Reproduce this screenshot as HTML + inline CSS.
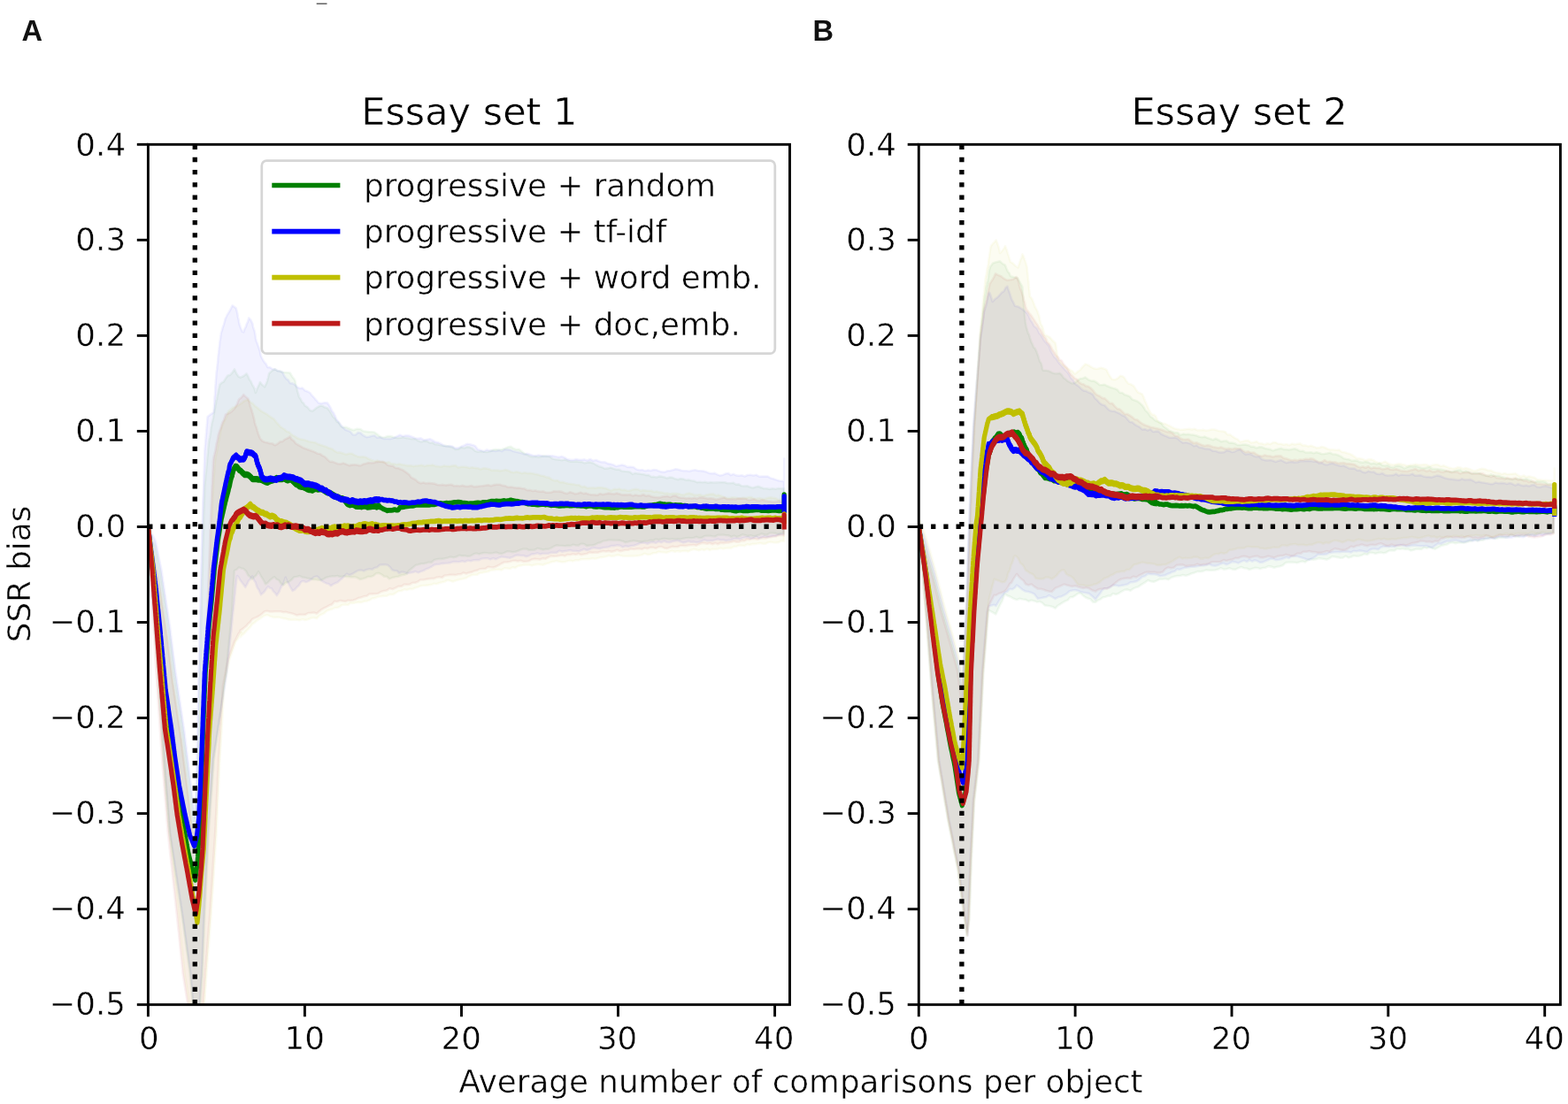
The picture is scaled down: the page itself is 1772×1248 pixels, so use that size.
<!DOCTYPE html>
<html lang="en">
<head>
<meta charset="utf-8">
<title>SSR bias</title>
<style>
html,body{margin:0;padding:0;background:#fff;}
body{width:1772px;height:1248px;overflow:hidden;}
svg{display:block;}
.t text{stroke:#fff;stroke-width:0.5px;paint-order:fill stroke;}
</style>
</head>
<body>
<svg width="1772" height="1248" viewBox="0 0 1772 1248" role="img" aria-label="SSR bias versus average number of comparisons per object for essay sets 1 and 2">
<defs>
<clipPath id="c1"><rect x="167.4" y="163.3" width="725.1" height="972.4"/></clipPath>
<clipPath id="c2"><rect x="1038.3" y="163.3" width="725.1" height="972.4"/></clipPath>
</defs>
<rect width="1772" height="1248" fill="#ffffff"/>
<line x1="357.7" y1="4.2" x2="369.5" y2="4.2" stroke="#555" stroke-width="1.4"/>
<g font-family="'DejaVu Sans', 'Liberation Sans', sans-serif" fill="#000" class="t">
<g clip-path="url(#c1)">
<path d="M166.4 599.0 L167.8 601.8 L169.3 604.7 L170.7 607.5 L172.1 610.3 L173.6 613.2 L175.0 616.0 L175.6 619.2 L176.3 622.4 L176.9 625.6 L177.6 628.8 L178.2 632.0 L178.8 635.2 L179.5 638.4 L180.1 641.6 L180.8 644.8 L181.4 648.0 L181.9 651.0 L182.3 654.1 L182.8 657.1 L183.2 660.2 L183.7 663.2 L184.1 666.3 L184.6 669.3 L185.1 672.4 L185.5 675.4 L186.0 678.5 L186.4 681.5 L186.9 684.6 L187.3 687.6 L187.8 690.7 L188.3 693.7 L188.7 696.8 L189.2 699.8 L189.6 702.9 L190.1 705.9 L190.5 709.0 L191.0 712.0 L191.4 715.1 L191.8 718.1 L192.1 721.2 L192.5 724.2 L192.9 727.3 L193.3 730.4 L193.7 733.4 L194.1 736.5 L194.4 739.5 L194.8 742.6 L195.2 745.6 L195.6 748.7 L196.0 751.8 L196.4 754.8 L196.7 757.9 L197.1 760.9 L197.5 764.0 L198.0 767.0 L198.4 770.1 L198.9 773.1 L199.3 776.2 L199.8 779.2 L200.2 782.3 L200.7 785.3 L201.1 788.4 L201.6 791.4 L202.0 794.5 L202.5 797.5 L202.9 800.6 L203.4 803.6 L203.8 806.7 L204.3 809.7 L204.7 812.8 L205.2 815.8 L205.6 818.9 L206.1 821.9 L206.5 825.0 L207.0 828.0 L207.4 831.0 L207.8 834.1 L208.1 837.1 L208.5 840.2 L208.9 843.2 L209.3 846.3 L209.7 849.3 L210.0 852.4 L210.4 855.4 L210.8 858.5 L211.2 861.5 L211.6 864.6 L212.0 867.6 L212.3 870.7 L212.7 873.7 L213.1 876.8 L213.5 879.8 L213.9 882.9 L214.2 885.9 L214.6 889.0 L215.0 892.0 L215.4 895.1 L215.7 898.2 L216.1 901.2 L216.4 904.3 L216.8 907.4 L217.2 910.5 L217.5 913.6 L217.9 916.7 L218.2 919.8 L218.6 922.8 L218.9 925.9 L219.3 929.0 L219.6 925.8 L219.9 922.7 L220.2 919.5 L220.5 916.4 L220.8 913.2 L221.1 910.1 L221.4 906.9 L221.7 903.8 L222.0 900.6 L222.3 897.5 L222.6 894.3 L222.9 891.2 L223.2 888.0 L223.3 885.0 L223.4 881.9 L223.4 878.9 L223.5 875.8 L223.6 872.8 L223.7 869.7 L223.7 866.7 L223.8 863.6 L223.9 860.6 L224.0 857.5 L224.0 854.5 L224.1 851.4 L224.2 848.4 L224.3 845.3 L224.3 842.3 L224.4 839.2 L224.5 836.2 L224.6 833.1 L224.6 830.1 L224.7 827.0 L224.8 824.0 L224.9 820.9 L224.9 817.7 L225.0 814.6 L225.0 811.4 L225.1 808.3 L225.1 805.1 L225.2 802.0 L225.2 798.9 L225.2 795.7 L225.3 792.6 L225.3 789.4 L225.4 786.3 L225.4 783.1 L225.5 780.0 L225.6 776.9 L225.6 773.9 L225.7 770.8 L225.8 767.8 L225.9 764.7 L225.9 761.6 L226.0 758.6 L226.1 755.5 L226.2 752.5 L226.2 749.4 L226.3 746.4 L226.4 743.3 L226.5 740.2 L226.5 737.2 L226.6 734.1 L226.7 731.1 L226.8 728.0 L226.8 724.9 L226.9 721.9 L227.0 718.8 L227.0 715.8 L227.1 712.7 L227.2 709.6 L227.3 706.6 L227.3 703.5 L227.4 700.5 L227.5 697.4 L227.6 694.4 L227.6 691.3 L227.7 688.2 L227.8 685.2 L227.9 682.1 L227.9 679.1 L228.0 676.0 L228.1 673.0 L228.2 670.0 L228.2 667.0 L228.3 664.0 L228.4 661.0 L228.4 658.0 L228.5 655.0 L228.6 652.0 L228.7 649.0 L228.8 646.0 L228.8 643.0 L228.9 640.0 L229.0 637.0 L229.1 634.0 L229.1 631.0 L229.2 628.0 L229.3 625.0 L229.3 622.0 L229.4 619.0 L229.5 616.0 L229.6 613.0 L229.7 610.0 L229.7 607.0 L229.8 604.0 L229.9 601.0 L230.0 598.0 L230.0 595.0 L230.1 592.0 L230.2 589.0 L230.2 586.0 L230.3 583.0 L230.4 580.0 L230.5 576.8 L230.6 573.6 L230.7 570.4 L230.8 567.2 L230.9 564.0 L231.1 560.8 L231.2 557.6 L231.3 554.4 L231.4 551.2 L231.5 548.0 L231.8 545.0 L232.1 542.0 L232.3 539.0 L232.6 536.0 L232.9 533.0 L233.2 530.0 L233.5 527.0 L233.8 524.0 L234.0 521.0 L234.3 518.0 L234.6 515.0 L234.9 512.0 L235.2 509.0 L235.4 506.0 L235.7 503.0 L236.0 500.0 L236.5 496.8 L237.1 494.2 L237.6 491.4 L238.2 486.9 L238.7 482.8 L239.2 480.2 L239.8 477.1 L240.3 475.5 L240.9 472.8 L241.4 469.6 L242.0 466.4 L242.6 463.6 L243.3 459.2 L243.9 456.3 L244.5 452.5 L245.1 451.2 L245.7 446.7 L246.3 445.0 L247.0 440.5 L247.6 438.5 L248.2 435.0 L250.5 432.7 L252.7 431.6 L255.0 427.7 L257.5 424.4 L260.0 423.9 L262.5 421.2 L265.0 417.4 L267.3 422.2 L269.6 425.8 L271.9 426.7 L275.3 425.0 L278.7 422.4 L280.4 425.4 L282.0 429.3 L283.7 431.4 L285.4 435.4 L286.5 437.0 L287.7 439.5 L288.8 444.0 L290.1 440.7 L291.4 437.6 L292.6 435.1 L293.9 432.0 L296.4 435.1 L299.0 437.3 L300.0 435.3 L301.0 433.3 L302.0 430.6 L303.0 426.7 L304.0 422.2 L307.4 419.1 L310.8 417.2 L313.6 419.2 L316.5 419.5 L319.3 420.8 L323.6 421.0 L327.8 421.5 L330.3 425.9 L332.8 429.0 L333.6 430.9 L334.5 435.8 L335.4 438.8 L336.2 442.3 L337.0 444.9 L337.9 448.4 L339.6 450.9 L341.3 454.5 L343.0 455.6 L344.7 458.7 L347.5 460.3 L350.2 463.7 L353.0 464.7 L355.9 462.4 L358.7 460.3 L361.6 458.8 L364.4 458.8 L367.2 460.6 L370.0 461.3 L372.1 463.8 L374.2 466.9 L376.4 471.1 L378.5 473.1 L380.6 476.7 L382.8 477.6 L384.9 481.4 L387.0 483.0 L391.2 482.9 L395.5 484.8 L399.4 486.3 L403.4 484.8 L407.3 485.0 L410.5 487.3 L413.6 487.7 L416.8 488.1 L420.0 488.2 L423.0 488.5 L425.9 490.6 L428.9 493.0 L431.9 494.5 L434.8 494.3 L437.8 493.1 L441.4 493.1 L444.9 494.3 L448.4 495.1 L452.0 494.9 L455.4 494.2 L458.8 494.9 L462.1 495.4 L465.5 496.3 L468.9 496.0 L472.3 498.0 L475.7 499.4 L479.1 498.4 L482.5 498.6 L485.9 500.7 L488.9 500.3 L491.9 502.3 L495.0 502.4 L498.0 503.2 L501.0 504.0 L504.4 503.9 L507.8 504.7 L511.2 505.7 L514.6 508.0 L518.0 507.8 L521.3 505.7 L524.6 506.5 L528.0 505.1 L531.0 505.6 L534.0 507.0 L537.0 509.8 L540.0 510.7 L543.4 510.3 L546.8 510.7 L550.2 510.9 L553.6 510.2 L557.0 508.6 L560.3 508.1 L563.7 508.4 L567.0 508.0 L570.3 507.0 L573.7 505.6 L577.0 504.7 L580.1 506.8 L583.3 508.0 L586.4 507.7 L589.6 510.2 L592.7 512.6 L595.9 514.1 L599.0 515.8 L602.1 516.5 L605.3 516.0 L608.4 516.7 L611.6 516.1 L614.7 515.2 L617.9 515.7 L621.0 516.0 L624.4 518.4 L627.9 519.2 L631.3 519.6 L634.7 520.3 L638.2 519.6 L641.6 520.7 L644.8 521.8 L648.0 521.7 L651.1 521.4 L654.3 521.9 L657.5 522.1 L660.6 523.4 L663.8 522.7 L667.0 522.4 L670.3 523.5 L673.7 525.5 L677.0 527.2 L680.3 528.1 L683.7 529.8 L687.0 529.4 L690.1 528.6 L693.3 529.8 L696.4 530.7 L699.6 530.7 L702.7 532.5 L705.9 532.8 L709.0 533.0 L712.0 533.6 L715.0 535.9 L718.0 534.7 L721.0 535.4 L724.0 535.8 L727.0 536.1 L730.0 537.1 L733.0 537.0 L736.0 539.0 L739.0 538.9 L742.0 539.5 L745.0 538.4 L748.0 538.8 L751.0 539.5 L754.0 540.6 L757.0 539.6 L760.0 539.8 L763.1 541.3 L766.2 542.1 L769.2 541.1 L772.3 541.6 L775.4 542.7 L778.5 542.4 L781.5 543.2 L784.6 543.8 L787.7 545.1 L790.8 544.8 L793.8 545.2 L796.9 544.7 L800.0 545.7 L803.2 545.1 L806.4 545.5 L809.5 545.4 L812.7 545.3 L815.9 545.0 L819.1 545.2 L822.3 546.3 L825.5 546.2 L828.6 545.7 L831.8 547.7 L835.0 547.4 L838.1 549.3 L841.2 549.5 L844.4 549.2 L847.5 550.6 L850.6 551.5 L853.8 550.6 L856.9 549.7 L860.0 551.0 L863.3 552.2 L866.5 552.3 L869.8 552.9 L873.1 552.3 L876.4 552.8 L879.7 552.1 L882.9 552.3 L886.2 552.4 L885.8 602.7 L882.7 602.7 L879.6 604.0 L876.4 602.9 L873.3 602.5 L870.2 602.5 L867.1 604.6 L864.0 604.5 L860.8 603.2 L857.7 604.8 L854.6 605.8 L851.5 606.3 L848.3 605.3 L845.2 605.9 L842.1 605.1 L839.0 604.3 L835.9 606.0 L832.7 606.9 L829.6 605.6 L826.5 607.0 L823.5 605.3 L820.4 605.3 L817.4 604.6 L814.3 604.7 L811.3 604.8 L808.3 606.5 L805.2 606.2 L802.2 605.8 L799.2 605.7 L796.1 606.1 L793.1 607.9 L790.0 608.1 L787.0 606.9 L784.0 608.0 L780.9 608.2 L777.9 608.1 L774.8 608.3 L771.8 608.9 L768.8 609.6 L765.7 609.2 L762.7 609.5 L759.7 609.2 L756.6 609.6 L753.6 609.2 L750.5 609.1 L747.5 609.4 L744.4 610.2 L741.2 609.5 L738.1 611.1 L735.0 610.7 L731.8 611.7 L728.7 611.8 L725.6 612.6 L722.4 612.4 L719.3 611.7 L716.2 611.3 L713.1 611.8 L709.9 612.6 L706.8 613.3 L703.7 611.7 L700.5 610.9 L697.4 610.7 L694.3 610.6 L691.1 610.5 L688.0 610.5 L684.9 611.3 L681.8 611.5 L678.7 613.3 L675.6 614.1 L672.5 615.7 L669.4 616.5 L666.3 616.5 L663.2 617.2 L660.1 615.1 L656.9 614.7 L653.8 616.6 L650.7 616.5 L647.6 615.8 L644.5 617.1 L641.4 616.9 L638.3 617.3 L635.2 617.0 L632.1 616.8 L629.0 616.4 L625.9 617.8 L622.8 619.6 L619.7 620.8 L616.6 620.9 L613.5 621.6 L610.4 620.5 L607.3 620.0 L604.2 621.6 L601.1 621.7 L597.9 622.0 L594.8 620.5 L591.7 620.6 L588.6 621.4 L585.5 622.7 L582.4 623.8 L579.3 624.3 L576.2 623.5 L573.1 623.4 L570.0 624.9 L566.8 626.1 L563.6 625.4 L560.5 624.4 L557.3 625.2 L554.1 625.5 L550.9 625.3 L547.7 625.0 L544.5 625.4 L541.4 626.4 L538.2 625.6 L535.0 626.6 L531.8 628.5 L528.6 629.0 L525.4 628.2 L522.2 628.4 L519.0 627.8 L515.8 629.5 L512.5 630.3 L509.3 629.6 L506.1 630.5 L502.9 631.3 L499.7 631.9 L496.5 631.8 L493.6 632.3 L490.6 633.1 L487.7 635.7 L484.7 635.6 L481.8 636.5 L478.8 637.2 L475.9 637.3 L472.9 638.3 L470.0 638.8 L467.4 640.9 L464.8 643.1 L462.2 645.1 L459.6 648.8 L457.0 649.8 L453.6 650.2 L450.2 651.8 L446.8 652.2 L443.4 653.1 L440.0 654.4 L437.0 651.8 L434.0 651.6 L431.0 649.3 L428.0 647.9 L425.0 648.2 L422.0 650.9 L419.0 652.0 L416.0 651.9 L413.0 653.3 L410.0 654.2 L407.0 655.0 L404.0 653.3 L401.0 652.1 L398.0 652.4 L395.0 652.3 L391.6 652.0 L388.2 651.3 L384.8 652.2 L381.4 651.0 L378.0 651.5 L375.0 651.4 L372.0 652.1 L369.0 652.7 L366.0 654.4 L363.0 655.9 L360.0 655.7 L356.9 655.2 L353.9 655.2 L350.8 654.2 L347.7 653.8 L344.6 653.1 L341.6 652.6 L338.5 651.1 L335.4 652.0 L332.3 652.4 L329.2 655.8 L326.2 658.0 L323.1 658.7 L320.0 661.4 L317.5 659.8 L315.0 655.9 L312.5 654.9 L310.0 652.2 L307.5 654.1 L305.0 656.1 L302.5 658.8 L300.0 660.4 L298.4 657.1 L296.8 654.3 L295.2 652.0 L293.6 649.0 L292.0 646.1 L289.7 650.3 L287.3 652.3 L285.0 654.8 L282.7 652.2 L280.3 650.3 L278.0 645.7 L275.3 643.1 L272.7 642.5 L270.0 641.4 L267.5 643.9 L265.0 645.0 L264.8 647.2 L264.6 649.3 L264.4 653.8 L264.2 657.2 L264.0 659.8 L263.8 663.3 L263.6 665.1 L263.4 668.3 L263.2 672.4 L263.1 673.8 L262.9 677.4 L262.7 679.5 L262.5 683.9 L262.3 687.6 L262.1 690.4 L261.9 692.8 L261.7 694.3 L261.5 697.9 L261.2 700.9 L260.9 704.6 L260.6 707.7 L260.3 710.8 L260.0 713.9 L259.7 717.0 L259.4 720.0 L259.1 723.1 L258.8 726.2 L258.5 729.2 L258.2 732.3 L257.9 735.4 L257.6 738.5 L257.3 741.5 L257.0 744.6 L256.7 747.7 L256.4 750.8 L256.1 753.9 L255.8 756.9 L255.5 760.0 L255.1 763.1 L254.6 766.1 L254.2 769.2 L253.8 772.2 L253.4 775.3 L252.9 778.4 L252.5 781.4 L252.1 784.5 L251.6 787.6 L251.2 790.6 L250.8 793.7 L250.4 796.8 L249.9 799.8 L249.5 802.9 L249.1 805.9 L248.7 809.0 L248.2 812.1 L247.8 815.1 L247.4 818.2 L246.9 821.2 L246.5 824.3 L246.1 827.4 L245.7 830.4 L245.2 833.5 L244.8 836.6 L244.4 839.6 L243.9 842.7 L243.5 845.8 L243.1 848.8 L242.7 851.9 L242.2 854.9 L241.8 858.0 L241.6 861.0 L241.4 864.1 L241.2 867.1 L241.0 870.1 L240.7 873.2 L240.5 876.2 L240.3 879.3 L240.1 882.3 L239.9 885.3 L239.7 888.4 L239.5 891.4 L239.3 894.4 L239.1 897.5 L238.8 900.5 L238.6 903.6 L238.4 906.6 L238.2 909.6 L238.0 912.7 L237.8 915.7 L237.6 918.7 L237.4 921.8 L237.2 924.8 L236.9 927.9 L236.7 930.9 L236.5 933.9 L236.3 937.0 L236.1 940.0 L236.0 943.0 L235.8 946.0 L235.7 949.0 L235.5 952.0 L235.4 955.0 L235.2 958.0 L235.1 961.0 L234.9 964.0 L234.8 967.0 L234.6 970.0 L234.5 973.0 L234.3 976.0 L234.2 979.0 L234.0 982.0 L233.9 985.0 L233.7 988.0 L233.6 991.0 L233.4 994.0 L233.3 997.0 L233.1 1000.0 L233.0 1003.0 L232.8 1006.0 L232.7 1009.0 L232.5 1012.0 L232.4 1015.0 L232.2 1018.0 L232.1 1021.0 L231.9 1024.0 L231.8 1027.0 L231.6 1030.0 L231.5 1033.0 L231.3 1036.0 L231.2 1039.0 L231.1 1042.1 L230.9 1045.1 L230.8 1048.2 L230.7 1051.2 L230.6 1054.3 L230.5 1057.3 L230.3 1060.4 L230.2 1063.4 L230.1 1066.5 L230.0 1069.5 L229.9 1072.6 L229.8 1075.6 L229.6 1078.7 L229.5 1081.7 L229.4 1084.8 L229.3 1087.8 L229.2 1090.9 L229.0 1093.9 L228.9 1097.0 L228.8 1100.0 L228.6 1103.2 L228.3 1106.4 L228.1 1109.5 L227.9 1112.7 L227.7 1115.9 L227.4 1119.1 L227.2 1122.3 L227.0 1125.5 L226.8 1128.6 L226.5 1131.8 L226.3 1135.0 L225.6 1138.0 L224.9 1141.0 L224.2 1144.0 L223.5 1147.0 L222.8 1150.0 L222.2 1153.0 L221.5 1156.0 L220.8 1159.0 L220.1 1162.0 L219.4 1165.0 L219.2 1162.0 L219.1 1159.0 L218.9 1156.0 L218.7 1153.0 L218.5 1150.0 L218.4 1147.0 L218.2 1144.0 L218.0 1141.0 L217.9 1138.0 L217.7 1135.0 L217.4 1131.8 L217.1 1128.6 L216.8 1125.5 L216.5 1122.3 L216.2 1119.1 L216.0 1115.9 L215.7 1112.7 L215.4 1109.5 L215.1 1106.4 L214.8 1103.2 L214.5 1100.0 L214.1 1097.0 L213.7 1093.9 L213.2 1090.9 L212.8 1087.8 L212.4 1084.8 L212.0 1081.7 L211.6 1078.7 L211.1 1075.6 L210.7 1072.6 L210.3 1069.5 L209.9 1066.5 L209.5 1063.4 L209.1 1060.4 L208.6 1057.3 L208.2 1054.3 L207.8 1051.2 L207.4 1048.2 L207.0 1045.1 L206.5 1042.1 L206.1 1039.0 L205.7 1036.0 L205.2 1032.9 L204.8 1029.9 L204.3 1026.8 L203.8 1023.7 L203.4 1020.7 L202.9 1017.6 L202.4 1014.5 L202.0 1011.5 L201.5 1008.4 L201.0 1005.3 L200.6 1002.3 L200.1 999.2 L199.6 996.1 L199.2 993.1 L198.7 990.0 L198.2 986.9 L197.8 983.8 L197.3 980.6 L196.8 977.5 L196.4 974.4 L195.9 971.2 L195.4 968.1 L194.9 965.0 L194.5 961.9 L194.0 958.8 L193.5 955.6 L193.1 952.5 L192.6 949.4 L192.1 946.2 L191.7 943.1 L191.2 940.0 L191.0 937.0 L190.7 933.9 L190.5 930.9 L190.2 927.9 L190.0 924.8 L189.8 921.8 L189.5 918.7 L189.3 915.7 L189.0 912.7 L188.8 909.6 L188.6 906.6 L188.3 903.6 L188.1 900.5 L187.8 897.5 L187.6 894.4 L187.3 891.4 L187.1 888.4 L186.9 885.3 L186.6 882.3 L186.4 879.3 L186.1 876.2 L185.9 873.2 L185.7 870.1 L185.4 867.1 L185.2 864.1 L184.9 861.0 L184.7 858.0 L184.5 854.9 L184.3 851.9 L184.1 848.8 L183.9 845.8 L183.7 842.7 L183.5 839.6 L183.3 836.6 L183.1 833.5 L182.9 830.4 L182.7 827.4 L182.5 824.3 L182.3 821.2 L182.1 818.2 L181.9 815.1 L181.7 812.1 L181.4 809.0 L181.2 805.9 L181.0 802.9 L180.8 799.8 L180.6 796.8 L180.4 793.7 L180.2 790.6 L180.0 787.6 L179.8 784.5 L179.6 781.4 L179.4 778.4 L179.2 775.3 L179.0 772.2 L178.8 769.2 L178.6 766.1 L178.4 763.1 L178.2 760.0 L178.0 756.9 L177.7 753.8 L177.5 750.8 L177.3 747.7 L177.0 744.6 L176.8 741.5 L176.6 738.5 L176.4 735.4 L176.1 732.3 L175.9 729.2 L175.7 726.2 L175.4 723.1 L175.2 720.0 L175.0 716.9 L174.7 713.8 L174.5 710.8 L174.3 707.7 L174.0 704.6 L173.8 701.5 L173.6 698.5 L173.4 695.4 L173.1 692.3 L172.9 689.2 L172.7 686.2 L172.4 683.1 L172.2 680.0 L172.0 677.0 L171.8 673.9 L171.6 670.9 L171.4 667.9 L171.2 664.8 L171.0 661.8 L170.8 658.8 L170.6 655.7 L170.4 652.7 L170.2 649.6 L170.0 646.6 L169.8 643.6 L169.6 640.5 L169.4 637.5 L169.2 634.5 L169.0 631.4 L168.8 628.4 L168.6 625.4 L168.4 622.3 L168.2 619.3 L168.0 616.2 L167.8 613.2 L167.6 610.2 L167.4 607.1 L167.2 604.1 L167.0 601.1 L166.8 598.0 L166.6 595.0Z" fill="#008000" fill-opacity="0.050" stroke="#008000" stroke-opacity="0.050" stroke-width="2.6" stroke-linejoin="round"/>
<path d="M167.4 595.0 L168.8 597.8 L170.3 600.7 L171.7 603.5 L173.1 606.3 L174.6 609.2 L176.0 612.0 L176.6 615.2 L177.3 618.4 L177.9 621.6 L178.6 624.8 L179.2 628.0 L179.8 631.2 L180.5 634.4 L181.1 637.6 L181.8 640.8 L182.4 644.0 L182.9 647.0 L183.3 650.1 L183.8 653.1 L184.2 656.2 L184.7 659.2 L185.1 662.3 L185.6 665.3 L186.1 668.4 L186.5 671.4 L187.0 674.5 L187.4 677.5 L187.9 680.6 L188.3 683.6 L188.8 686.7 L189.3 689.7 L189.7 692.8 L190.2 695.8 L190.6 698.9 L191.1 701.9 L191.5 705.0 L192.0 708.0 L192.4 711.1 L192.8 714.1 L193.1 717.2 L193.5 720.2 L193.9 723.3 L194.3 726.4 L194.7 729.4 L195.1 732.5 L195.4 735.5 L195.8 738.6 L196.2 741.6 L196.6 744.7 L197.0 747.8 L197.4 750.8 L197.7 753.9 L198.1 756.9 L198.5 760.0 L199.0 763.0 L199.4 766.1 L199.9 769.1 L200.3 772.2 L200.8 775.2 L201.2 778.3 L201.7 781.3 L202.1 784.4 L202.6 787.4 L203.0 790.5 L203.5 793.5 L203.9 796.6 L204.4 799.6 L204.8 802.7 L205.3 805.7 L205.7 808.8 L206.2 811.8 L206.6 814.9 L207.1 817.9 L207.5 821.0 L208.0 824.0 L208.4 827.0 L208.8 830.1 L209.1 833.1 L209.5 836.2 L209.9 839.2 L210.3 842.3 L210.7 845.3 L211.0 848.4 L211.4 851.4 L211.8 854.5 L212.2 857.5 L212.6 860.6 L213.0 863.6 L213.3 866.7 L213.7 869.7 L214.1 872.8 L214.5 875.8 L214.9 878.9 L215.2 881.9 L215.6 885.0 L216.0 888.0 L216.4 891.1 L216.7 894.2 L217.1 897.2 L217.4 900.3 L217.8 903.4 L218.2 906.5 L218.5 909.6 L218.9 912.7 L219.2 915.8 L219.6 918.8 L219.9 921.9 L220.3 925.0 L220.4 921.9 L220.5 918.8 L220.7 915.8 L220.8 912.7 L220.9 909.6 L221.0 906.5 L221.1 903.4 L221.2 900.3 L221.3 897.2 L221.5 894.2 L221.6 891.1 L221.7 888.0 L221.8 885.0 L221.9 881.9 L221.9 878.9 L222.0 875.8 L222.1 872.8 L222.2 869.7 L222.2 866.7 L222.3 863.6 L222.4 860.6 L222.5 857.5 L222.5 854.5 L222.6 851.4 L222.7 848.4 L222.8 845.3 L222.8 842.3 L222.9 839.2 L223.0 836.2 L223.1 833.1 L223.1 830.1 L223.2 827.0 L223.3 824.0 L223.4 820.9 L223.4 817.7 L223.5 814.6 L223.5 811.4 L223.6 808.3 L223.6 805.1 L223.7 802.0 L223.7 798.9 L223.8 795.7 L223.8 792.6 L223.8 789.4 L223.9 786.3 L223.9 783.1 L224.0 780.0 L224.1 776.9 L224.1 773.9 L224.2 770.8 L224.3 767.8 L224.4 764.7 L224.4 761.6 L224.5 758.6 L224.6 755.5 L224.7 752.5 L224.7 749.4 L224.8 746.4 L224.9 743.3 L225.0 740.2 L225.0 737.2 L225.1 734.1 L225.2 731.1 L225.2 728.0 L225.3 724.9 L225.4 721.9 L225.5 718.8 L225.5 715.8 L225.6 712.7 L225.7 709.6 L225.8 706.6 L225.8 703.5 L225.9 700.5 L226.0 697.4 L226.1 694.4 L226.1 691.3 L226.2 688.2 L226.3 685.2 L226.4 682.1 L226.4 679.1 L226.5 676.0 L226.6 673.0 L226.7 670.0 L226.7 667.0 L226.8 664.0 L226.9 661.0 L226.9 658.0 L227.0 655.0 L227.1 652.0 L227.2 649.0 L227.2 646.0 L227.3 643.0 L227.4 640.0 L227.5 637.0 L227.6 634.0 L227.6 631.0 L227.7 628.0 L227.8 625.0 L227.8 622.0 L227.9 619.0 L228.0 616.0 L228.1 613.0 L228.2 610.0 L228.2 607.0 L228.3 604.0 L228.4 601.0 L228.5 598.0 L228.5 595.0 L228.6 592.0 L228.7 589.0 L228.8 586.0 L228.8 583.0 L228.9 580.0 L229.0 576.8 L229.1 573.6 L229.2 570.4 L229.3 567.2 L229.4 564.0 L229.6 560.8 L229.7 557.6 L229.8 554.4 L229.9 551.2 L230.0 548.0 L230.1 544.8 L230.2 541.7 L230.3 538.5 L230.4 535.3 L230.5 532.2 L230.7 529.0 L230.8 525.8 L230.9 522.7 L231.0 519.5 L231.1 516.3 L231.2 513.2 L231.3 510.0 L231.6 507.0 L231.8 504.0 L232.1 501.0 L232.3 498.0 L232.6 495.0 L232.8 492.0 L233.1 489.0 L233.3 486.0 L233.6 483.0 L233.8 480.0 L234.1 477.0 L234.3 474.0 L234.6 471.0 L238.0 468.4 L241.4 466.1 L241.6 464.1 L241.9 460.2 L242.1 456.8 L242.3 453.7 L242.5 449.5 L242.8 446.7 L243.0 444.0 L243.2 441.6 L243.4 436.8 L243.7 433.4 L243.9 429.6 L244.1 428.1 L244.3 425.4 L244.6 420.7 L244.8 419.4 L245.2 417.2 L245.5 413.7 L245.9 410.4 L246.3 405.9 L246.6 401.7 L247.0 399.6 L247.4 395.7 L247.7 392.6 L248.1 389.6 L248.4 386.0 L248.8 384.0 L249.2 381.3 L249.5 379.6 L249.9 376.3 L250.9 373.4 L251.8 370.0 L252.8 367.2 L253.8 363.6 L254.8 359.8 L255.7 358.3 L256.7 356.0 L258.7 352.9 L260.6 349.5 L262.6 345.3 L266.8 348.4 L267.5 351.2 L268.2 353.6 L268.9 358.3 L269.6 361.1 L270.3 365.4 L271.0 367.8 L272.4 371.8 L273.9 374.9 L275.3 375.4 L276.5 371.5 L277.7 369.8 L278.8 366.0 L280.0 363.9 L281.2 359.4 L283.3 361.5 L285.4 365.9 L286.1 369.9 L286.9 372.0 L287.6 374.1 L288.3 377.5 L289.0 382.5 L289.8 385.9 L290.5 387.5 L291.5 390.4 L292.5 393.2 L293.6 396.2 L294.6 401.4 L295.6 404.0 L297.3 407.2 L299.0 409.7 L300.7 411.5 L302.4 415.1 L305.2 415.2 L308.0 417.3 L310.8 417.4 L313.6 418.9 L316.5 419.6 L319.3 420.8 L321.4 425.2 L323.6 428.2 L325.7 429.6 L327.8 433.1 L330.6 433.4 L333.4 434.9 L336.2 437.8 L339.0 439.0 L341.9 438.6 L344.7 441.5 L347.5 442.4 L350.2 444.0 L353.0 447.4 L354.8 449.3 L356.5 451.5 L358.2 453.2 L360.0 455.5 L363.3 456.1 L366.7 455.2 L370.0 455.4 L371.7 457.8 L373.4 460.5 L375.2 464.5 L376.9 466.5 L378.6 469.8 L380.2 474.0 L381.9 475.8 L383.6 478.3 L387.0 482.5 L390.4 485.7 L393.2 486.7 L396.1 488.1 L398.9 491.5 L401.7 491.5 L404.5 488.9 L407.3 489.2 L410.6 492.2 L414.0 494.1 L417.1 493.7 L420.1 492.7 L423.2 492.3 L426.2 494.8 L429.3 494.2 L433.6 495.9 L437.8 495.9 L441.4 496.1 L444.9 495.1 L448.4 493.3 L452.0 491.6 L455.4 493.1 L458.8 492.2 L462.1 492.5 L465.5 493.7 L468.9 495.3 L472.3 495.7 L475.7 495.4 L479.1 497.4 L482.5 496.7 L485.9 496.2 L488.9 497.7 L491.9 499.6 L495.0 500.1 L498.0 501.4 L501.0 503.3 L504.4 504.5 L507.8 504.0 L511.2 504.6 L514.6 506.6 L518.0 506.4 L521.3 504.8 L524.6 503.4 L528.0 501.8 L531.0 502.2 L534.0 502.9 L537.0 504.1 L540.0 508.1 L543.4 508.9 L546.8 510.2 L550.2 508.4 L553.6 509.4 L557.0 509.6 L560.3 510.0 L563.7 508.9 L567.0 510.1 L570.3 508.0 L573.7 508.1 L577.0 508.6 L580.1 510.1 L583.3 510.8 L586.4 511.4 L589.6 512.3 L592.7 513.5 L595.9 512.8 L599.0 513.8 L602.1 514.7 L605.3 515.3 L608.4 514.4 L611.6 515.1 L614.7 515.7 L617.9 515.4 L621.0 515.4 L624.4 515.3 L627.9 516.0 L631.3 516.7 L634.7 515.9 L638.2 517.3 L641.6 519.3 L644.8 519.9 L648.0 519.9 L651.1 519.1 L654.3 519.7 L657.5 519.7 L660.6 519.4 L663.8 520.5 L667.0 519.0 L670.3 520.8 L673.7 520.0 L677.0 521.6 L680.3 522.4 L683.7 522.4 L687.0 524.1 L690.1 524.6 L693.3 525.5 L696.4 527.1 L699.6 526.3 L702.7 525.5 L705.9 526.2 L709.0 527.9 L712.4 527.8 L715.8 528.0 L719.2 530.5 L722.6 531.5 L725.8 531.1 L729.0 532.3 L732.2 531.4 L735.4 532.0 L738.6 531.1 L741.8 531.3 L745.0 532.6 L748.1 533.4 L751.2 533.6 L754.3 532.2 L757.4 532.1 L760.5 531.2 L763.5 530.2 L766.6 530.7 L769.7 531.8 L772.8 532.3 L775.9 532.2 L779.0 532.7 L782.2 531.7 L785.5 531.2 L788.7 532.1 L791.9 532.3 L795.1 532.6 L798.4 533.5 L801.6 534.9 L804.6 535.2 L807.7 534.9 L810.7 536.4 L813.7 537.6 L816.8 536.9 L819.8 535.6 L822.9 534.9 L825.9 537.1 L828.9 535.9 L832.0 537.4 L835.0 537.8 L838.3 537.3 L841.6 538.5 L844.9 537.0 L848.1 536.7 L851.4 537.5 L854.7 536.8 L858.0 538.7 L861.2 538.6 L864.5 538.6 L867.7 538.6 L870.9 540.5 L874.1 541.3 L877.4 542.5 L880.6 543.5 L886.2 544.1 L886.2 541.8 L886.2 538.3 L886.2 533.7 L886.2 530.6 L886.2 526.7 L886.2 522.7 L886.2 520.5 L886.2 518.5 L885.8 604.1 L882.7 604.1 L879.6 604.4 L876.4 605.7 L873.3 605.9 L870.2 606.4 L867.1 607.2 L864.0 606.6 L860.8 607.6 L857.7 608.5 L854.6 606.7 L851.5 608.3 L848.3 608.7 L845.2 607.3 L842.1 607.6 L839.0 608.3 L835.9 609.6 L832.7 608.9 L829.6 609.1 L826.5 610.2 L823.5 610.6 L820.4 611.3 L817.4 610.3 L814.3 610.5 L811.3 609.4 L808.3 610.3 L805.2 611.2 L802.2 611.2 L799.2 611.5 L796.1 610.3 L793.1 611.7 L790.0 612.7 L787.0 613.3 L784.0 612.4 L780.9 612.7 L777.9 611.7 L774.8 612.9 L771.8 613.4 L768.8 612.3 L765.7 611.1 L762.7 611.6 L759.7 612.2 L756.6 613.2 L753.6 613.0 L750.5 611.7 L747.5 613.3 L744.4 612.2 L741.2 613.8 L738.1 613.0 L735.0 613.2 L731.8 614.7 L728.7 613.8 L725.6 613.5 L722.4 614.5 L719.3 615.7 L716.2 616.7 L713.1 617.0 L709.9 617.9 L706.8 617.3 L703.7 618.4 L700.5 616.6 L697.4 616.3 L694.3 617.1 L691.1 617.0 L688.0 618.2 L684.9 618.8 L681.8 619.0 L678.7 620.1 L675.6 620.0 L672.5 619.4 L669.4 619.5 L666.3 621.0 L663.2 622.0 L660.1 620.8 L656.9 622.1 L653.8 623.3 L650.7 622.8 L647.6 622.8 L644.5 621.9 L641.4 622.6 L638.3 623.0 L635.2 623.6 L632.1 622.5 L629.0 624.7 L625.9 624.7 L622.8 624.6 L619.7 625.8 L616.6 625.8 L613.5 625.8 L610.4 626.6 L607.3 625.3 L604.2 626.2 L601.1 626.4 L597.9 628.2 L594.8 629.2 L591.7 628.0 L588.6 628.1 L585.5 627.4 L582.4 628.0 L579.3 629.6 L576.2 630.8 L573.1 630.3 L570.0 629.8 L566.8 629.4 L563.6 630.6 L560.5 632.2 L557.3 631.0 L554.1 632.4 L550.9 631.1 L547.7 631.2 L544.5 631.5 L541.4 633.1 L538.2 633.0 L535.0 633.3 L531.8 634.3 L528.6 633.6 L525.4 635.1 L522.2 634.3 L519.0 635.2 L515.8 635.1 L512.5 635.0 L509.3 636.1 L506.1 636.5 L502.9 636.8 L499.7 637.1 L496.5 637.8 L493.5 638.0 L490.6 638.6 L487.6 640.7 L484.6 642.2 L481.7 643.2 L478.7 645.1 L475.8 645.9 L472.8 647.4 L469.7 646.1 L466.6 646.9 L463.5 647.6 L460.3 648.3 L457.2 647.1 L454.1 646.5 L451.0 648.0 L448.4 645.2 L445.8 645.3 L443.1 644.2 L440.5 640.8 L437.9 638.7 L435.3 638.2 L432.3 638.4 L429.4 638.6 L426.4 641.2 L423.4 641.9 L420.5 643.8 L417.5 643.3 L414.3 644.0 L411.1 645.5 L407.9 644.6 L404.6 645.0 L401.4 646.9 L398.2 648.8 L395.0 650.2 L391.8 648.8 L389.3 651.1 L386.7 654.0 L384.2 655.8 L381.6 658.3 L379.1 659.2 L376.5 660.4 L374.0 662.2 L371.4 660.0 L368.8 659.4 L366.1 658.1 L363.5 656.6 L360.9 653.8 L358.3 651.6 L355.1 652.3 L352.0 654.8 L348.8 656.9 L345.7 658.1 L342.5 656.8 L340.1 657.9 L337.7 662.0 L335.4 663.8 L333.0 666.6 L330.6 667.9 L329.0 665.1 L327.4 662.4 L325.9 659.4 L324.3 657.0 L322.7 652.7 L321.3 656.8 L319.9 660.6 L318.5 662.1 L317.0 665.1 L315.6 668.8 L314.2 671.1 L312.8 673.1 L310.8 670.2 L308.9 668.6 L306.9 665.1 L305.0 664.7 L303.0 663.0 L301.0 665.6 L299.0 668.5 L297.0 670.6 L295.0 672.3 L293.8 669.7 L292.5 666.7 L291.2 665.2 L290.0 662.6 L288.8 658.4 L287.5 656.7 L286.2 654.0 L285.0 651.4 L283.1 654.6 L281.1 656.5 L279.2 660.4 L277.3 663.8 L275.4 661.0 L273.6 658.7 L271.7 656.3 L269.9 652.9 L268.0 650.9 L267.7 652.4 L267.3 655.4 L267.0 658.9 L266.6 660.9 L266.3 664.4 L265.9 668.5 L265.6 672.1 L265.2 674.4 L264.9 679.1 L264.6 682.2 L264.2 684.4 L263.9 688.0 L263.5 691.0 L263.2 694.1 L262.8 696.7 L262.5 701.3 L262.2 704.1 L261.9 707.1 L261.6 710.3 L261.3 714.0 L261.0 715.0 L260.7 718.0 L260.4 721.0 L260.1 724.0 L259.8 727.0 L259.5 730.0 L259.2 733.0 L258.9 736.0 L258.6 739.0 L258.3 742.0 L258.0 745.0 L257.7 748.0 L257.4 751.0 L257.1 754.0 L256.8 757.0 L256.5 760.0 L256.0 763.0 L255.6 765.9 L255.1 768.9 L254.6 771.9 L254.2 774.8 L253.7 777.8 L253.2 780.8 L252.7 783.8 L252.3 786.7 L251.8 789.7 L251.3 792.7 L250.9 795.6 L250.4 798.6 L249.9 801.6 L249.5 804.5 L249.0 807.5 L248.5 810.5 L248.0 813.5 L247.6 816.4 L247.1 819.4 L246.6 822.4 L246.2 825.3 L245.7 828.3 L245.2 831.3 L244.8 834.2 L244.3 837.2 L243.8 840.2 L243.3 843.2 L242.9 846.1 L242.4 849.1 L241.9 852.1 L241.5 855.0 L241.0 858.0 L240.8 861.0 L240.6 864.1 L240.4 867.1 L240.2 870.1 L239.9 873.2 L239.7 876.2 L239.5 879.3 L239.3 882.3 L239.1 885.3 L238.9 888.4 L238.7 891.4 L238.5 894.4 L238.3 897.5 L238.0 900.5 L237.8 903.6 L237.6 906.6 L237.4 909.6 L237.2 912.7 L237.0 915.7 L236.8 918.7 L236.6 921.8 L236.4 924.8 L236.1 927.9 L235.9 930.9 L235.7 933.9 L235.5 937.0 L235.3 940.0 L235.2 943.0 L235.0 946.0 L234.9 949.0 L234.7 952.0 L234.6 955.0 L234.4 958.0 L234.2 961.0 L234.1 964.0 L234.0 967.0 L233.8 970.0 L233.7 973.0 L233.5 976.0 L233.3 979.0 L233.2 982.0 L233.1 985.0 L232.9 988.0 L232.8 991.0 L232.6 994.0 L232.5 997.0 L232.3 1000.0 L232.2 1003.0 L232.0 1006.0 L231.8 1009.0 L231.7 1012.0 L231.6 1015.0 L231.4 1018.0 L231.2 1021.0 L231.1 1024.0 L230.9 1027.0 L230.8 1030.0 L230.7 1033.0 L230.5 1036.0 L230.4 1039.0 L230.3 1042.1 L230.1 1045.1 L230.0 1048.2 L229.9 1051.2 L229.8 1054.3 L229.7 1057.3 L229.5 1060.4 L229.4 1063.4 L229.3 1066.5 L229.2 1069.5 L229.1 1072.6 L229.0 1075.6 L228.8 1078.7 L228.7 1081.7 L228.6 1084.8 L228.5 1087.8 L228.4 1090.9 L228.2 1093.9 L228.1 1097.0 L228.0 1100.0 L227.8 1103.2 L227.5 1106.4 L227.3 1109.5 L227.1 1112.7 L226.9 1115.9 L226.6 1119.1 L226.4 1122.3 L226.2 1125.5 L226.0 1128.6 L225.7 1131.8 L225.5 1135.0 L225.0 1138.0 L224.4 1141.0 L223.9 1144.0 L223.4 1147.0 L222.8 1150.0 L222.3 1153.0 L221.8 1156.0 L221.3 1159.0 L220.7 1162.0 L220.2 1165.0 L220.0 1162.0 L219.9 1159.0 L219.7 1156.0 L219.5 1153.0 L219.3 1150.0 L219.2 1147.0 L219.0 1144.0 L218.8 1141.0 L218.7 1138.0 L218.5 1135.0 L218.2 1131.8 L217.9 1128.6 L217.6 1125.5 L217.3 1122.3 L217.0 1119.1 L216.8 1115.9 L216.5 1112.7 L216.2 1109.5 L215.9 1106.4 L215.6 1103.2 L215.3 1100.0 L214.9 1097.0 L214.5 1093.9 L214.0 1090.9 L213.6 1087.8 L213.2 1084.8 L212.8 1081.7 L212.4 1078.7 L211.9 1075.6 L211.5 1072.6 L211.1 1069.5 L210.7 1066.5 L210.3 1063.4 L209.9 1060.4 L209.4 1057.3 L209.0 1054.3 L208.6 1051.2 L208.2 1048.2 L207.8 1045.1 L207.3 1042.1 L206.9 1039.0 L206.5 1036.0 L206.0 1032.9 L205.6 1029.9 L205.1 1026.8 L204.6 1023.7 L204.2 1020.7 L203.7 1017.6 L203.2 1014.5 L202.8 1011.5 L202.3 1008.4 L201.8 1005.3 L201.4 1002.3 L200.9 999.2 L200.4 996.1 L200.0 993.1 L199.5 990.0 L199.0 986.9 L198.6 983.8 L198.1 980.6 L197.6 977.5 L197.2 974.4 L196.7 971.2 L196.2 968.1 L195.8 965.0 L195.3 961.9 L194.8 958.8 L194.3 955.6 L193.9 952.5 L193.4 949.4 L192.9 946.2 L192.5 943.1 L192.0 940.0 L191.8 937.0 L191.5 933.9 L191.3 930.9 L191.0 927.9 L190.8 924.8 L190.6 921.8 L190.3 918.7 L190.1 915.7 L189.8 912.7 L189.6 909.6 L189.4 906.6 L189.1 903.6 L188.9 900.5 L188.6 897.5 L188.4 894.4 L188.1 891.4 L187.9 888.4 L187.7 885.3 L187.4 882.3 L187.2 879.3 L186.9 876.2 L186.7 873.2 L186.5 870.1 L186.2 867.1 L186.0 864.1 L185.7 861.0 L185.5 858.0 L185.3 854.9 L185.1 851.9 L184.9 848.8 L184.7 845.8 L184.5 842.7 L184.3 839.6 L184.1 836.6 L183.9 833.5 L183.7 830.4 L183.5 827.4 L183.3 824.3 L183.1 821.2 L182.9 818.2 L182.7 815.1 L182.5 812.1 L182.2 809.0 L182.0 805.9 L181.8 802.9 L181.6 799.8 L181.4 796.8 L181.2 793.7 L181.0 790.6 L180.8 787.6 L180.6 784.5 L180.4 781.4 L180.2 778.4 L180.0 775.3 L179.8 772.2 L179.6 769.2 L179.4 766.1 L179.2 763.1 L179.0 760.0 L178.8 756.9 L178.5 753.8 L178.3 750.8 L178.1 747.7 L177.8 744.6 L177.6 741.5 L177.4 738.5 L177.2 735.4 L176.9 732.3 L176.7 729.2 L176.5 726.2 L176.2 723.1 L176.0 720.0 L175.8 716.9 L175.5 713.8 L175.3 710.8 L175.1 707.7 L174.8 704.6 L174.6 701.5 L174.4 698.5 L174.2 695.4 L173.9 692.3 L173.7 689.2 L173.5 686.2 L173.2 683.1 L173.0 680.0 L172.8 677.0 L172.6 673.9 L172.4 670.9 L172.2 667.9 L172.0 664.8 L171.8 661.8 L171.6 658.8 L171.4 655.7 L171.2 652.7 L171.0 649.6 L170.8 646.6 L170.6 643.6 L170.4 640.5 L170.2 637.5 L170.0 634.5 L169.8 631.4 L169.6 628.4 L169.4 625.4 L169.2 622.3 L169.0 619.3 L168.8 616.2 L168.6 613.2 L168.4 610.2 L168.2 607.1 L168.0 604.1 L167.8 601.1 L167.6 598.0 L167.4 595.0Z" fill="#0000ff" fill-opacity="0.050" stroke="#0000ff" stroke-opacity="0.050" stroke-width="2.6" stroke-linejoin="round"/>
<path d="M164.4 605.0 L165.8 607.8 L167.3 610.7 L168.7 613.5 L170.1 616.3 L171.6 619.2 L173.0 622.0 L173.6 625.2 L174.3 628.4 L174.9 631.6 L175.6 634.8 L176.2 638.0 L176.8 641.2 L177.5 644.4 L178.1 647.6 L178.8 650.8 L179.4 654.0 L179.9 657.0 L180.3 660.1 L180.8 663.1 L181.2 666.2 L181.7 669.2 L182.1 672.3 L182.6 675.3 L183.1 678.4 L183.5 681.4 L184.0 684.5 L184.4 687.5 L184.9 690.6 L185.3 693.6 L185.8 696.7 L186.3 699.7 L186.7 702.8 L187.2 705.8 L187.6 708.9 L188.1 711.9 L188.5 715.0 L189.0 718.0 L189.4 721.1 L189.8 724.1 L190.1 727.2 L190.5 730.2 L190.9 733.3 L191.3 736.4 L191.7 739.4 L192.1 742.5 L192.4 745.5 L192.8 748.6 L193.2 751.6 L193.6 754.7 L194.0 757.8 L194.4 760.8 L194.7 763.9 L195.1 766.9 L195.5 770.0 L196.0 773.0 L196.4 776.1 L196.9 779.1 L197.3 782.2 L197.8 785.2 L198.2 788.3 L198.7 791.3 L199.1 794.4 L199.6 797.4 L200.0 800.5 L200.5 803.5 L200.9 806.6 L201.4 809.6 L201.8 812.7 L202.3 815.7 L202.7 818.8 L203.2 821.8 L203.6 824.9 L204.1 827.9 L204.5 831.0 L205.0 834.0 L205.4 837.0 L205.8 840.1 L206.1 843.1 L206.5 846.2 L206.9 849.2 L207.3 852.3 L207.7 855.3 L208.0 858.4 L208.4 861.4 L208.8 864.5 L209.2 867.5 L209.6 870.6 L210.0 873.6 L210.3 876.7 L210.7 879.7 L211.1 882.8 L211.5 885.8 L211.9 888.9 L212.2 891.9 L212.6 895.0 L213.0 898.0 L213.4 901.1 L213.7 904.2 L214.1 907.2 L214.4 910.3 L214.8 913.4 L215.2 916.5 L215.5 919.6 L215.9 922.7 L216.2 925.8 L216.6 928.8 L216.9 931.9 L217.3 935.0 L218.6 938.0 L220.0 941.0 L221.3 944.0 L222.7 947.0 L224.0 950.0 L224.2 946.9 L224.3 943.8 L224.4 940.7 L224.6 937.6 L224.8 934.5 L224.9 931.4 L225.1 928.3 L225.2 925.2 L225.3 922.1 L225.5 919.0 L225.7 915.9 L225.8 912.8 L225.9 909.7 L226.1 906.6 L226.2 903.5 L226.4 900.4 L226.6 897.3 L226.7 894.2 L226.8 891.1 L227.0 888.0 L227.1 885.0 L227.2 881.9 L227.4 878.9 L227.5 875.8 L227.6 872.8 L227.7 869.7 L227.8 866.7 L228.0 863.6 L228.1 860.6 L228.2 857.5 L228.3 854.5 L228.4 851.4 L228.5 848.4 L228.7 845.3 L228.8 842.3 L228.9 839.2 L229.0 836.2 L229.1 833.1 L229.3 830.1 L229.4 827.0 L229.5 824.0 L229.6 821.0 L229.7 817.9 L229.9 814.9 L230.0 811.8 L230.1 808.8 L230.2 805.7 L230.3 802.7 L230.5 799.6 L230.6 796.6 L230.7 793.5 L230.8 790.5 L230.9 787.4 L231.0 784.4 L231.2 781.3 L231.3 778.3 L231.4 775.2 L231.5 772.2 L231.6 769.1 L231.8 766.1 L231.9 763.0 L232.0 760.0 L232.2 757.0 L232.3 753.9 L232.5 750.9 L232.7 747.8 L232.9 744.8 L233.0 741.7 L233.2 738.7 L233.4 735.7 L233.6 732.6 L233.7 729.6 L233.9 726.5 L234.1 723.5 L234.3 720.4 L234.4 717.4 L234.6 714.3 L234.8 711.3 L235.0 708.3 L235.1 705.2 L235.3 702.2 L235.5 699.1 L235.7 696.1 L235.8 693.0 L236.0 690.0 L236.1 687.0 L236.2 684.0 L236.3 681.0 L236.4 678.0 L236.5 675.0 L236.6 672.0 L236.7 669.0 L236.8 666.0 L236.9 663.0 L237.0 660.0 L237.1 657.0 L237.2 654.0 L237.3 651.0 L237.4 648.0 L237.5 645.0 L237.6 642.0 L237.7 639.0 L237.8 636.0 L237.9 633.0 L238.0 630.0 L238.1 627.0 L238.2 624.0 L238.3 621.0 L238.4 618.0 L238.5 615.0 L238.6 612.0 L238.7 609.0 L238.8 606.0 L238.9 603.0 L239.0 600.0 L239.1 596.9 L239.2 593.8 L239.4 590.6 L239.5 587.5 L239.6 584.4 L239.8 581.2 L239.9 578.1 L240.0 575.0 L240.1 571.9 L240.2 568.8 L240.4 565.6 L240.5 562.5 L240.6 559.4 L240.8 556.2 L240.9 553.1 L241.0 550.0 L241.2 547.0 L241.4 544.0 L241.6 541.0 L241.8 538.0 L242.0 535.0 L242.2 532.0 L242.4 529.0 L242.6 526.0 L242.8 523.0 L243.0 520.0 L243.6 516.2 L244.3 513.8 L244.9 511.0 L245.5 508.4 L246.2 503.9 L246.8 500.2 L247.5 496.5 L248.1 493.3 L248.7 491.3 L249.4 487.3 L250.0 484.6 L251.3 481.0 L252.7 477.7 L254.0 474.9 L255.3 472.8 L256.7 469.7 L258.0 465.1 L260.5 463.0 L263.0 460.7 L265.5 460.2 L268.0 458.9 L270.7 457.2 L273.3 455.4 L276.0 453.3 L280.0 451.7 L282.7 454.4 L285.4 455.9 L288.3 459.1 L291.1 461.0 L294.0 463.8 L296.8 465.6 L299.6 467.1 L302.4 468.7 L304.8 470.7 L307.2 472.3 L309.6 473.7 L312.1 477.0 L314.5 479.7 L316.9 482.4 L319.3 484.0 L321.7 485.5 L324.1 487.7 L326.5 488.2 L329.0 490.8 L331.4 492.5 L333.8 493.7 L336.2 495.3 L339.6 496.6 L342.9 497.0 L346.3 498.0 L349.6 499.3 L353.0 499.7 L356.1 500.2 L359.2 502.0 L362.4 502.9 L365.5 503.9 L368.6 505.0 L371.8 506.5 L374.9 507.2 L378.0 509.6 L381.2 511.5 L384.5 511.4 L387.8 512.5 L391.0 513.8 L394.2 512.7 L397.5 512.7 L400.8 514.6 L404.0 515.9 L407.2 516.6 L410.5 516.2 L413.8 517.0 L417.0 518.9 L420.2 520.3 L423.5 521.2 L426.8 520.6 L430.0 522.2 L433.1 522.0 L436.2 522.9 L439.2 522.2 L442.3 524.1 L445.4 524.4 L448.5 525.1 L451.6 524.4 L454.7 525.3 L457.7 525.8 L460.8 526.4 L463.9 526.3 L467.1 527.1 L470.2 526.5 L473.4 526.2 L476.6 525.8 L479.7 526.9 L482.9 526.1 L486.1 526.0 L489.2 525.6 L492.4 526.9 L495.6 527.3 L498.8 527.6 L501.9 526.5 L505.1 527.0 L508.3 527.1 L511.4 526.6 L514.6 526.1 L517.8 528.5 L521.0 527.7 L524.1 527.8 L527.3 527.9 L530.5 528.9 L533.6 528.2 L536.8 528.9 L540.0 529.2 L543.2 530.5 L546.4 529.3 L549.5 529.6 L552.7 530.3 L555.9 531.8 L559.0 531.6 L562.2 531.6 L565.4 532.1 L568.5 531.7 L571.5 531.0 L574.6 531.9 L577.6 533.5 L580.7 534.1 L583.7 533.3 L586.8 534.1 L589.8 535.1 L592.9 534.3 L595.9 534.9 L599.0 534.7 L602.1 535.2 L605.2 535.9 L608.3 536.6 L611.4 537.7 L614.5 538.0 L617.5 539.4 L620.6 539.9 L623.7 542.1 L626.8 543.4 L629.9 543.0 L633.0 545.1 L636.1 544.9 L639.2 545.9 L642.3 546.8 L645.4 547.1 L648.5 547.5 L651.5 548.3 L654.6 548.3 L657.7 550.4 L660.8 549.9 L663.9 551.8 L667.0 551.5 L670.0 551.4 L673.0 551.7 L676.0 551.0 L679.0 551.0 L682.0 551.6 L685.0 552.1 L688.0 553.5 L691.0 554.6 L694.0 552.9 L697.0 553.3 L700.0 552.6 L703.0 554.0 L706.0 553.6 L709.0 554.8 L712.0 554.6 L715.0 553.6 L718.0 552.9 L721.0 553.2 L724.0 554.9 L727.0 554.1 L730.0 554.6 L733.0 554.7 L736.1 554.8 L739.1 556.1 L742.2 555.4 L745.2 556.4 L748.3 556.8 L751.3 557.8 L754.3 557.4 L757.4 558.3 L760.4 557.7 L763.5 557.8 L766.5 558.1 L769.6 558.9 L772.6 559.5 L775.7 558.1 L778.7 557.5 L781.7 558.3 L784.8 559.5 L787.8 559.5 L790.9 559.0 L793.9 560.5 L797.0 559.8 L800.0 559.0 L803.1 558.6 L806.2 558.4 L809.2 560.1 L812.3 559.6 L815.4 560.8 L818.5 561.9 L821.5 562.9 L824.6 563.0 L827.7 562.2 L830.8 562.4 L833.9 563.1 L836.9 563.2 L840.0 562.4 L843.1 563.1 L846.2 562.1 L849.3 562.1 L852.3 563.8 L855.4 563.5 L858.5 563.0 L861.6 564.1 L864.7 563.9 L867.7 562.8 L870.8 562.4 L873.9 562.9 L877.0 563.3 L880.0 565.1 L883.1 564.5 L886.2 565.7 L886.0 611.8 L883.0 611.6 L880.0 613.1 L877.1 613.5 L874.1 613.2 L871.1 612.7 L868.1 613.2 L865.2 614.7 L862.2 614.7 L859.2 614.1 L856.2 614.5 L853.3 615.1 L850.3 614.9 L847.3 615.9 L844.4 615.3 L841.4 617.1 L838.4 616.7 L835.4 616.5 L832.5 617.8 L829.5 617.9 L826.5 619.6 L823.5 619.5 L820.4 619.7 L817.4 620.6 L814.3 619.7 L811.3 620.6 L808.3 621.0 L805.2 620.7 L802.2 622.0 L799.2 620.5 L796.1 621.9 L793.1 621.0 L790.0 622.3 L787.0 621.4 L784.0 620.9 L780.9 621.8 L777.9 623.4 L774.8 622.7 L771.8 623.0 L768.8 623.6 L765.7 623.1 L762.7 623.7 L759.7 622.8 L756.6 623.6 L753.6 624.8 L750.5 624.5 L747.5 624.2 L744.4 623.7 L741.2 625.2 L738.1 625.3 L735.0 626.7 L731.8 627.1 L728.7 625.8 L725.6 627.2 L722.4 628.1 L719.3 628.4 L716.2 628.6 L713.1 628.5 L709.9 628.7 L706.8 628.7 L703.7 628.6 L700.5 627.9 L697.4 627.4 L694.3 628.6 L691.1 629.0 L688.0 628.1 L684.9 629.2 L681.8 629.8 L678.7 630.1 L675.6 631.0 L672.5 631.8 L669.4 631.2 L666.3 632.1 L663.2 632.0 L660.1 632.2 L656.9 632.2 L653.8 633.5 L650.7 633.2 L647.6 634.4 L644.5 633.7 L641.4 634.3 L638.3 635.3 L635.2 635.4 L632.1 634.9 L629.0 634.1 L625.9 634.9 L622.8 635.4 L619.7 636.8 L616.6 637.6 L613.5 638.7 L610.4 638.2 L607.3 638.1 L604.2 638.6 L601.1 639.5 L597.9 638.6 L594.8 638.6 L591.7 638.7 L588.6 639.4 L585.5 639.9 L582.4 641.9 L579.3 641.3 L576.2 643.0 L573.1 642.5 L570.0 642.3 L566.9 644.5 L563.8 643.9 L560.7 644.0 L557.6 644.4 L554.5 644.8 L551.5 646.2 L548.4 646.8 L545.3 647.4 L542.2 647.7 L539.1 649.8 L536.0 649.7 L533.0 650.3 L529.9 651.7 L526.9 653.5 L523.8 654.2 L520.8 654.9 L517.8 655.6 L514.7 656.5 L511.7 657.4 L508.7 656.4 L505.6 656.0 L502.6 657.5 L499.5 658.3 L496.5 659.0 L493.5 660.3 L490.4 659.8 L487.4 661.1 L484.3 661.4 L481.3 661.9 L478.3 662.0 L475.2 662.4 L472.2 663.7 L469.2 664.5 L466.1 666.1 L463.1 665.7 L460.0 666.9 L457.0 666.3 L453.7 668.0 L450.3 668.2 L447.0 670.5 L443.7 672.3 L440.3 672.1 L437.0 673.8 L433.8 673.7 L430.5 674.3 L427.2 674.6 L424.0 676.1 L420.8 676.5 L417.5 678.6 L414.5 679.5 L411.4 679.9 L408.4 681.1 L405.3 680.9 L402.3 681.3 L399.3 681.9 L396.2 681.7 L393.2 684.0 L390.2 683.6 L387.1 683.7 L384.1 685.7 L381.0 687.1 L378.0 687.3 L375.1 688.7 L372.3 689.5 L369.4 690.5 L366.6 693.1 L363.7 694.6 L360.9 695.9 L358.0 699.3 L354.8 698.3 L351.5 698.8 L348.2 700.2 L345.0 701.0 L341.8 700.1 L338.5 701.3 L335.4 700.8 L332.3 700.5 L329.2 700.8 L326.2 700.4 L323.1 699.4 L320.0 699.1 L317.0 698.2 L314.0 697.8 L311.0 698.1 L308.0 697.6 L305.0 696.7 L302.0 695.2 L299.0 696.1 L296.2 697.7 L293.4 699.7 L290.6 701.3 L287.8 703.8 L285.0 705.7 L282.7 709.0 L280.5 711.2 L278.2 713.4 L275.9 716.2 L273.7 718.0 L271.4 720.2 L272.1 717.7 L272.9 714.9 L271.3 717.8 L269.7 721.0 L268.1 723.1 L266.5 725.0 L265.5 727.9 L264.5 730.7 L263.5 733.6 L262.5 736.4 L261.5 739.3 L260.5 742.1 L259.5 745.0 L258.9 748.0 L258.3 751.0 L257.7 754.0 L257.1 757.0 L256.5 760.0 L255.9 763.0 L255.3 766.0 L254.7 769.0 L254.1 772.0 L253.5 775.0 L253.3 778.1 L253.1 781.1 L252.9 784.2 L252.8 787.3 L252.6 790.4 L252.4 793.4 L252.2 796.5 L252.0 799.6 L251.8 802.7 L251.6 805.7 L251.5 808.8 L251.3 811.9 L251.1 815.0 L250.9 818.0 L250.7 821.1 L250.5 824.2 L250.4 827.3 L250.2 830.3 L250.0 833.4 L249.8 836.5 L249.6 839.6 L249.4 842.6 L249.2 845.7 L249.1 848.8 L248.9 851.9 L248.7 854.9 L248.5 858.0 L248.4 861.0 L248.2 864.1 L248.1 867.1 L248.0 870.1 L247.8 873.2 L247.7 876.2 L247.5 879.3 L247.4 882.3 L247.3 885.3 L247.1 888.4 L247.0 891.4 L246.9 894.4 L246.7 897.5 L246.6 900.5 L246.4 903.6 L246.3 906.6 L246.2 909.6 L246.0 912.7 L245.9 915.7 L245.8 918.7 L245.6 921.8 L245.5 924.8 L245.3 927.9 L245.2 930.9 L245.1 933.9 L244.9 937.0 L244.8 940.0 L244.6 943.0 L244.4 946.0 L244.2 949.0 L244.0 952.0 L243.8 955.0 L243.6 958.0 L243.4 961.0 L243.2 964.0 L243.0 967.0 L242.8 970.0 L242.6 973.0 L242.4 976.0 L242.2 979.0 L242.0 982.0 L241.8 985.0 L241.7 988.0 L241.5 991.0 L241.3 994.0 L241.1 997.0 L240.9 1000.0 L240.7 1003.0 L240.5 1006.0 L240.3 1009.0 L240.1 1012.0 L239.9 1015.0 L239.7 1018.0 L239.5 1021.0 L239.3 1024.0 L239.1 1027.0 L238.9 1030.0 L238.7 1033.0 L238.5 1036.0 L238.3 1039.0 L238.0 1042.1 L237.8 1045.1 L237.5 1048.2 L237.3 1051.2 L237.1 1054.3 L236.8 1057.3 L236.6 1060.4 L236.4 1063.4 L236.1 1066.5 L235.9 1069.5 L235.6 1072.6 L235.4 1075.6 L235.2 1078.7 L234.9 1081.7 L234.7 1084.8 L234.5 1087.8 L234.2 1090.9 L234.0 1093.9 L233.7 1097.0 L233.5 1100.0 L233.3 1103.2 L233.0 1106.4 L232.8 1109.5 L232.6 1112.7 L232.4 1115.9 L232.1 1119.1 L231.9 1122.3 L231.7 1125.5 L231.5 1128.6 L231.2 1131.8 L231.0 1135.0 L229.7 1137.7 L228.5 1140.5 L227.2 1143.2 L225.9 1145.9 L224.6 1148.6 L223.4 1151.4 L222.1 1154.1 L220.8 1156.8 L219.5 1159.5 L218.3 1162.3 L217.0 1165.0 L216.7 1162.0 L216.4 1159.0 L216.1 1156.0 L215.8 1153.0 L215.5 1150.0 L215.2 1147.0 L214.9 1144.0 L214.6 1141.0 L214.3 1138.0 L214.0 1135.0 L213.5 1131.8 L213.0 1128.6 L212.5 1125.5 L212.0 1122.3 L211.5 1119.1 L211.0 1115.9 L210.5 1112.7 L210.0 1109.5 L209.5 1106.4 L209.0 1103.2 L208.5 1100.0 L208.2 1097.0 L207.9 1093.9 L207.6 1090.9 L207.3 1087.8 L207.0 1084.8 L206.6 1081.7 L206.3 1078.7 L206.0 1075.6 L205.7 1072.6 L205.4 1069.5 L205.1 1066.5 L204.8 1063.4 L204.5 1060.4 L204.2 1057.3 L203.9 1054.3 L203.5 1051.2 L203.2 1048.2 L202.9 1045.1 L202.6 1042.1 L202.3 1039.0 L202.0 1036.0 L201.7 1033.0 L201.3 1030.0 L201.0 1027.0 L200.7 1024.0 L200.4 1021.0 L200.1 1018.0 L199.7 1015.0 L199.4 1012.0 L199.1 1009.0 L198.8 1006.0 L198.4 1003.0 L198.1 1000.0 L197.8 997.0 L197.4 994.0 L197.1 991.0 L196.8 988.0 L196.5 985.0 L196.2 982.0 L195.8 979.0 L195.5 976.0 L195.2 973.0 L194.8 970.0 L194.5 967.0 L194.2 964.0 L193.9 961.0 L193.5 958.0 L193.2 955.0 L192.9 952.0 L192.6 949.0 L192.2 946.0 L191.9 943.0 L191.6 940.0 L191.4 937.0 L191.1 933.9 L190.9 930.9 L190.6 927.9 L190.4 924.8 L190.1 921.8 L189.9 918.7 L189.6 915.7 L189.4 912.7 L189.2 909.6 L188.9 906.6 L188.7 903.6 L188.4 900.5 L188.2 897.5 L187.9 894.4 L187.7 891.4 L187.4 888.4 L187.2 885.3 L187.0 882.3 L186.7 879.3 L186.5 876.2 L186.2 873.2 L186.0 870.1 L185.7 867.1 L185.5 864.1 L185.2 861.0 L185.0 858.0 L184.8 854.9 L184.6 851.9 L184.4 848.8 L184.2 845.8 L184.0 842.7 L183.8 839.6 L183.6 836.6 L183.4 833.5 L183.2 830.4 L183.0 827.4 L182.8 824.3 L182.6 821.2 L182.4 818.2 L182.2 815.1 L182.0 812.1 L181.8 809.0 L181.5 805.9 L181.3 802.9 L181.1 799.8 L180.9 796.8 L180.7 793.7 L180.5 790.6 L180.3 787.6 L180.1 784.5 L179.9 781.4 L179.7 778.4 L179.5 775.3 L179.3 772.2 L179.1 769.2 L178.9 766.1 L178.7 763.1 L178.5 760.0 L178.3 756.9 L178.1 753.8 L177.9 750.8 L177.7 747.7 L177.5 744.6 L177.3 741.5 L177.2 738.5 L177.0 735.4 L176.8 732.3 L176.6 729.2 L176.4 726.2 L176.2 723.1 L176.0 720.0 L175.8 716.9 L175.6 713.8 L175.4 710.8 L175.2 707.7 L175.0 704.6 L174.8 701.5 L174.7 698.5 L174.5 695.4 L174.3 692.3 L174.1 689.2 L173.9 686.2 L173.7 683.1 L173.5 680.0 L173.4 677.0 L173.2 673.9 L173.1 670.9 L172.9 667.9 L172.8 664.8 L172.6 661.8 L172.5 658.8 L172.3 655.7 L172.2 652.7 L172.0 649.6 L171.9 646.6 L171.7 643.6 L171.6 640.5 L171.4 637.5 L171.3 634.5 L171.2 631.4 L171.0 628.4 L170.9 625.4 L170.7 622.3 L170.6 619.3 L170.4 616.2 L170.3 613.2 L170.1 610.2 L170.0 607.1 L169.8 604.1 L169.7 601.1 L169.5 598.0 L169.4 595.0Z" fill="#bfbf00" fill-opacity="0.050" stroke="#bfbf00" stroke-opacity="0.050" stroke-width="2.6" stroke-linejoin="round"/>
<path d="M163.9 607.0 L165.3 609.8 L166.8 612.7 L168.2 615.5 L169.6 618.3 L171.1 621.2 L172.5 624.0 L173.1 627.2 L173.8 630.4 L174.4 633.6 L175.1 636.8 L175.7 640.0 L176.3 643.2 L177.0 646.4 L177.6 649.6 L178.3 652.8 L178.9 656.0 L179.4 659.0 L179.8 662.1 L180.3 665.1 L180.7 668.2 L181.2 671.2 L181.6 674.3 L182.1 677.3 L182.6 680.4 L183.0 683.4 L183.5 686.5 L183.9 689.5 L184.4 692.6 L184.8 695.6 L185.3 698.7 L185.8 701.7 L186.2 704.8 L186.7 707.8 L187.1 710.9 L187.6 713.9 L188.0 717.0 L188.5 720.0 L188.9 723.1 L189.3 726.1 L189.6 729.2 L190.0 732.2 L190.4 735.3 L190.8 738.4 L191.2 741.4 L191.6 744.5 L191.9 747.5 L192.3 750.6 L192.7 753.6 L193.1 756.7 L193.5 759.8 L193.9 762.8 L194.2 765.9 L194.6 768.9 L195.0 772.0 L195.5 775.0 L195.9 778.1 L196.4 781.1 L196.8 784.2 L197.3 787.2 L197.7 790.3 L198.2 793.3 L198.6 796.4 L199.1 799.4 L199.5 802.5 L200.0 805.5 L200.4 808.6 L200.9 811.6 L201.3 814.7 L201.8 817.7 L202.2 820.8 L202.7 823.8 L203.1 826.9 L203.6 829.9 L204.0 833.0 L204.5 836.0 L204.9 839.0 L205.3 842.1 L205.6 845.1 L206.0 848.2 L206.4 851.2 L206.8 854.3 L207.2 857.3 L207.5 860.4 L207.9 863.4 L208.3 866.5 L208.7 869.5 L209.1 872.6 L209.5 875.6 L209.8 878.7 L210.2 881.7 L210.6 884.8 L211.0 887.8 L211.4 890.9 L211.7 893.9 L212.1 897.0 L212.5 900.0 L212.9 903.1 L213.2 906.2 L213.6 909.2 L213.9 912.3 L214.3 915.4 L214.7 918.5 L215.0 921.6 L215.4 924.7 L215.7 927.8 L216.1 930.8 L216.4 933.9 L216.8 937.0 L218.4 940.2 L219.9 943.5 L221.4 946.8 L223.0 950.0 L223.2 946.9 L223.3 943.8 L223.4 940.7 L223.6 937.6 L223.8 934.5 L223.9 931.4 L224.1 928.3 L224.2 925.2 L224.3 922.1 L224.5 919.0 L224.7 915.9 L224.8 912.8 L224.9 909.7 L225.1 906.6 L225.2 903.5 L225.4 900.4 L225.6 897.3 L225.7 894.2 L225.8 891.1 L226.0 888.0 L226.1 885.0 L226.2 881.9 L226.4 878.9 L226.5 875.8 L226.6 872.8 L226.7 869.7 L226.8 866.7 L227.0 863.6 L227.1 860.6 L227.2 857.5 L227.3 854.5 L227.4 851.4 L227.5 848.4 L227.7 845.3 L227.8 842.3 L227.9 839.2 L228.0 836.2 L228.1 833.1 L228.3 830.1 L228.4 827.0 L228.5 824.0 L228.6 821.0 L228.7 817.9 L228.9 814.9 L229.0 811.8 L229.1 808.8 L229.2 805.7 L229.3 802.7 L229.5 799.6 L229.6 796.6 L229.7 793.5 L229.8 790.5 L229.9 787.4 L230.0 784.4 L230.2 781.3 L230.3 778.3 L230.4 775.2 L230.5 772.2 L230.6 769.1 L230.8 766.1 L230.9 763.0 L231.0 760.0 L231.2 757.0 L231.3 753.9 L231.5 750.9 L231.6 747.8 L231.8 744.8 L231.9 741.7 L232.1 738.7 L232.2 735.7 L232.4 732.6 L232.5 729.6 L232.7 726.5 L232.8 723.5 L233.0 720.4 L233.1 717.4 L233.3 714.3 L233.4 711.3 L233.6 708.3 L233.7 705.2 L233.9 702.2 L234.0 699.1 L234.2 696.1 L234.3 693.0 L234.5 690.0 L234.6 687.0 L234.7 684.0 L234.8 681.0 L234.9 678.0 L235.0 675.0 L235.1 672.0 L235.2 669.0 L235.3 666.0 L235.4 663.0 L235.5 660.0 L235.6 657.0 L235.7 654.0 L235.8 651.0 L235.9 648.0 L236.0 645.0 L236.1 642.0 L236.2 639.0 L236.3 636.0 L236.4 633.0 L236.5 630.0 L236.6 627.0 L236.7 624.0 L236.8 621.0 L236.9 618.0 L237.0 615.0 L237.1 612.0 L237.2 609.0 L237.3 606.0 L237.4 603.0 L237.5 600.0 L237.6 596.9 L237.8 593.8 L237.9 590.6 L238.0 587.5 L238.1 584.4 L238.2 581.2 L238.4 578.1 L238.5 575.0 L238.6 571.9 L238.8 568.8 L238.9 565.6 L239.0 562.5 L239.1 559.4 L239.2 556.2 L239.4 553.1 L239.5 550.0 L239.7 547.0 L239.8 544.0 L239.9 541.0 L240.1 538.0 L240.2 535.0 L240.4 532.0 L240.6 529.0 L240.7 526.0 L240.8 523.0 L241.0 520.0 L241.6 516.1 L242.2 514.0 L242.8 511.4 L243.4 509.2 L244.0 505.1 L244.6 501.4 L245.2 499.3 L245.8 496.5 L246.4 492.8 L247.0 490.3 L248.1 486.9 L249.3 484.6 L250.4 480.4 L251.6 477.0 L252.7 475.5 L253.9 471.9 L255.0 468.4 L258.3 467.3 L261.7 465.2 L265.0 461.9 L266.7 458.8 L268.3 455.8 L270.0 451.4 L272.6 449.5 L275.3 446.1 L277.9 448.7 L280.4 450.6 L281.6 454.1 L282.9 459.4 L284.1 462.5 L285.4 467.2 L286.2 469.9 L287.1 473.5 L287.9 477.6 L288.8 481.0 L289.8 483.0 L290.8 486.8 L291.9 490.5 L292.9 493.0 L293.9 495.7 L296.6 498.6 L299.3 499.8 L302.0 500.3 L304.9 501.2 L307.9 501.4 L310.8 503.3 L313.6 501.7 L316.5 499.2 L319.3 498.9 L322.1 496.6 L325.0 495.3 L327.8 493.4 L329.9 497.0 L332.0 498.3 L334.1 501.1 L336.2 502.5 L339.6 504.3 L342.9 506.3 L346.3 507.6 L349.6 508.7 L353.0 509.9 L355.9 511.1 L358.7 512.7 L361.6 513.0 L364.4 515.1 L367.2 516.4 L370.1 519.4 L372.9 521.9 L375.7 521.9 L378.5 522.9 L381.7 524.2 L384.9 524.6 L388.1 523.6 L391.2 524.8 L394.4 526.1 L397.6 525.6 L400.8 525.3 L404.0 525.8 L407.2 526.4 L410.3 524.8 L413.5 523.9 L416.6 523.0 L419.8 523.4 L423.0 523.0 L426.1 522.1 L429.3 521.7 L432.3 521.8 L435.2 523.1 L438.2 525.8 L441.1 526.6 L444.1 526.8 L447.0 529.0 L450.0 529.1 L452.5 530.2 L455.0 531.2 L457.4 532.8 L459.9 534.6 L462.4 536.5 L464.9 539.9 L467.3 541.0 L469.8 542.4 L472.3 544.8 L475.4 546.2 L478.6 545.5 L481.7 546.4 L484.9 546.0 L488.0 546.4 L491.1 546.8 L494.3 548.0 L497.4 548.2 L500.6 547.9 L503.7 548.6 L506.9 548.0 L510.0 547.8 L513.2 549.2 L516.4 549.0 L519.6 549.5 L522.8 548.7 L526.0 549.8 L529.2 549.8 L532.5 548.9 L535.7 550.3 L538.9 549.9 L542.1 549.5 L545.3 549.2 L548.5 548.7 L551.8 548.3 L555.1 549.2 L558.4 548.1 L561.7 547.7 L565.0 547.8 L568.1 548.9 L571.2 549.3 L574.3 550.8 L577.4 550.5 L580.5 551.0 L583.5 551.6 L586.6 551.5 L589.7 552.0 L592.8 552.4 L595.9 554.2 L599.0 554.1 L602.0 555.0 L605.0 554.5 L608.0 555.4 L611.0 555.8 L614.0 555.4 L617.0 556.7 L620.0 556.7 L623.0 556.5 L626.0 555.3 L629.0 555.5 L632.0 555.4 L635.0 555.9 L638.0 557.3 L641.0 557.9 L644.0 556.3 L647.0 557.1 L650.0 558.2 L653.1 557.8 L656.2 556.6 L659.4 557.9 L662.5 557.6 L665.6 558.8 L668.8 559.3 L671.9 559.4 L675.0 559.8 L678.1 558.0 L681.2 558.9 L684.4 558.2 L687.5 557.6 L690.6 557.9 L693.8 558.6 L696.9 557.6 L700.0 558.2 L703.0 559.4 L706.0 559.3 L709.0 559.4 L712.0 559.0 L715.0 560.4 L718.0 559.5 L721.0 560.1 L724.0 560.3 L727.0 559.0 L730.0 560.7 L733.0 559.9 L736.1 561.3 L739.1 561.9 L742.2 562.3 L745.2 562.4 L748.3 561.4 L751.3 561.1 L754.3 560.8 L757.4 562.1 L760.4 560.6 L763.5 560.2 L766.5 562.1 L769.6 562.7 L772.6 562.8 L775.7 563.6 L778.7 563.0 L781.7 563.5 L784.8 562.8 L787.8 563.7 L790.9 562.2 L793.9 562.4 L797.0 562.9 L800.0 563.7 L803.1 563.3 L806.2 563.8 L809.2 564.8 L812.3 564.1 L815.4 563.2 L818.5 562.5 L821.5 564.2 L824.6 564.2 L827.7 564.0 L830.8 564.4 L833.9 563.6 L836.9 563.6 L840.0 563.7 L843.1 563.8 L846.2 565.4 L849.3 564.8 L852.3 564.2 L855.4 565.8 L858.5 566.0 L861.6 564.9 L864.7 565.9 L867.7 566.6 L870.8 566.8 L873.9 567.4 L877.0 566.9 L880.0 566.2 L883.1 567.2 L886.2 567.5 L886.0 605.5 L883.0 604.9 L880.0 605.2 L877.1 606.4 L874.1 606.4 L871.1 607.2 L868.1 607.4 L865.2 608.4 L862.2 608.1 L859.2 608.6 L856.2 609.8 L853.3 609.3 L850.3 609.0 L847.3 610.1 L844.4 609.7 L841.4 611.4 L838.4 611.1 L835.4 612.6 L832.5 612.7 L829.5 612.0 L826.5 612.8 L823.5 613.5 L820.4 613.6 L817.4 614.1 L814.3 613.8 L811.3 615.2 L808.3 614.1 L805.2 615.2 L802.2 614.0 L799.2 614.7 L796.1 614.1 L793.1 614.0 L790.0 615.2 L787.0 616.7 L784.0 616.1 L780.9 616.2 L777.9 616.5 L774.8 617.1 L771.8 616.9 L768.8 616.9 L765.7 618.2 L762.7 618.3 L759.7 617.9 L756.6 619.0 L753.6 620.1 L750.5 619.4 L747.5 618.1 L744.4 618.3 L741.2 619.9 L738.1 619.1 L735.0 618.9 L731.8 620.3 L728.7 619.4 L725.6 620.9 L722.4 620.2 L719.3 620.4 L716.2 621.1 L713.1 620.4 L709.9 621.7 L706.8 621.7 L703.7 622.6 L700.5 623.1 L697.4 621.8 L694.3 623.1 L691.1 623.8 L688.0 622.9 L684.9 623.5 L681.8 623.0 L678.7 623.7 L675.6 624.8 L672.5 624.5 L669.4 624.9 L666.3 624.4 L663.2 626.0 L660.1 626.4 L656.9 627.2 L653.8 626.0 L650.7 627.1 L647.6 626.3 L644.5 627.2 L641.4 627.0 L638.3 628.6 L635.2 627.7 L632.1 628.3 L629.0 628.7 L625.9 629.0 L622.8 628.6 L619.7 630.0 L616.6 631.7 L613.5 631.3 L610.4 632.6 L607.3 632.1 L604.2 631.9 L601.1 632.4 L597.9 634.2 L594.8 634.8 L591.7 634.9 L588.6 633.8 L585.5 634.4 L582.4 633.9 L579.3 634.0 L576.2 635.0 L573.1 635.4 L570.0 635.5 L566.9 637.0 L563.8 638.8 L560.7 640.4 L557.6 641.5 L554.5 641.3 L551.5 640.9 L548.4 643.0 L545.3 643.1 L542.2 643.3 L539.1 644.9 L536.0 645.5 L533.0 646.9 L529.9 647.4 L526.9 648.5 L523.8 647.4 L520.8 649.1 L517.8 649.3 L514.7 650.1 L511.7 649.8 L508.7 649.9 L505.6 650.3 L502.6 650.6 L499.5 652.9 L496.5 652.3 L493.5 652.7 L490.4 654.1 L487.4 654.1 L484.3 654.4 L481.3 654.9 L478.3 655.5 L475.2 655.5 L472.2 657.6 L469.2 658.8 L466.1 658.8 L463.1 660.6 L460.0 660.9 L457.0 660.6 L453.7 662.9 L450.3 662.8 L447.0 664.6 L443.7 666.1 L440.3 665.3 L437.0 667.5 L433.8 668.0 L430.5 669.0 L427.2 671.0 L424.0 671.3 L420.8 671.4 L417.5 671.5 L414.5 673.7 L411.4 674.1 L408.4 675.2 L405.3 675.9 L402.3 677.4 L399.3 678.4 L396.2 679.1 L393.2 678.8 L390.2 680.0 L387.1 679.4 L384.1 679.0 L381.0 680.3 L378.0 679.8 L375.1 683.3 L372.3 684.3 L369.4 685.9 L366.6 687.2 L363.7 688.8 L360.9 691.0 L358.0 693.6 L354.8 692.5 L351.5 692.9 L348.2 693.0 L345.0 694.9 L341.8 694.8 L338.5 694.9 L335.4 695.5 L332.3 694.2 L329.2 693.3 L326.2 692.7 L323.1 691.7 L320.0 692.1 L317.0 691.2 L314.0 691.2 L311.0 691.2 L308.0 691.5 L305.0 691.5 L302.0 690.7 L299.0 691.3 L296.2 693.7 L293.4 695.9 L290.6 697.5 L287.8 698.6 L285.0 700.0 L282.7 703.2 L280.5 705.0 L278.2 707.8 L275.9 709.5 L273.7 711.4 L271.4 712.7 L271.4 713.9 L269.8 716.2 L268.2 719.2 L266.6 722.6 L265.0 725.0 L264.0 727.9 L263.0 730.7 L262.0 733.6 L261.0 736.4 L260.0 739.3 L259.0 742.1 L258.0 745.0 L257.4 748.0 L256.8 751.0 L256.2 754.0 L255.6 757.0 L255.0 760.0 L254.4 763.0 L253.8 766.0 L253.2 769.0 L252.6 772.0 L252.0 775.0 L251.8 778.1 L251.6 781.1 L251.4 784.2 L251.3 787.3 L251.1 790.4 L250.9 793.4 L250.7 796.5 L250.5 799.6 L250.3 802.7 L250.1 805.7 L250.0 808.8 L249.8 811.9 L249.6 815.0 L249.4 818.0 L249.2 821.1 L249.0 824.2 L248.9 827.3 L248.7 830.3 L248.5 833.4 L248.3 836.5 L248.1 839.6 L247.9 842.6 L247.7 845.7 L247.6 848.8 L247.4 851.9 L247.2 854.9 L247.0 858.0 L246.9 861.0 L246.7 864.1 L246.6 867.1 L246.5 870.1 L246.3 873.2 L246.2 876.2 L246.0 879.3 L245.9 882.3 L245.8 885.3 L245.6 888.4 L245.5 891.4 L245.4 894.4 L245.2 897.5 L245.1 900.5 L244.9 903.6 L244.8 906.6 L244.7 909.6 L244.5 912.7 L244.4 915.7 L244.3 918.7 L244.1 921.8 L244.0 924.8 L243.8 927.9 L243.7 930.9 L243.6 933.9 L243.4 937.0 L243.3 940.0 L243.1 943.0 L242.9 946.0 L242.7 949.0 L242.5 952.0 L242.3 955.0 L242.1 958.0 L241.9 961.0 L241.7 964.0 L241.5 967.0 L241.3 970.0 L241.1 973.0 L240.9 976.0 L240.7 979.0 L240.5 982.0 L240.3 985.0 L240.2 988.0 L240.0 991.0 L239.8 994.0 L239.6 997.0 L239.4 1000.0 L239.2 1003.0 L239.0 1006.0 L238.8 1009.0 L238.6 1012.0 L238.4 1015.0 L238.2 1018.0 L238.0 1021.0 L237.8 1024.0 L237.6 1027.0 L237.4 1030.0 L237.2 1033.0 L237.0 1036.0 L236.8 1039.0 L236.5 1042.1 L236.3 1045.1 L236.0 1048.2 L235.8 1051.2 L235.6 1054.3 L235.3 1057.3 L235.1 1060.4 L234.9 1063.4 L234.6 1066.5 L234.4 1069.5 L234.1 1072.6 L233.9 1075.6 L233.7 1078.7 L233.4 1081.7 L233.2 1084.8 L233.0 1087.8 L232.7 1090.9 L232.5 1093.9 L232.2 1097.0 L232.0 1100.0 L231.8 1103.2 L231.5 1106.4 L231.3 1109.5 L231.1 1112.7 L230.9 1115.9 L230.6 1119.1 L230.4 1122.3 L230.2 1125.5 L230.0 1128.6 L229.7 1131.8 L229.5 1135.0 L228.2 1137.7 L226.9 1140.5 L225.5 1143.2 L224.2 1145.9 L222.9 1148.6 L221.6 1151.4 L220.3 1154.1 L219.0 1156.8 L217.6 1159.5 L216.3 1162.3 L215.0 1165.0 L214.7 1162.0 L214.4 1159.0 L214.1 1156.0 L213.8 1153.0 L213.5 1150.0 L213.2 1147.0 L212.9 1144.0 L212.6 1141.0 L212.3 1138.0 L212.0 1135.0 L211.5 1131.8 L211.0 1128.6 L210.5 1125.5 L210.0 1122.3 L209.5 1119.1 L209.0 1115.9 L208.5 1112.7 L208.0 1109.5 L207.5 1106.4 L207.0 1103.2 L206.5 1100.0 L206.2 1097.0 L205.9 1093.9 L205.6 1090.9 L205.3 1087.8 L205.0 1084.8 L204.6 1081.7 L204.3 1078.7 L204.0 1075.6 L203.7 1072.6 L203.4 1069.5 L203.1 1066.5 L202.8 1063.4 L202.5 1060.4 L202.2 1057.3 L201.9 1054.3 L201.5 1051.2 L201.2 1048.2 L200.9 1045.1 L200.6 1042.1 L200.3 1039.0 L200.0 1036.0 L199.7 1033.0 L199.3 1030.0 L199.0 1027.0 L198.7 1024.0 L198.4 1021.0 L198.1 1018.0 L197.7 1015.0 L197.4 1012.0 L197.1 1009.0 L196.8 1006.0 L196.4 1003.0 L196.1 1000.0 L195.8 997.0 L195.4 994.0 L195.1 991.0 L194.8 988.0 L194.5 985.0 L194.2 982.0 L193.8 979.0 L193.5 976.0 L193.2 973.0 L192.8 970.0 L192.5 967.0 L192.2 964.0 L191.9 961.0 L191.5 958.0 L191.2 955.0 L190.9 952.0 L190.6 949.0 L190.2 946.0 L189.9 943.0 L189.6 940.0 L189.4 937.0 L189.1 933.9 L188.9 930.9 L188.6 927.9 L188.4 924.8 L188.1 921.8 L187.9 918.7 L187.6 915.7 L187.4 912.7 L187.2 909.6 L186.9 906.6 L186.7 903.6 L186.4 900.5 L186.2 897.5 L185.9 894.4 L185.7 891.4 L185.4 888.4 L185.2 885.3 L185.0 882.3 L184.7 879.3 L184.5 876.2 L184.2 873.2 L184.0 870.1 L183.7 867.1 L183.5 864.1 L183.2 861.0 L183.0 858.0 L182.8 854.9 L182.6 851.9 L182.4 848.8 L182.2 845.8 L182.0 842.7 L181.8 839.6 L181.6 836.6 L181.4 833.5 L181.2 830.4 L181.0 827.4 L180.8 824.3 L180.6 821.2 L180.4 818.2 L180.2 815.1 L180.0 812.1 L179.8 809.0 L179.5 805.9 L179.3 802.9 L179.1 799.8 L178.9 796.8 L178.7 793.7 L178.5 790.6 L178.3 787.6 L178.1 784.5 L177.9 781.4 L177.7 778.4 L177.5 775.3 L177.3 772.2 L177.1 769.2 L176.9 766.1 L176.7 763.1 L176.5 760.0 L176.3 756.9 L176.1 753.8 L175.9 750.8 L175.7 747.7 L175.5 744.6 L175.3 741.5 L175.2 738.5 L175.0 735.4 L174.8 732.3 L174.6 729.2 L174.4 726.2 L174.2 723.1 L174.0 720.0 L173.8 716.9 L173.6 713.8 L173.4 710.8 L173.2 707.7 L173.0 704.6 L172.8 701.5 L172.7 698.5 L172.5 695.4 L172.3 692.3 L172.1 689.2 L171.9 686.2 L171.7 683.1 L171.5 680.0 L171.4 677.0 L171.2 673.9 L171.1 670.9 L170.9 667.9 L170.8 664.8 L170.6 661.8 L170.5 658.8 L170.3 655.7 L170.2 652.7 L170.0 649.6 L169.9 646.6 L169.7 643.6 L169.6 640.5 L169.4 637.5 L169.3 634.5 L169.2 631.4 L169.0 628.4 L168.9 625.4 L168.7 622.3 L168.6 619.3 L168.4 616.2 L168.3 613.2 L168.1 610.2 L168.0 607.1 L167.8 604.1 L167.7 601.1 L167.5 598.0 L167.4 595.0Z" fill="#bd1a1a" fill-opacity="0.060" stroke="#bd1a1a" stroke-opacity="0.060" stroke-width="2.6" stroke-linejoin="round"/>
<g fill="none" stroke-width="5.20" stroke-linejoin="round" stroke-linecap="butt">
<path transform="scale(1,1.100)" d="M167.4 541.1 L167.6 543.0 L167.8 544.8 L168.0 546.7 L168.2 548.5 L168.5 550.4 L168.7 552.3 L168.9 554.1 L169.1 556.0 L169.3 557.8 L169.5 559.7 L169.7 561.6 L169.9 563.4 L170.2 565.3 L170.4 567.1 L170.6 569.0 L170.8 570.9 L171.0 572.7 L171.2 574.5 L171.4 576.4 L171.6 578.2 L171.9 580.0 L172.1 581.8 L172.3 583.6 L172.5 585.5 L172.7 587.3 L172.9 589.1 L173.1 590.9 L173.4 592.7 L173.6 594.5 L173.8 596.4 L174.0 598.2 L174.2 600.0 L174.4 601.8 L174.6 603.6 L174.9 605.5 L175.1 607.3 L175.3 609.1 L175.5 610.9 L175.7 612.7 L175.9 614.5 L176.1 616.4 L176.3 618.2 L176.5 620.0 L176.7 621.8 L176.9 623.6 L177.1 625.5 L177.3 627.3 L177.5 629.1 L177.8 630.9 L178.0 632.7 L178.2 634.5 L178.4 636.4 L178.6 638.2 L178.8 640.0 L179.0 641.8 L179.2 643.6 L179.4 645.5 L179.6 647.3 L179.8 649.1 L180.0 650.9 L180.2 652.7 L180.3 654.5 L180.5 656.4 L180.7 658.2 L180.9 660.0 L181.0 661.8 L181.2 663.6 L181.4 665.5 L181.5 667.3 L181.7 669.1 L181.9 670.9 L182.1 672.7 L182.2 674.5 L182.4 676.4 L182.6 678.2 L182.8 680.0 L182.9 681.8 L183.1 683.6 L183.3 685.5 L183.4 687.3 L183.6 689.1 L183.8 690.9 L184.0 692.7 L184.1 694.5 L184.3 696.4 L184.5 698.2 L184.6 700.0 L184.8 701.8 L185.0 703.6 L185.2 705.5 L185.3 707.3 L185.5 709.1 L185.8 710.9 L186.0 712.7 L186.2 714.5 L186.5 716.4 L186.8 718.2 L187.0 720.0 L187.2 721.8 L187.5 723.6 L187.8 725.5 L188.0 727.3 L188.2 729.1 L188.5 730.9 L188.8 732.7 L189.0 734.5 L189.2 736.4 L189.5 738.2 L189.8 740.0 L190.0 741.8 L190.2 743.6 L190.5 745.5 L190.8 747.3 L191.0 749.1 L191.2 750.9 L191.5 752.7 L191.8 754.5 L192.1 756.4 L192.3 758.2 L192.6 760.0 L192.9 761.8 L193.2 763.6 L193.5 765.5 L193.8 767.3 L194.0 769.1 L194.3 770.9 L194.6 772.7 L194.9 774.5 L195.2 776.4 L195.4 778.2 L195.7 780.0 L196.0 781.8 L196.3 783.6 L196.6 785.5 L196.8 787.3 L197.1 789.1 L197.4 790.9 L197.7 792.7 L197.9 794.5 L198.2 796.4 L198.5 798.2 L198.8 800.0 L199.1 801.8 L199.3 803.6 L199.6 805.5 L199.9 807.3 L200.2 809.1 L200.4 810.9 L200.7 812.7 L201.0 814.5 L201.3 816.4 L201.7 818.2 L202.0 820.0 L202.3 821.8 L202.7 823.6 L203.0 825.5 L203.3 827.3 L203.7 829.1 L204.0 830.9 L204.3 832.7 L204.7 834.5 L205.0 836.4 L205.3 838.2 L205.7 840.0 L206.0 841.8 L206.3 843.6 L206.7 845.5 L207.0 847.3 L207.4 849.1 L207.8 851.0 L208.1 852.9 L208.5 854.8 L208.9 856.6 L209.2 858.5 L209.6 860.4 L210.0 862.3 L210.4 864.1 L210.8 866.0 L211.1 867.9 L211.5 869.8 L211.9 871.6 L212.2 873.5 L212.6 875.4 L213.0 877.3 L213.5 879.1 L214.0 880.9 L214.5 882.7 L215.0 884.5 L215.5 886.4 L216.0 888.2 L216.5 890.0 L217.0 891.8 L217.5 893.6 L218.0 895.5 L218.5 897.3 L219.0 899.1 L219.6 900.9 L220.1 902.7 L220.6 904.5 L220.9 902.7 L221.1 900.9 L221.4 899.1 L221.6 897.3 L221.9 895.5 L222.2 893.6 L222.4 891.8 L222.7 890.0 L222.9 888.2 L223.2 886.4 L223.3 884.5 L223.4 882.6 L223.6 880.7 L223.7 878.9 L223.8 877.0 L223.9 875.1 L224.1 873.3 L224.2 871.4 L224.3 869.5 L224.4 867.6 L224.6 865.8 L224.7 863.9 L224.8 862.0 L224.9 860.2 L225.1 858.3 L225.2 856.4 L225.3 854.5 L225.4 852.7 L225.5 850.9 L225.6 849.1 L225.6 847.3 L225.7 845.5 L225.8 843.6 L225.9 841.8 L226.0 840.0 L226.1 838.2 L226.1 836.4 L226.2 834.5 L226.3 832.7 L226.4 830.9 L226.5 829.1 L226.6 827.3 L226.6 825.5 L226.7 823.6 L226.8 821.8 L226.9 820.0 L227.0 818.2 L227.1 816.4 L227.1 814.5 L227.2 812.7 L227.3 810.9 L227.4 809.1 L227.5 807.3 L227.5 805.5 L227.6 803.6 L227.7 801.8 L227.7 800.0 L227.8 798.2 L227.9 796.4 L227.9 794.5 L228.0 792.7 L228.1 790.9 L228.1 789.1 L228.2 787.3 L228.3 785.5 L228.3 783.6 L228.4 781.8 L228.5 780.0 L228.5 778.2 L228.6 776.4 L228.7 774.5 L228.7 772.7 L228.8 770.9 L228.9 769.1 L228.9 767.3 L229.0 765.5 L229.1 763.6 L229.1 761.8 L229.2 760.0 L229.3 758.2 L229.3 756.4 L229.4 754.5 L229.5 752.7 L229.5 750.9 L229.6 749.1 L229.7 747.3 L229.8 745.5 L229.8 743.6 L229.9 741.8 L230.0 740.0 L230.1 738.2 L230.2 736.4 L230.2 734.5 L230.3 732.7 L230.4 730.9 L230.5 729.1 L230.6 727.3 L230.7 725.5 L230.7 723.6 L230.8 721.8 L230.9 720.0 L231.0 718.2 L231.1 716.4 L231.1 714.5 L231.2 712.7 L231.3 710.9 L231.4 709.1 L231.5 707.3 L231.5 705.5 L231.6 703.6 L231.7 701.8 L231.8 700.0 L231.9 698.2 L232.0 696.4 L232.0 694.5 L232.1 692.7 L232.2 690.9 L232.4 689.1 L232.5 687.3 L232.7 685.5 L232.8 683.6 L233.0 681.8 L233.1 680.0 L233.3 678.2 L233.4 676.4 L233.6 674.5 L233.7 672.7 L233.9 670.9 L234.0 669.1 L234.2 667.3 L234.4 665.5 L234.5 663.6 L234.7 661.8 L234.8 660.0 L235.0 658.2 L235.1 656.4 L235.3 654.5 L235.4 652.7 L235.6 650.9 L235.7 649.1 L235.9 647.3 L236.0 645.5 L236.2 643.6 L236.4 641.8 L236.6 640.0 L236.8 638.2 L237.0 636.4 L237.2 634.5 L237.4 632.7 L237.6 630.9 L237.8 629.1 L238.1 627.3 L238.3 625.5 L238.5 623.6 L238.7 621.8 L238.9 620.0 L239.1 618.2 L239.3 616.4 L239.5 614.5 L239.7 612.7 L239.8 610.9 L240.0 609.1 L240.2 607.3 L240.4 605.5 L240.6 603.6 L240.7 601.8 L240.9 600.0 L241.1 598.2 L241.2 596.4 L241.4 594.5 L241.6 592.7 L241.8 590.9 L242.0 589.1 L242.1 587.3 L242.3 585.5 L242.5 583.6 L242.8 581.8 L243.0 580.0 L243.3 578.2 L243.5 576.4 L243.8 574.5 L244.0 572.7 L244.2 570.9 L244.5 569.1 L244.7 567.3 L245.0 565.5 L245.2 563.6 L245.5 561.8 L245.7 560.0 L246.0 558.2 L246.2 556.4 L246.5 554.5 L246.8 552.7 L247.1 550.9 L247.5 549.1 L247.8 547.3 L248.1 545.5 L248.4 543.6 L248.7 541.8 L249.1 540.0 L249.4 538.2 L249.7 536.4 L250.0 534.5 L250.4 532.7 L250.9 530.9 L251.3 529.1 L251.8 527.3 L252.2 525.5 L252.7 523.6 L253.2 521.8 L253.6 520.0 L254.1 518.2 L254.5 516.4 L255.1 514.4 L255.7 512.4 L256.2 510.5 L256.8 508.5 L257.4 506.5 L258.0 504.5 L258.5 501.9 L259.0 500.9 L259.5 499.3 L260.0 496.6 L260.5 494.6 L261.0 492.6 L261.6 490.9 L262.2 489.4 L262.8 486.3 L263.4 483.7 L264.0 482.7 L265.0 480.8 L266.0 479.5 L267.5 479.7 L268.9 481.1 L270.4 483.0 L271.9 483.7 L274.1 485.9 L276.4 487.7 L278.7 487.6 L280.9 488.2 L283.2 490.0 L285.4 492.3 L287.7 492.4 L289.9 492.3 L292.2 492.9 L294.2 492.8 L296.3 493.4 L298.3 494.4 L300.3 495.4 L302.4 495.7 L304.4 494.7 L306.4 493.9 L308.5 493.5 L310.5 492.6 L312.5 491.3 L314.6 492.3 L316.8 492.2 L318.9 492.3 L321.0 491.4 L323.1 492.8 L325.2 493.6 L327.3 492.8 L329.4 492.9 L331.1 494.6 L332.8 496.0 L334.5 497.6 L336.2 498.1 L337.9 499.5 L340.2 500.2 L342.4 500.3 L344.7 501.2 L346.8 502.4 L348.9 503.2 L351.0 503.3 L353.1 503.8 L355.3 502.5 L357.4 502.1 L359.5 502.8 L361.6 502.4 L363.7 502.7 L365.8 503.8 L368.0 505.1 L370.1 506.1 L372.2 506.6 L374.3 507.4 L376.4 508.5 L378.5 509.9 L380.7 510.7 L382.8 511.4 L384.9 512.3 L387.0 512.4 L388.7 513.1 L390.4 515.1 L392.1 517.2 L393.8 518.2 L395.5 518.8 L397.6 518.4 L399.7 518.8 L401.8 520.0 L403.9 520.3 L406.2 520.1 L408.5 520.6 L410.7 519.9 L413.0 520.0 L415.2 520.8 L417.5 520.8 L419.5 520.5 L421.5 520.0 L423.6 520.2 L425.6 520.8 L427.6 519.9 L429.7 521.2 L431.7 522.3 L433.7 523.3 L435.8 524.0 L437.8 524.8 L439.8 524.5 L441.9 524.4 L443.9 524.2 L445.9 523.7 L448.0 524.2 L450.0 524.2 L452.0 521.5 L454.0 521.3 L456.0 521.0 L457.9 520.6 L459.9 520.3 L461.9 520.1 L463.9 519.9 L465.9 519.9 L468.0 519.6 L470.1 519.1 L472.1 518.9 L474.2 518.7 L476.3 518.9 L478.3 519.1 L480.4 519.1 L482.5 519.1 L484.7 519.0 L486.8 518.5 L489.0 518.6 L491.2 518.5 L493.4 517.9 L495.5 517.5 L497.7 517.2 L500.0 517.6 L502.2 517.3 L504.5 517.0 L506.7 517.2 L509.0 517.0 L511.3 516.6 L513.5 516.3 L515.8 516.3 L518.0 515.9 L520.3 516.2 L522.5 516.8 L524.8 517.0 L527.1 517.2 L529.3 517.5 L531.6 517.4 L533.7 517.3 L535.8 517.2 L537.9 516.9 L540.0 516.6 L542.2 516.9 L544.3 516.7 L546.4 516.3 L548.5 516.3 L550.6 516.4 L552.7 515.7 L554.9 515.2 L557.0 515.0 L559.0 515.3 L561.0 514.9 L563.1 515.1 L565.1 515.1 L567.1 514.9 L569.2 514.5 L571.2 514.8 L573.2 514.7 L575.3 514.4 L577.3 513.9 L579.4 514.5 L581.5 514.8 L583.6 515.2 L585.7 515.4 L588.0 516.0 L590.3 516.0 L592.5 516.4 L594.8 517.3 L597.0 517.9 L599.3 517.9 L601.4 518.3 L603.5 518.1 L605.6 518.5 L607.8 518.7 L609.9 518.5 L612.0 518.3 L614.1 518.1 L616.2 518.7 L618.3 518.4 L620.5 518.9 L622.6 519.4 L624.7 519.3 L626.8 519.0 L628.9 519.5 L631.0 519.8 L633.1 519.9 L635.3 519.7 L637.4 519.6 L639.5 519.5 L641.6 519.3 L643.7 519.6 L645.8 519.6 L648.0 519.5 L650.1 519.3 L652.2 519.7 L654.3 519.7 L656.4 519.8 L658.5 519.8 L660.7 520.2 L662.8 520.5 L664.9 520.0 L667.0 519.9 L669.1 520.0 L671.2 520.6 L673.4 520.8 L675.5 520.7 L677.6 520.5 L679.7 520.8 L681.8 521.2 L683.9 521.5 L686.1 521.3 L688.2 521.6 L690.3 521.7 L692.4 521.6 L694.5 521.9 L696.6 521.3 L698.7 521.4 L700.8 520.9 L702.8 520.7 L704.9 521.1 L707.0 520.8 L709.1 521.0 L711.2 520.9 L713.3 521.1 L715.4 520.8 L717.5 520.5 L719.5 520.3 L721.6 520.6 L723.7 520.6 L725.8 520.8 L727.9 520.8 L730.0 520.2 L727.5 520.3 L725.0 520.1 L722.6 520.0 L724.6 519.7 L726.6 520.1 L728.6 520.1 L730.6 520.1 L732.6 519.6 L734.6 519.5 L736.6 519.4 L738.5 519.0 L740.5 518.8 L742.5 518.4 L744.5 517.9 L746.5 517.7 L748.5 518.0 L750.7 518.2 L752.8 518.7 L754.9 518.6 L757.1 518.5 L759.2 519.0 L761.3 519.3 L763.5 518.9 L765.6 519.3 L767.7 519.2 L769.8 519.2 L771.8 519.9 L773.9 519.7 L775.9 519.8 L778.0 520.6 L780.0 520.6 L782.1 520.5 L784.1 520.5 L786.2 520.7 L788.2 521.3 L790.3 521.2 L792.3 521.9 L794.4 521.9 L796.4 522.5 L798.5 522.8 L800.6 522.6 L802.6 522.5 L804.7 522.7 L806.7 522.6 L808.8 523.1 L810.8 523.0 L812.9 522.9 L815.0 523.8 L817.1 523.7 L819.2 524.0 L821.3 524.1 L823.4 524.0 L825.6 523.9 L827.7 524.6 L829.8 525.0 L831.8 525.2 L833.8 524.6 L835.8 524.3 L837.9 524.5 L839.9 524.9 L841.9 524.8 L843.9 524.8 L845.9 524.8 L847.9 524.4 L850.0 524.5 L852.0 524.3 L854.0 524.1 L856.0 523.9 L858.0 523.9 L860.1 524.6 L862.1 524.5 L864.2 524.6 L866.2 524.7 L868.3 525.0 L870.3 524.7 L872.4 524.5 L874.4 524.4 L876.5 524.3 L878.5 524.7 L880.6 525.0 L886.2 524.5 L886.2 508.2 L886.2 527.3" stroke="#008000"/>
<path transform="scale(1,1.420)" d="M262.2 379.1 L262.8 376.7 L263.4 374.7 L264.0 374.0 L265.0 372.4 L266.0 371.4 L267.5 371.6 L268.9 372.7 L270.4 374.1 L271.9 374.7 L274.1 376.4 L276.4 377.8 L278.7 377.8 L280.9 378.2 L283.2 379.6 L285.4 381.4 L287.7 381.4 L289.9 381.4 L292.2 381.8 L294.2 381.8 L296.3 382.2 L298.3 383.0 L300.3 383.7 L302.4 384.0 L304.4 383.2 L306.4 382.6 L308.5 382.3 L310.5 381.6 L312.5 380.6 L314.6 381.3 L316.8 381.3 L318.9 381.3 L321.0 380.6 L323.1 381.8 L325.2 382.3 L327.3 381.7 L329.4 381.8 L331.1 383.1 L332.8 384.2 L334.5 385.5 L336.2 385.8 L337.9 387.0 L340.2 387.5 L342.4 387.6 L344.7 388.3 L346.8 389.2 L348.9 389.8 L351.0 389.9 L353.1 390.3 L355.3 389.3 L357.4 389.0 L359.5 389.5 L361.6 389.2 L363.7 389.4 L365.8 390.3 L368.0 391.3 L370.1 392.0 L372.2 392.4 L374.3 393.1 L376.4 393.9 L378.5 395.0 L380.7 395.6 L382.8 396.1 L384.9 396.9 L387.0 397.0 L388.7 397.5 L390.4 399.0 L392.1 400.7 L393.8 401.4 L395.5 401.9 L397.6 401.5 L399.7 401.9 L401.8 402.8 L403.9 403.1 L406.2 402.9 L408.5 403.3 L410.7 402.7 L413.0 402.8 L415.2 403.5 L417.5 403.4 L419.5 403.2 L421.5 402.8 L423.6 403.0 L425.6 403.5 L427.6 402.7 L429.7 403.7" stroke="#008000"/>
<path transform="scale(1,1.100)" d="M167.4 541.1 L167.7 543.0 L167.9 544.8 L168.2 546.7 L168.4 548.5 L168.7 550.4 L168.9 552.3 L169.2 554.1 L169.4 556.0 L169.7 557.9 L170.0 559.7 L170.2 561.6 L170.5 563.5 L170.7 565.3 L171.0 567.2 L171.2 569.0 L171.5 570.9 L171.8 572.7 L172.0 574.5 L172.2 576.4 L172.5 578.2 L172.8 580.0 L173.0 581.8 L173.2 583.6 L173.5 585.5 L173.8 587.3 L174.0 589.1 L174.2 590.9 L174.5 592.7 L174.8 594.5 L175.0 596.4 L175.2 598.2 L175.5 600.0 L175.8 601.8 L176.0 603.6 L176.2 605.5 L176.5 607.3 L176.7 609.1 L176.9 610.9 L177.1 612.7 L177.3 614.5 L177.5 616.4 L177.7 618.2 L177.9 620.0 L178.1 621.8 L178.3 623.6 L178.5 625.5 L178.8 627.3 L179.0 629.1 L179.2 630.9 L179.4 632.7 L179.6 634.5 L179.8 636.4 L180.0 638.2 L180.2 640.0 L180.4 641.8 L180.6 643.6 L180.8 645.5 L181.0 647.3 L181.2 649.1 L181.4 650.9 L181.5 652.7 L181.7 654.5 L181.9 656.4 L182.1 658.2 L182.3 660.0 L182.5 661.8 L182.6 663.6 L182.8 665.5 L183.0 667.3 L183.2 669.1 L183.4 670.9 L183.6 672.7 L183.7 674.5 L183.9 676.4 L184.1 678.2 L184.3 680.0 L184.5 681.8 L184.6 683.6 L184.8 685.5 L185.0 687.3 L185.2 689.1 L185.4 690.9 L185.6 692.7 L185.7 694.5 L185.9 696.4 L186.1 698.2 L186.3 700.0 L186.5 701.8 L186.7 703.6 L186.8 705.5 L187.0 707.3 L187.2 709.1 L187.5 710.9 L187.8 712.7 L188.1 714.5 L188.4 716.4 L188.7 718.2 L189.0 720.0 L189.3 721.8 L189.6 723.6 L189.9 725.5 L190.2 727.3 L190.4 729.1 L190.7 730.9 L191.0 732.7 L191.3 734.5 L191.6 736.4 L191.9 738.2 L192.2 740.0 L192.5 741.8 L192.8 743.6 L193.1 745.5 L193.4 747.3 L193.7 749.1 L193.9 750.9 L194.2 752.7 L194.4 754.5 L194.7 756.4 L194.9 758.2 L195.2 760.0 L195.4 761.8 L195.7 763.6 L195.9 765.5 L196.2 767.3 L196.4 769.1 L196.7 770.9 L196.9 772.7 L197.2 774.5 L197.4 776.4 L197.7 778.2 L198.0 780.0 L198.3 781.8 L198.6 783.6 L198.9 785.5 L199.2 787.3 L199.5 789.1 L199.8 790.9 L200.1 792.7 L200.4 794.5 L200.7 796.4 L201.0 798.2 L201.3 800.0 L201.6 801.8 L201.9 803.6 L202.2 805.5 L202.5 807.3 L202.9 809.1 L203.3 810.9 L203.7 812.7 L204.1 814.5 L204.5 816.4 L204.9 818.2 L205.3 820.0 L205.7 821.8 L206.1 823.6 L206.5 825.5 L206.9 827.3 L207.3 829.1 L207.7 830.9 L208.1 832.7 L208.5 834.5 L208.9 836.4 L209.4 838.2 L209.8 840.0 L210.3 841.8 L210.8 843.6 L211.2 845.5 L211.7 847.3 L212.2 849.1 L212.6 850.9 L213.1 852.7 L213.6 854.5 L214.0 856.4 L214.5 858.2 L215.3 860.1 L216.2 862.0 L217.1 863.9 L217.9 865.8 L218.8 867.7 L219.6 869.5 L220.2 867.5 L220.8 865.4 L221.3 863.3 L221.9 861.2 L222.5 859.1 L222.7 857.3 L222.9 855.5 L223.1 853.6 L223.3 851.8 L223.6 850.0 L223.8 848.2 L224.0 846.4 L224.2 844.5 L224.4 842.7 L224.6 840.9 L224.7 839.0 L224.8 837.2 L224.9 835.3 L225.0 833.4 L225.1 831.6 L225.2 829.7 L225.3 827.8 L225.4 826.0 L225.6 824.1 L225.7 822.2 L225.8 820.4 L225.9 818.5 L226.0 816.6 L226.1 814.7 L226.2 812.9 L226.3 811.0 L226.4 809.1 L226.5 807.3 L226.6 805.5 L226.7 803.6 L226.7 801.8 L226.8 800.0 L226.9 798.2 L226.9 796.4 L227.0 794.5 L227.1 792.7 L227.2 790.9 L227.2 789.1 L227.3 787.3 L227.4 785.5 L227.5 783.6 L227.6 781.8 L227.6 780.0 L227.7 778.2 L227.8 776.4 L227.8 774.5 L227.9 772.7 L228.0 770.9 L228.1 769.1 L228.2 767.3 L228.2 765.5 L228.3 763.6 L228.4 761.8 L228.5 760.0 L228.5 758.2 L228.6 756.4 L228.7 754.5 L228.8 752.7 L228.8 750.9 L228.9 749.1 L229.0 747.3 L229.1 745.5 L229.1 743.6 L229.2 741.8 L229.3 740.0 L229.3 738.2 L229.4 736.4 L229.5 734.5 L229.6 732.7 L229.7 730.9 L229.7 729.1 L229.8 727.3 L229.9 725.5 L230.0 723.6 L230.0 721.8 L230.1 720.0 L230.2 718.2 L230.2 716.4 L230.3 714.5 L230.4 712.7 L230.5 710.9 L230.6 709.1 L230.6 707.3 L230.7 705.5 L230.8 703.6 L230.9 701.8 L230.9 700.0 L231.0 698.2 L231.1 696.4 L231.2 694.5 L231.2 692.7 L231.3 690.9 L231.5 689.1 L231.6 687.3 L231.8 685.5 L231.9 683.6 L232.1 681.8 L232.2 680.0 L232.4 678.2 L232.5 676.4 L232.7 674.5 L232.8 672.7 L233.0 670.9 L233.1 669.1 L233.3 667.3 L233.5 665.5 L233.6 663.6 L233.8 661.8 L233.9 660.0 L234.1 658.2 L234.2 656.4 L234.4 654.5 L234.5 652.7 L234.7 650.9 L234.8 649.1 L235.0 647.3 L235.1 645.5 L235.3 643.6 L235.5 641.8 L235.7 640.0 L235.9 638.2 L236.1 636.4 L236.3 634.5 L236.5 632.7 L236.7 630.9 L236.9 629.1 L237.1 627.3 L237.3 625.5 L237.5 623.6 L237.7 621.8 L237.9 620.0 L238.1 618.2 L238.3 616.4 L238.5 614.5 L238.7 612.7 L238.8 610.9 L239.0 609.1 L239.2 607.3 L239.3 605.5 L239.5 603.6 L239.7 601.8 L239.8 600.0 L240.0 598.2 L240.2 596.4 L240.4 594.5 L240.5 592.7 L240.7 590.9 L240.9 589.1 L241.0 587.3 L241.2 585.5 L241.4 583.6 L241.7 581.8 L241.9 580.0 L242.1 578.2 L242.4 576.4 L242.6 574.5 L242.9 572.7 L243.1 570.9 L243.3 569.1 L243.6 567.3 L243.8 565.5 L244.1 563.6 L244.3 561.8 L244.5 560.0 L244.8 558.2 L245.0 556.4 L245.3 554.5 L245.5 552.7 L245.8 550.9 L246.1 549.1 L246.4 547.3 L246.6 545.5 L246.9 543.6 L247.2 541.8 L247.5 540.0 L247.7 538.2 L248.0 536.4 L248.2 534.5 L248.5 532.7 L248.7 530.9 L248.9 529.1 L249.1 527.3 L249.4 525.5 L249.6 523.6 L249.8 521.8 L250.0 520.0 L250.3 518.2 L250.5 516.4 L250.9 514.5 L251.4 512.7 L251.8 510.8 L252.2 509.0 L252.7 507.1 L253.1 505.3 L253.5 503.4 L253.9 501.6 L254.4 499.8 L254.8 497.9 L255.2 496.1 L255.7 494.2 L256.2 492.4 L256.6 490.5 L257.1 488.7 L257.5 486.8 L257.9 485.0 L258.4 484.0 L258.9 482.6 L259.3 479.3 L260.1 476.7 L260.9 475.8 L261.7 474.2 L262.5 472.4 L263.9 470.5 L265.4 469.4 L266.8 468.2 L268.2 469.8 L269.6 470.5 L271.0 472.2 L273.1 471.8 L275.3 472.0 L276.1 470.9 L277.0 469.3 L277.9 466.9 L278.7 464.4 L281.2 465.0 L283.7 465.4 L285.4 466.0 L287.1 467.6 L288.8 468.7 L289.5 470.8 L290.2 473.8 L290.8 475.7 L291.5 477.7 L292.2 479.1 L292.9 480.3 L293.6 482.3 L294.2 483.9 L294.9 486.3 L295.6 489.3 L297.3 491.3 L299.0 492.3 L301.2 492.6 L303.5 492.3 L305.7 491.8 L308.0 492.4 L310.2 492.7 L312.5 493.0 L314.6 491.4 L316.8 491.4 L318.9 490.9 L321.0 488.9 L323.1 489.7 L325.2 490.2 L327.4 490.2 L329.5 490.5 L331.6 490.9 L333.7 492.2 L335.8 492.4 L337.9 493.4 L340.2 494.0 L342.4 495.9 L344.7 497.5 L346.8 497.1 L348.9 497.2 L350.9 498.0 L353.0 498.1 L355.1 498.8 L357.3 499.3 L359.5 500.2 L361.6 501.9 L363.9 502.0 L366.1 503.8 L368.4 503.9 L370.6 506.0 L372.8 506.6 L375.0 508.7 L377.1 509.7 L379.3 510.3 L381.5 511.1 L383.6 512.3 L385.9 513.0 L388.1 513.2 L390.4 513.5 L392.4 513.9 L394.4 515.0 L396.5 515.1 L398.5 514.2 L400.5 515.1 L402.8 515.5 L405.0 516.1 L407.2 515.3 L409.5 515.8 L411.8 515.0 L414.0 515.6 L416.3 514.9 L418.5 514.2 L420.8 514.7 L423.1 513.6 L425.3 513.5 L427.6 513.6 L429.6 513.3 L431.7 513.2 L433.7 514.0 L435.8 514.0 L437.8 514.4 L439.8 514.1 L441.9 514.5 L443.9 514.7 L445.9 515.5 L448.0 515.5 L450.0 516.5 L452.3 516.1 L454.6 516.6 L456.9 516.3 L459.2 516.4 L461.5 517.0 L463.9 516.8 L465.9 516.4 L468.0 516.5 L470.1 516.2 L472.1 515.6 L474.2 516.0 L476.3 515.4 L478.3 514.8 L480.4 514.7 L482.5 514.7 L484.7 515.4 L486.8 515.4 L489.0 515.9 L491.2 516.0 L493.4 516.7 L495.5 517.5 L497.7 518.1 L499.7 518.9 L501.6 519.4 L503.5 520.1 L505.5 520.5 L507.4 520.9 L509.3 521.1 L511.3 521.8 L513.5 521.5 L515.8 521.1 L518.0 521.1 L520.3 521.4 L522.5 520.9 L524.8 520.9 L527.0 520.9 L529.2 521.0 L531.3 520.8 L533.5 521.4 L535.7 521.2 L537.9 521.4 L540.0 521.4 L542.2 520.7 L544.3 520.5 L546.4 520.0 L548.5 519.5 L550.6 519.0 L552.7 518.7 L554.9 518.3 L557.0 518.4 L559.1 518.4 L561.2 518.8 L563.3 518.9 L565.4 519.0 L567.5 518.3 L569.7 518.1 L571.8 517.8 L573.9 517.9 L576.0 517.9 L578.1 518.0 L580.2 517.9 L582.4 517.5 L584.5 517.3 L586.6 517.3 L588.7 516.8 L590.8 516.5 L592.9 516.7 L595.1 516.6 L597.2 517.1 L599.3 516.9 L601.4 516.8 L603.5 516.7 L605.6 516.8 L607.8 516.8 L609.9 517.1 L612.0 517.2 L614.1 517.1 L616.2 517.4 L618.3 517.2 L620.5 517.7 L622.6 518.1 L624.7 518.1 L626.8 517.9 L628.9 517.9 L631.0 518.0 L633.1 517.6 L635.3 517.7 L637.4 517.9 L639.5 517.7 L641.6 517.6 L643.7 518.1 L645.8 518.1 L648.0 518.2 L650.1 518.7 L652.2 518.6 L654.3 518.4 L656.4 518.8 L658.5 518.5 L660.7 518.1 L662.8 518.4 L664.9 518.1 L667.0 518.1 L669.1 518.6 L671.2 518.7 L673.4 518.3 L675.5 518.4 L677.6 518.4 L679.7 518.5 L681.8 518.3 L683.9 518.6 L685.9 518.3 L687.9 518.3 L689.9 518.4 L691.9 519.0 L693.9 518.6 L695.9 518.9 L698.0 518.7 L700.0 518.9 L702.0 518.8 L704.0 518.9 L706.0 519.2 L708.0 519.0 L710.0 518.8 L712.0 518.6 L714.0 518.5 L716.0 519.1 L718.0 519.3 L720.0 519.7 L722.0 519.7 L724.0 519.1 L726.0 519.4 L728.0 519.6 L730.0 519.7 L732.1 519.7 L734.3 519.6 L736.5 519.6 L738.6 520.0 L740.8 519.8 L743.0 519.9 L745.1 520.0 L747.2 520.4 L749.3 520.5 L751.3 520.7 L753.4 520.7 L755.4 520.3 L757.5 520.0 L759.5 520.1 L761.6 519.9 L763.6 520.0 L765.7 520.3 L767.7 520.6 L769.8 520.5 L771.8 520.7 L773.9 520.2 L775.9 520.2 L778.0 520.7 L780.0 520.3 L782.1 520.3 L784.1 520.0 L786.2 519.9 L788.2 520.5 L790.3 520.9 L792.3 520.9 L794.4 520.4 L796.4 520.3 L798.5 520.2 L800.6 520.6 L802.6 520.8 L804.7 520.7 L806.7 520.7 L808.8 520.4 L810.8 520.6 L812.9 521.1 L814.9 521.2 L817.0 520.7 L819.0 520.8 L821.1 521.0 L823.1 520.8 L825.2 521.2 L827.2 521.0 L829.3 521.2 L831.3 521.0 L833.4 521.4 L835.4 521.5 L837.5 521.3 L839.5 520.9 L841.6 520.9 L843.6 520.5 L845.7 520.8 L847.8 521.1 L849.8 520.8 L851.9 520.8 L853.9 520.8 L856.0 520.8 L858.0 521.0 L860.1 521.3 L862.1 521.2 L864.2 521.0 L866.2 521.3 L868.3 520.9 L870.3 521.0 L872.4 521.0 L874.4 521.1 L876.5 521.2 L878.5 520.8 L880.6 520.8 L886.2 520.5 L886.2 510.0 L886.2 527.3" stroke="#0000ff"/>
<path transform="scale(1,1.420)" d="M262.5 366.0 L263.9 364.5 L265.4 363.6 L266.8 362.7 L268.2 363.9 L269.6 364.5 L271.0 365.8 L273.1 365.5 L275.3 365.6 L276.1 364.8 L277.0 363.6 L277.9 361.6 L278.7 359.8 L281.2 360.2 L283.7 360.5 L285.4 361.0 L287.1 362.2 L288.8 363.1 L289.5 364.7 L290.2 367.0 L290.8 368.5 L291.5 370.0 L292.2 371.1 L292.9 372.0 L293.6 373.6 L294.2 374.8 L294.9 376.7 L295.6 379.0 L297.3 380.6 L299.0 381.4 L301.2 381.6 L303.5 381.4 L305.7 381.0 L308.0 381.5 L310.2 381.6 L312.5 381.9 L314.6 380.7 L316.8 380.6 L318.9 380.3 L321.0 378.7 L323.1 379.3 L325.2 379.7 L327.4 379.7 L329.5 380.0 L331.6 380.3 L333.7 381.3 L335.8 381.5 L337.9 382.2 L340.2 382.7 L342.4 384.1 L344.7 385.4 L346.8 385.1 L348.9 385.2 L350.9 385.8 L353.0 385.9 L355.1 386.4 L357.3 386.8 L359.5 387.5 L361.6 388.8 L363.9 388.9 L366.1 390.2 L368.4 390.4 L370.6 392.0 L372.8 392.5 L375.0 394.1 L377.1 394.9 L379.3 395.3 L381.5 395.9 L383.6 396.8 L385.9 397.4 L388.1 397.6 L390.4 397.8 L392.4 398.1 L394.4 398.9 L396.5 399.0 L398.5 398.3 L400.5 399.1 L402.8 399.4 L405.0 399.8 L407.2 399.2 L409.5 399.6 L411.8 399.0 L414.0 399.4 L416.3 398.9 L418.5 398.4 L420.8 398.7 L423.1 397.9 L425.3 397.7 L427.6 397.9 L429.6 397.6" stroke="#0000ff"/>
<path transform="scale(1,1.100)" d="M167.4 541.1 L167.6 542.9 L167.9 544.8 L168.1 546.6 L168.3 548.5 L168.6 550.3 L168.8 552.2 L169.0 554.0 L169.3 555.9 L169.5 557.7 L169.7 559.6 L170.0 561.4 L170.2 563.3 L170.4 565.1 L170.7 567.0 L170.9 568.8 L171.1 570.7 L171.4 572.5 L171.6 574.4 L171.8 576.2 L172.1 578.1 L172.3 579.9 L172.5 581.8 L172.8 583.6 L173.0 585.5 L173.2 587.3 L173.3 589.1 L173.5 590.9 L173.6 592.7 L173.8 594.5 L173.9 596.4 L174.1 598.2 L174.2 600.0 L174.4 601.8 L174.6 603.6 L174.7 605.5 L174.9 607.3 L175.0 609.1 L175.2 610.9 L175.3 612.7 L175.5 614.5 L175.7 616.4 L175.8 618.2 L176.0 620.0 L176.1 621.8 L176.3 623.6 L176.4 625.5 L176.6 627.3 L176.8 629.1 L176.9 630.9 L177.1 632.7 L177.2 634.5 L177.4 636.4 L177.5 638.2 L177.7 640.0 L177.8 641.8 L178.0 643.6 L178.2 645.5 L178.3 647.3 L178.5 649.1 L178.7 650.9 L178.9 652.7 L179.0 654.5 L179.2 656.4 L179.4 658.2 L179.6 660.0 L179.7 661.8 L179.9 663.6 L180.1 665.5 L180.2 667.3 L180.4 669.1 L180.6 670.9 L180.8 672.7 L180.9 674.5 L181.1 676.4 L181.3 678.2 L181.5 680.0 L181.6 681.8 L181.8 683.6 L182.0 685.5 L182.2 687.3 L182.3 689.1 L182.5 690.9 L182.7 692.7 L182.8 694.5 L183.0 696.4 L183.2 698.2 L183.4 700.0 L183.5 701.8 L183.7 703.6 L183.9 705.5 L184.0 707.3 L184.2 709.1 L184.4 710.9 L184.6 712.7 L184.7 714.5 L184.9 716.4 L185.1 718.2 L185.2 720.0 L185.4 721.8 L185.6 723.6 L185.8 725.5 L185.9 727.3 L186.1 729.1 L186.3 730.9 L186.5 732.7 L186.6 734.5 L186.8 736.4 L187.0 738.2 L187.1 740.0 L187.3 741.8 L187.5 743.6 L187.7 745.5 L187.8 747.3 L188.0 749.1 L188.3 750.9 L188.6 752.7 L188.9 754.5 L189.2 756.4 L189.6 758.2 L189.9 760.0 L190.2 761.8 L190.5 763.6 L190.8 765.5 L191.1 767.3 L191.4 769.1 L191.8 770.9 L192.1 772.7 L192.4 774.5 L192.7 776.4 L193.0 778.2 L193.3 780.0 L193.6 781.8 L193.9 783.6 L194.2 785.5 L194.4 787.3 L194.7 789.1 L195.0 790.9 L195.3 792.7 L195.6 794.5 L195.9 796.4 L196.2 798.2 L196.4 800.0 L196.7 801.8 L197.0 803.6 L197.3 805.5 L197.6 807.3 L197.9 809.1 L198.1 810.9 L198.4 812.7 L198.7 814.5 L198.9 816.4 L199.2 818.2 L199.4 820.0 L199.7 821.8 L200.0 823.6 L200.2 825.5 L200.5 827.3 L200.8 829.1 L201.0 830.9 L201.3 832.7 L201.5 834.5 L201.8 836.4 L202.1 838.2 L202.5 840.0 L202.8 841.8 L203.2 843.6 L203.5 845.5 L203.9 847.3 L204.2 849.1 L204.6 850.9 L204.9 852.7 L205.3 854.5 L205.6 856.4 L206.0 858.2 L206.3 860.0 L206.7 861.8 L207.0 863.6 L207.4 865.4 L207.7 867.2 L208.1 869.0 L208.4 870.8 L208.8 872.7 L209.2 874.5 L209.5 876.3 L209.9 878.1 L210.2 879.9 L210.6 881.7 L211.0 883.5 L211.3 885.3 L211.7 887.1 L212.1 888.9 L212.4 890.7 L212.8 892.5 L213.1 894.3 L213.5 896.1 L213.8 897.9 L214.1 899.8 L214.5 901.6 L214.8 903.4 L215.1 905.3 L215.4 907.1 L215.8 908.9 L216.1 910.8 L216.4 912.6 L216.7 914.4 L217.1 916.3 L217.4 918.1 L217.7 919.9 L218.0 921.8 L218.4 923.6 L218.7 925.4 L219.0 927.3 L219.4 929.2 L219.7 931.1 L220.1 933.0 L220.5 934.9 L220.8 936.8 L221.2 938.7 L221.5 940.6 L221.9 942.5 L222.3 944.4 L222.6 946.3 L223.0 948.2 L223.2 946.4 L223.4 944.5 L223.6 942.7 L223.7 940.9 L223.9 939.1 L224.1 937.3 L224.3 935.5 L224.5 933.6 L224.7 931.8 L224.9 930.0 L225.0 928.2 L225.2 926.4 L225.4 924.5 L225.6 922.7 L225.8 920.9 L225.9 919.1 L226.1 917.3 L226.2 915.5 L226.4 913.6 L226.5 911.8 L226.7 910.0 L226.8 908.2 L227.0 906.4 L227.1 904.5 L227.3 902.7 L227.4 900.9 L227.6 899.1 L227.7 897.3 L227.9 895.5 L228.1 893.6 L228.3 891.7 L228.5 889.8 L228.7 887.9 L228.9 886.0 L229.1 884.1 L229.3 882.2 L229.5 880.3 L229.7 878.4 L229.9 876.5 L230.1 874.6 L230.3 872.7 L230.4 870.9 L230.5 869.1 L230.6 867.3 L230.7 865.5 L230.8 863.6 L230.9 861.8 L231.0 860.0 L231.1 858.2 L231.2 856.4 L231.3 854.5 L231.4 852.7 L231.5 850.9 L231.6 849.1 L231.7 847.3 L231.8 845.5 L231.9 843.6 L232.0 841.8 L232.1 840.0 L232.1 838.2 L232.2 836.4 L232.3 834.5 L232.4 832.7 L232.5 830.9 L232.6 829.1 L232.7 827.3 L232.8 825.5 L232.9 823.6 L233.0 821.8 L233.1 820.0 L233.2 818.2 L233.3 816.4 L233.4 814.5 L233.5 812.7 L233.6 810.9 L233.7 809.1 L233.8 807.3 L233.9 805.5 L234.0 803.6 L234.1 801.8 L234.2 800.0 L234.3 798.2 L234.4 796.4 L234.5 794.5 L234.6 792.7 L234.6 790.9 L234.7 789.1 L234.8 787.3 L234.9 785.5 L235.0 783.6 L235.1 781.8 L235.2 780.0 L235.3 778.2 L235.4 776.4 L235.5 774.5 L235.6 772.7 L235.7 770.9 L235.8 769.1 L235.9 767.3 L236.0 765.5 L236.1 763.6 L236.1 761.8 L236.2 760.0 L236.3 758.2 L236.4 756.4 L236.5 754.5 L236.6 752.7 L236.7 750.9 L236.8 749.1 L237.0 747.3 L237.1 745.5 L237.3 743.6 L237.4 741.8 L237.6 740.0 L237.8 738.2 L237.9 736.4 L238.1 734.5 L238.2 732.7 L238.4 730.9 L238.6 729.1 L238.7 727.3 L238.9 725.5 L239.0 723.6 L239.2 721.8 L239.3 720.0 L239.5 718.2 L239.7 716.4 L239.8 714.5 L240.0 712.7 L240.1 710.9 L240.3 709.1 L240.4 707.3 L240.6 705.5 L240.7 703.6 L240.9 701.8 L241.0 700.0 L241.1 698.2 L241.3 696.4 L241.4 694.5 L241.6 692.7 L241.7 690.9 L241.8 689.1 L242.0 687.3 L242.1 685.5 L242.3 683.6 L242.4 681.8 L242.5 680.0 L242.7 678.2 L242.8 676.4 L243.0 674.5 L243.1 672.7 L243.2 670.9 L243.4 669.1 L243.5 667.3 L243.7 665.5 L243.8 663.6 L244.0 661.8 L244.2 660.0 L244.5 658.2 L244.7 656.4 L244.9 654.5 L245.1 652.7 L245.3 650.9 L245.6 649.1 L245.8 647.3 L246.0 645.5 L246.2 643.6 L246.4 641.8 L246.7 640.0 L246.9 638.2 L247.1 636.4 L247.3 634.5 L247.5 632.7 L247.8 630.9 L248.0 629.1 L248.2 627.3 L248.4 625.5 L248.6 623.6 L248.8 621.8 L248.9 620.0 L249.1 618.2 L249.3 616.4 L249.5 614.5 L249.7 612.7 L249.9 610.9 L250.1 609.1 L250.3 607.3 L250.4 605.5 L250.6 603.6 L250.8 601.8 L251.0 600.0 L251.2 598.2 L251.4 596.4 L251.6 594.5 L251.8 592.7 L251.9 590.9 L252.1 589.1 L252.3 587.3 L252.5 585.5 L252.9 583.6 L253.3 581.8 L253.7 580.0 L254.1 578.2 L254.5 576.4 L254.9 574.5 L255.3 572.7 L255.8 570.9 L256.2 569.1 L256.6 567.3 L257.0 565.5 L257.4 563.6 L257.8 561.8 L258.2 559.5 L258.6 558.0 L259.0 556.0 L259.6 554.5 L260.3 553.0 L260.9 550.2 L261.6 547.8 L262.2 547.2 L262.9 545.0 L263.6 542.9 L264.2 542.3 L265.3 540.4 L266.3 539.2 L267.4 537.2 L268.5 535.6 L269.5 533.1 L270.6 531.9 L271.7 531.0 L272.7 529.1 L273.8 527.9 L274.9 526.3 L275.9 523.7 L277.0 522.8 L279.0 521.8 L280.9 520.3 L282.9 518.5 L284.8 520.6 L286.7 521.4 L288.6 522.8 L290.5 524.3 L292.6 525.2 L294.8 526.5 L296.9 526.7 L299.0 528.0 L301.1 528.3 L303.2 529.7 L305.3 530.7 L307.4 530.2 L309.1 530.7 L310.8 531.5 L312.5 533.8 L314.2 534.6 L315.9 535.9 L317.9 536.0 L319.9 536.8 L322.0 537.2 L324.0 537.7 L326.0 538.7 L328.0 539.6 L330.1 541.1 L332.1 541.8 L334.2 543.0 L336.2 543.9 L338.3 544.7 L340.4 544.9 L342.6 544.3 L344.7 545.5 L346.8 545.9 L348.9 546.0 L351.0 545.4 L353.1 545.3 L355.3 544.3 L357.4 544.9 L359.5 544.6 L361.6 543.9 L363.7 543.0 L365.8 543.9 L367.9 544.5 L370.1 543.1 L372.2 543.6 L374.3 543.0 L376.4 542.1 L378.5 541.8 L380.6 542.5 L382.8 542.9 L384.9 541.5 L387.0 541.7 L389.1 540.7 L391.2 541.3 L393.4 540.8 L395.5 541.5 L397.6 542.0 L399.7 541.3 L401.8 541.8 L403.9 540.8 L406.1 539.7 L408.2 540.0 L410.3 539.1 L412.4 538.9 L414.5 539.2 L416.6 539.6 L418.7 539.2 L420.8 538.8 L422.8 539.8 L424.9 539.5 L427.0 540.3 L429.1 540.6 L431.2 540.1 L433.3 539.9 L435.4 539.9 L437.5 540.0 L439.6 540.0 L441.6 540.0 L443.7 540.1 L445.8 540.4 L447.9 540.2 L450.0 539.9 L452.3 539.8 L454.6 539.2 L456.9 538.9 L459.2 539.1 L461.5 538.8 L463.9 538.5 L466.0 537.8 L468.1 537.6 L470.2 537.6 L472.3 537.0 L474.4 537.0 L476.6 537.0 L478.7 536.4 L480.8 536.4 L482.9 536.2 L485.0 536.1 L487.1 535.7 L489.3 535.7 L491.4 535.8 L493.5 535.3 L495.6 535.1 L497.7 535.4 L499.8 535.9 L501.9 535.5 L504.1 535.5 L506.2 535.6 L508.3 535.5 L510.4 535.4 L512.5 535.3 L514.6 535.3 L516.8 535.5 L518.9 535.3 L521.0 535.2 L523.1 535.5 L525.2 535.0 L527.3 535.2 L529.5 535.4 L531.6 535.1 L533.7 534.9 L535.8 535.2 L537.9 534.9 L540.0 534.7 L542.2 534.7 L544.3 534.9 L546.4 534.5 L548.5 534.5 L550.6 534.4 L552.7 534.6 L554.9 534.4 L557.0 534.5 L559.1 534.0 L561.2 533.7 L563.3 533.8 L565.4 534.0 L567.5 533.6 L569.7 533.2 L571.8 532.8 L573.9 532.9 L576.0 532.6 L578.1 532.8 L580.2 532.9 L582.4 532.4 L584.4 532.2 L586.4 532.5 L588.5 532.5 L590.5 532.6 L592.5 532.3 L594.6 531.9 L596.6 531.8 L598.6 532.2 L600.6 531.9 L602.7 531.8 L604.7 531.8 L606.7 531.7 L608.8 531.7 L610.8 532.0 L612.8 531.6 L614.9 531.4 L616.9 532.1 L618.9 532.6 L621.0 532.9 L623.0 532.8 L625.0 533.2 L627.1 533.4 L629.1 533.1 L631.1 533.4 L633.1 533.7 L635.3 533.6 L637.4 533.3 L639.5 533.0 L641.6 532.8 L643.7 532.6 L645.8 532.3 L648.0 532.6 L650.1 532.4 L652.2 532.8 L654.3 532.3 L656.4 532.7 L658.5 532.7 L660.7 532.9 L662.8 532.9 L664.9 532.9 L667.0 532.6 L669.1 532.0 L671.2 532.2 L673.4 531.9 L675.5 531.8 L677.6 532.0 L679.7 532.0 L681.8 531.9 L683.9 532.3 L686.1 532.2 L688.2 531.9 L690.3 531.7 L692.4 532.0 L694.5 531.9 L696.6 532.1 L698.7 531.8 L700.9 531.5 L702.9 531.6 L705.0 531.9 L707.1 531.6 L709.2 531.9 L711.3 532.2 L713.3 532.2 L715.4 532.3 L717.5 531.6 L719.6 531.8 L721.7 532.0 L723.7 531.5 L725.8 531.4 L727.9 531.4 L730.0 531.6 L732.0 531.6 L734.1 531.7 L736.1 532.0 L738.1 531.5 L740.2 531.3 L742.2 531.2 L744.2 531.2 L746.3 531.2 L748.3 531.9 L750.3 532.2 L752.4 531.8 L754.4 531.9 L756.4 531.8 L758.4 531.7 L760.5 531.7 L762.5 532.0 L764.5 532.1 L766.5 532.0 L768.5 531.8 L770.5 531.8 L772.6 531.6 L774.6 531.9 L776.6 532.2 L778.6 532.0 L780.6 531.7 L782.6 531.7 L784.7 531.8 L786.7 532.0 L788.7 532.3 L790.7 532.2 L792.7 532.4 L794.7 532.4 L796.7 532.3 L798.8 532.2 L800.8 532.2 L802.8 532.4 L804.8 532.3 L806.8 532.4 L808.8 532.3 L810.9 532.1 L812.9 532.2 L815.0 532.4 L817.1 532.1 L819.2 532.1 L821.3 532.2 L823.4 532.6 L825.6 532.9 L827.7 532.6 L829.8 532.9 L831.9 532.9 L834.0 532.6 L836.1 532.5 L838.3 532.2 L840.4 532.6 L842.5 532.8 L844.6 533.0 L846.7 533.1 L848.8 533.0 L851.0 533.0 L853.1 532.9 L855.2 532.5 L857.3 532.6 L859.4 532.3 L861.5 532.2 L863.7 532.6 L865.8 532.3 L867.9 532.2 L870.0 532.1 L872.1 532.7 L874.2 532.5 L876.4 532.2 L878.5 532.8 L880.6 532.5 L886.2 532.3 L886.2 528.2 L886.2 538.2" stroke="#bfbf00"/>
<path transform="scale(1,1.420)" d="M262.2 423.9 L262.9 422.2 L263.6 420.5 L264.2 420.1 L265.3 418.6 L266.3 417.7 L267.4 416.1 L268.5 414.9 L269.5 413.0 L270.6 412.0 L271.7 411.3 L272.7 409.9 L273.8 408.9 L274.9 407.7 L275.9 405.7 L277.0 405.0 L279.0 404.2 L280.9 403.0 L282.9 401.6 L284.8 403.3 L286.7 403.9 L288.6 405.0 L290.5 406.1 L292.6 406.9 L294.8 407.9 L296.9 408.0 L299.0 409.0 L301.1 409.3 L303.2 410.3 L305.3 411.1 L307.4 410.7 L309.1 411.1 L310.8 411.7 L312.5 413.5 L314.2 414.2 L315.9 415.1 L317.9 415.2 L319.9 415.8 L322.0 416.2 L324.0 416.5 L326.0 417.3 L328.0 418.0 L330.1 419.1 L332.1 419.7 L334.2 420.6 L336.2 421.3 L338.3 422.0 L340.4 422.1 L342.6 421.6 L344.7 422.6 L346.8 422.9 L348.9 423.0 L351.0 422.5 L353.1 422.4 L355.3 421.7 L357.4 422.1 L359.5 421.9 L361.6 421.4 L363.7 420.7 L365.8 421.3 L367.9 421.8 L370.1 420.7 L372.2 421.1 L374.3 420.6 L376.4 420.0 L378.5 419.7 L380.6 420.2 L382.8 420.6 L384.9 419.5 L387.0 419.7 L389.1 418.9 L391.2 419.3 L393.4 419.0 L395.5 419.5 L397.6 419.9 L399.7 419.4 L401.8 419.7 L403.9 418.9 L406.1 418.1 L408.2 418.3 L410.3 417.6 L412.4 417.4 L414.5 417.7 L416.6 418.0 L418.7 417.7 L420.8 417.4 L422.8 418.1 L424.9 418.0 L427.0 418.5 L429.1 418.8" stroke="#bfbf00"/>
<path transform="scale(1,1.100)" d="M167.4 541.1 L167.6 542.9 L167.8 544.8 L168.0 546.6 L168.2 548.5 L168.4 550.3 L168.6 552.2 L168.7 554.0 L168.9 555.9 L169.1 557.7 L169.3 559.6 L169.5 561.4 L169.7 563.3 L169.9 565.1 L170.1 567.0 L170.3 568.8 L170.5 570.7 L170.7 572.5 L170.8 574.4 L171.0 576.2 L171.2 578.1 L171.4 579.9 L171.6 581.8 L171.8 583.6 L172.0 585.5 L172.2 587.3 L172.3 589.1 L172.4 590.9 L172.6 592.7 L172.8 594.5 L172.9 596.4 L173.1 598.2 L173.2 600.0 L173.3 601.8 L173.5 603.6 L173.7 605.5 L173.8 607.3 L174.0 609.1 L174.1 610.9 L174.2 612.7 L174.4 614.5 L174.6 616.4 L174.7 618.2 L174.8 620.0 L175.0 621.8 L175.2 623.6 L175.3 625.5 L175.5 627.3 L175.6 629.1 L175.8 630.9 L175.9 632.7 L176.1 634.5 L176.2 636.4 L176.4 638.2 L176.5 640.0 L176.7 641.8 L176.8 643.6 L177.0 645.5 L177.1 647.3 L177.3 649.1 L177.4 650.9 L177.6 652.7 L177.7 654.5 L177.9 656.4 L178.0 658.2 L178.2 660.0 L178.3 661.8 L178.5 663.6 L178.6 665.5 L178.8 667.3 L179.0 669.1 L179.1 670.9 L179.3 672.7 L179.4 674.5 L179.6 676.4 L179.7 678.2 L179.9 680.0 L180.0 681.8 L180.2 683.6 L180.3 685.5 L180.5 687.3 L180.6 689.1 L180.8 690.9 L181.0 692.7 L181.2 694.5 L181.3 696.4 L181.5 698.2 L181.7 700.0 L181.9 701.8 L182.0 703.6 L182.2 705.5 L182.4 707.3 L182.6 709.1 L182.7 710.9 L182.9 712.7 L183.1 714.5 L183.2 716.4 L183.4 718.2 L183.6 720.0 L183.8 721.8 L184.0 723.6 L184.1 725.5 L184.3 727.3 L184.5 729.1 L184.7 730.9 L184.8 732.7 L185.0 734.5 L185.2 736.4 L185.3 738.2 L185.5 740.0 L185.7 741.8 L185.9 743.6 L186.1 745.5 L186.2 747.3 L186.4 749.1 L186.7 750.9 L187.0 752.7 L187.3 754.5 L187.6 756.4 L187.9 758.2 L188.2 760.0 L188.5 761.8 L188.9 763.6 L189.2 765.5 L189.5 767.3 L189.8 769.1 L190.1 770.9 L190.4 772.7 L190.7 774.5 L191.0 776.4 L191.3 778.2 L191.6 780.0 L191.9 781.8 L192.2 783.6 L192.5 785.5 L192.8 787.3 L193.1 789.1 L193.4 790.9 L193.7 792.7 L193.9 794.5 L194.2 796.4 L194.5 798.2 L194.8 800.0 L195.1 801.8 L195.4 803.6 L195.7 805.5 L196.0 807.3 L196.2 809.1 L196.5 810.9 L196.8 812.7 L197.0 814.5 L197.2 816.4 L197.5 818.2 L197.8 820.0 L198.0 821.8 L198.2 823.6 L198.5 825.5 L198.8 827.3 L199.0 829.1 L199.2 830.9 L199.5 832.7 L199.8 834.5 L200.0 836.4 L200.3 838.2 L200.7 840.0 L201.0 841.8 L201.3 843.6 L201.7 845.5 L202.0 847.3 L202.3 849.1 L202.7 850.9 L203.0 852.7 L203.3 854.5 L203.7 856.4 L204.0 858.2 L204.3 860.0 L204.7 861.8 L205.0 863.6 L205.4 865.4 L205.7 867.2 L206.1 869.0 L206.5 870.8 L206.9 872.7 L207.2 874.5 L207.6 876.3 L208.0 878.1 L208.3 879.9 L208.7 881.7 L209.1 883.5 L209.5 885.3 L209.8 887.1 L210.2 888.9 L210.6 890.7 L211.0 892.5 L211.3 894.3 L211.7 896.1 L212.1 898.0 L212.4 899.9 L212.8 901.8 L213.2 903.7 L213.6 905.6 L213.9 907.5 L214.3 909.4 L214.7 911.3 L215.1 913.2 L215.4 915.1 L215.8 917.0 L216.2 918.9 L216.6 920.8 L216.9 922.6 L217.3 924.5 L217.8 926.4 L218.3 928.2 L218.8 930.0 L219.2 931.8 L219.7 933.6 L220.2 935.5 L220.7 937.3 L221.2 939.1 L221.5 937.2 L221.9 935.3 L222.2 933.4 L222.5 931.5 L222.8 929.5 L223.2 927.6 L223.5 925.7 L223.8 923.8 L224.2 921.9 L224.5 920.0 L224.7 918.1 L224.9 916.2 L225.1 914.3 L225.3 912.4 L225.5 910.6 L225.7 908.7 L225.8 906.8 L226.0 904.9 L226.2 903.0 L226.4 901.1 L226.6 899.2 L226.8 897.3 L227.0 895.5 L227.2 893.6 L227.3 891.7 L227.5 889.8 L227.6 887.9 L227.8 886.0 L227.9 884.1 L228.1 882.2 L228.3 880.3 L228.4 878.4 L228.6 876.5 L228.7 874.6 L228.9 872.7 L229.0 870.9 L229.1 869.1 L229.2 867.3 L229.2 865.5 L229.3 863.6 L229.4 861.8 L229.5 860.0 L229.6 858.2 L229.7 856.4 L229.8 854.5 L229.8 852.7 L229.9 850.9 L230.0 849.1 L230.1 847.3 L230.2 845.5 L230.3 843.6 L230.4 841.8 L230.4 840.0 L230.5 838.2 L230.6 836.4 L230.7 834.5 L230.8 832.7 L230.9 830.9 L231.0 829.1 L231.1 827.3 L231.1 825.5 L231.2 823.6 L231.3 821.8 L231.4 820.0 L231.5 818.2 L231.6 816.4 L231.7 814.5 L231.7 812.7 L231.8 810.9 L231.9 809.1 L232.0 807.3 L232.1 805.5 L232.2 803.6 L232.3 801.8 L232.4 800.0 L232.5 798.2 L232.6 796.4 L232.7 794.5 L232.8 792.7 L232.8 790.9 L232.9 789.1 L233.0 787.3 L233.1 785.5 L233.2 783.6 L233.3 781.8 L233.4 780.0 L233.5 778.2 L233.6 776.4 L233.7 774.5 L233.8 772.7 L233.9 770.9 L234.0 769.1 L234.1 767.3 L234.2 765.5 L234.2 763.6 L234.3 761.8 L234.4 760.0 L234.5 758.2 L234.6 756.4 L234.7 754.5 L234.8 752.7 L234.9 750.9 L235.0 749.1 L235.1 747.3 L235.2 745.5 L235.3 743.6 L235.4 741.8 L235.5 740.0 L235.7 738.2 L235.8 736.4 L235.9 734.5 L236.0 732.7 L236.1 730.9 L236.2 729.1 L236.3 727.3 L236.4 725.5 L236.5 723.6 L236.6 721.8 L236.8 720.0 L236.9 718.2 L237.0 716.4 L237.1 714.5 L237.2 712.7 L237.3 710.9 L237.4 709.1 L237.5 707.3 L237.6 705.5 L237.7 703.6 L237.8 701.8 L238.0 700.0 L238.1 698.2 L238.2 696.4 L238.3 694.5 L238.4 692.7 L238.5 690.9 L238.6 689.1 L238.8 687.3 L238.9 685.5 L239.0 683.6 L239.1 681.8 L239.2 680.0 L239.4 678.2 L239.5 676.4 L239.6 674.5 L239.8 672.7 L239.9 670.9 L240.0 669.1 L240.1 667.3 L240.2 665.5 L240.4 663.6 L240.5 661.8 L240.6 660.0 L240.8 658.2 L240.9 656.4 L241.0 654.5 L241.2 652.7 L241.4 650.9 L241.6 649.1 L241.9 647.3 L242.1 645.5 L242.3 643.6 L242.5 641.8 L242.7 640.0 L242.9 638.2 L243.1 636.4 L243.3 634.5 L243.6 632.7 L243.8 630.9 L244.0 629.1 L244.2 627.3 L244.4 625.5 L244.6 623.6 L244.8 621.8 L245.1 620.0 L245.3 618.2 L245.5 616.4 L245.7 614.5 L245.9 612.7 L246.1 610.9 L246.3 609.1 L246.5 607.3 L246.7 605.5 L246.9 603.6 L247.1 601.8 L247.3 600.0 L247.5 598.2 L247.7 596.4 L247.9 594.5 L248.1 592.7 L248.3 590.9 L248.5 589.1 L248.7 587.3 L248.9 585.5 L249.3 583.6 L249.6 581.8 L250.0 580.0 L250.3 578.2 L250.7 576.4 L251.0 574.5 L251.4 572.7 L251.8 570.9 L252.1 569.1 L252.5 567.3 L252.8 565.5 L253.2 563.6 L253.5 561.8 L253.9 560.0 L254.2 558.2 L254.6 556.4 L255.1 554.5 L255.6 552.7 L256.1 550.9 L256.6 549.1 L257.1 547.3 L257.6 545.5 L258.1 543.2 L258.6 540.8 L259.5 539.4 L260.5 537.4 L261.4 535.4 L262.3 534.1 L263.3 533.6 L264.2 532.3 L265.5 531.0 L266.7 528.7 L268.0 527.3 L270.4 526.1 L272.9 524.8 L275.3 523.7 L277.5 525.0 L279.8 527.6 L282.0 529.4 L284.3 530.1 L286.6 530.8 L288.8 530.3 L290.5 531.4 L292.2 533.4 L293.9 535.3 L295.6 537.3 L297.8 538.6 L300.1 538.3 L302.4 539.6 L304.6 540.1 L306.9 540.2 L309.1 539.8 L311.4 540.2 L313.6 539.8 L315.9 541.3 L317.9 541.5 L320.0 540.9 L322.0 540.0 L324.0 540.5 L326.1 540.0 L328.1 540.8 L330.1 541.3 L332.2 541.1 L334.2 540.9 L336.2 541.3 L338.3 541.8 L340.5 542.0 L342.6 542.6 L344.7 544.3 L346.7 544.0 L348.6 544.2 L350.6 545.6 L352.6 546.0 L354.6 547.0 L356.5 547.7 L358.8 547.0 L361.0 547.6 L363.3 546.2 L365.4 546.9 L367.5 547.3 L369.7 548.6 L371.8 549.0 L373.7 548.6 L375.7 548.9 L377.7 548.1 L379.7 547.9 L381.6 548.3 L383.6 546.8 L385.7 546.2 L387.9 546.1 L390.0 547.0 L392.1 547.2 L394.2 546.6 L396.3 546.4 L398.4 546.0 L400.6 546.3 L402.8 545.3 L405.1 545.7 L407.3 546.0 L409.6 546.1 L411.8 545.5 L414.1 545.3 L416.3 544.0 L418.4 543.7 L420.6 544.6 L422.8 544.8 L425.0 544.3 L427.2 544.8 L429.3 544.7 L431.4 544.7 L433.5 544.1 L435.5 543.6 L437.6 543.6 L439.7 543.2 L441.7 543.2 L443.8 543.8 L445.9 543.4 L447.9 542.9 L450.0 542.6 L452.0 542.9 L453.9 543.8 L455.9 544.1 L457.9 544.3 L459.9 544.4 L461.9 545.4 L463.9 545.6 L466.0 545.2 L468.1 544.9 L470.2 544.7 L472.3 544.6 L474.4 544.9 L476.6 544.6 L478.7 544.3 L480.8 544.5 L482.9 544.3 L485.0 544.8 L487.1 544.3 L489.3 544.3 L491.4 544.5 L493.5 544.3 L495.6 544.5 L497.7 544.2 L499.8 543.9 L501.9 543.8 L504.1 543.4 L506.2 543.5 L508.3 543.4 L510.4 543.9 L512.5 544.0 L514.6 543.8 L516.8 543.3 L518.9 543.2 L521.0 543.1 L523.1 543.0 L525.2 542.9 L527.3 543.4 L529.5 543.0 L531.6 542.8 L533.7 543.2 L535.8 543.1 L537.9 543.3 L540.0 542.9 L542.2 543.0 L544.3 542.8 L546.4 542.7 L548.5 542.6 L550.6 542.2 L552.7 541.6 L554.9 541.3 L557.0 541.7 L559.1 541.8 L561.2 541.8 L563.3 541.3 L565.4 541.2 L567.5 541.3 L569.7 541.3 L571.8 541.4 L573.9 541.2 L576.0 541.2 L578.1 541.3 L580.2 540.9 L582.4 541.3 L584.5 541.5 L586.6 540.9 L588.7 541.3 L590.8 541.5 L592.9 541.4 L595.1 540.8 L597.2 541.2 L599.3 540.8 L601.4 541.2 L603.5 541.1 L605.6 540.6 L607.8 540.3 L609.9 540.5 L612.0 540.6 L614.1 540.7 L616.2 540.9 L618.3 540.4 L620.5 539.9 L622.6 540.4 L624.7 539.8 L626.8 540.2 L628.9 539.8 L631.0 540.1 L633.1 540.2 L635.3 540.2 L637.4 539.8 L639.5 539.8 L641.6 539.2 L643.7 539.2 L645.8 538.8 L648.0 539.0 L650.1 538.9 L652.2 538.5 L654.3 538.3 L656.4 537.7 L658.5 537.3 L660.7 537.4 L662.8 537.3 L664.9 537.5 L667.0 537.3 L669.1 537.0 L671.2 537.0 L673.4 537.4 L675.5 537.4 L677.6 537.0 L679.7 537.5 L681.8 537.8 L683.9 537.3 L686.1 537.5 L688.2 537.5 L690.3 537.8 L692.4 537.6 L694.5 537.5 L696.6 537.6 L698.7 538.1 L700.9 537.7 L702.9 537.4 L705.0 537.6 L707.1 538.0 L709.2 537.8 L711.3 537.6 L713.3 537.9 L715.4 537.9 L717.5 537.3 L719.6 537.6 L721.7 537.2 L723.7 537.1 L725.8 537.4 L727.9 537.2 L730.0 537.4 L733.9 536.3 L736.0 536.6 L738.1 536.1 L740.2 535.9 L742.3 535.9 L744.4 535.8 L746.6 535.9 L748.7 536.2 L750.8 536.2 L752.9 535.6 L755.0 535.5 L757.1 535.6 L759.3 535.6 L761.4 535.7 L763.5 535.6 L765.6 535.1 L767.7 535.0 L769.8 535.5 L771.8 535.3 L773.9 535.6 L775.9 535.9 L778.0 535.8 L780.0 535.7 L782.1 535.7 L784.1 535.4 L786.2 535.7 L788.2 535.5 L790.3 535.8 L792.3 535.5 L794.4 535.7 L796.4 535.8 L798.5 535.7 L800.6 535.5 L802.6 535.2 L804.7 535.5 L806.7 535.3 L808.8 535.5 L810.8 535.1 L812.9 534.9 L815.0 534.8 L817.1 535.2 L819.2 535.0 L821.3 535.4 L823.4 535.1 L825.6 535.2 L827.7 535.0 L829.8 535.1 L831.9 534.7 L834.0 534.7 L836.1 535.1 L838.3 534.7 L840.4 534.8 L842.5 534.6 L844.6 534.5 L846.7 534.1 L848.8 533.9 L851.0 534.6 L853.1 534.8 L855.2 534.8 L857.3 534.9 L859.4 535.0 L861.5 534.4 L863.7 534.4 L865.8 534.3 L867.9 534.2 L870.0 534.5 L872.1 534.5 L874.2 534.6 L876.4 534.0 L878.5 534.0 L880.6 534.1 L886.2 535.5 L886.2 529.1 L886.2 544.1" stroke="#bd1a1a"/>
<path transform="scale(1,1.420)" d="M262.3 413.7 L263.3 413.3 L264.2 412.4 L265.5 411.4 L266.7 409.6 L268.0 408.5 L270.4 407.5 L272.9 406.6 L275.3 405.7 L277.5 406.7 L279.8 408.7 L282.0 410.1 L284.3 410.7 L286.6 411.2 L288.8 410.8 L290.5 411.7 L292.2 413.2 L293.9 414.7 L295.6 416.2 L297.8 417.2 L300.1 417.0 L302.4 418.0 L304.6 418.4 L306.9 418.5 L309.1 418.1 L311.4 418.5 L313.6 418.2 L315.9 419.3 L317.9 419.5 L320.0 419.0 L322.0 418.3 L324.0 418.7 L326.1 418.3 L328.1 418.9 L330.1 419.3 L332.2 419.1 L334.2 419.0 L336.2 419.3 L338.3 419.7 L340.5 419.8 L342.6 420.4 L344.7 421.6 L346.7 421.4 L348.6 421.5 L350.6 422.6 L352.6 423.0 L354.6 423.7 L356.5 424.3 L358.8 423.8 L361.0 424.2 L363.3 423.1 L365.4 423.7 L367.5 423.9 L369.7 425.0 L371.8 425.3 L373.7 424.9 L375.7 425.2 L377.7 424.6 L379.7 424.4 L381.6 424.7 L383.6 423.6 L385.7 423.1 L387.9 423.0 L390.0 423.7 L392.1 423.9 L394.2 423.4 L396.3 423.3 L398.4 423.0 L400.6 423.2 L402.8 422.4 L405.1 422.7 L407.3 423.0 L409.6 423.0 L411.8 422.6 L414.1 422.5 L416.3 421.4 L418.4 421.2 L420.6 421.9 L422.8 422.0 L425.0 421.7 L427.2 422.1 L429.3 421.9" stroke="#bd1a1a"/>
</g>
<line x1="167.2" y1="595.2" x2="892.5" y2="595.2" stroke="#000" stroke-width="5.36" stroke-dasharray="5.26 8.95"/>
<line x1="220.3" y1="1135.2" x2="220.3" y2="163.3" stroke="#000" stroke-width="5.36" stroke-dasharray="5.26 8.95"/>
</g>
<line x1="154.8" y1="163.3" x2="167.4" y2="163.3" stroke="#000" stroke-width="2.9"/>
<text x="142.1" y="175.5" text-anchor="end" font-size="35.7">0.4</text>
<line x1="154.8" y1="271.3" x2="167.4" y2="271.3" stroke="#000" stroke-width="2.9"/>
<text x="142.1" y="283.4" text-anchor="end" font-size="35.7">0.3</text>
<line x1="154.8" y1="379.4" x2="167.4" y2="379.4" stroke="#000" stroke-width="2.9"/>
<text x="142.1" y="391.3" text-anchor="end" font-size="35.7">0.2</text>
<line x1="154.8" y1="487.4" x2="167.4" y2="487.4" stroke="#000" stroke-width="2.9"/>
<text x="142.1" y="499.2" text-anchor="end" font-size="35.7">0.1</text>
<line x1="154.8" y1="595.5" x2="167.4" y2="595.5" stroke="#000" stroke-width="2.9"/>
<text x="142.1" y="607.1" text-anchor="end" font-size="35.7">0.0</text>
<line x1="154.8" y1="703.5" x2="167.4" y2="703.5" stroke="#000" stroke-width="2.9"/>
<text x="142.1" y="715.1" text-anchor="end" font-size="35.7">−0.1</text>
<line x1="154.8" y1="811.6" x2="167.4" y2="811.6" stroke="#000" stroke-width="2.9"/>
<text x="142.1" y="823.0" text-anchor="end" font-size="35.7">−0.2</text>
<line x1="154.8" y1="919.6" x2="167.4" y2="919.6" stroke="#000" stroke-width="2.9"/>
<text x="142.1" y="930.9" text-anchor="end" font-size="35.7">−0.3</text>
<line x1="154.8" y1="1027.7" x2="167.4" y2="1027.7" stroke="#000" stroke-width="2.9"/>
<text x="142.1" y="1038.8" text-anchor="end" font-size="35.7">−0.4</text>
<line x1="154.8" y1="1135.7" x2="167.4" y2="1135.7" stroke="#000" stroke-width="2.9"/>
<text x="142.1" y="1146.7" text-anchor="end" font-size="35.7">−0.5</text>
<line x1="167.4" y1="1135.7" x2="167.4" y2="1149.3" stroke="#000" stroke-width="2.9"/>
<text x="168.3" y="1185.9" text-anchor="middle" font-size="35.7">0</text>
<line x1="344.4" y1="1135.7" x2="344.4" y2="1149.3" stroke="#000" stroke-width="2.9"/>
<text x="344.2" y="1185.9" text-anchor="middle" font-size="35.7">10</text>
<line x1="521.5" y1="1135.7" x2="521.5" y2="1149.3" stroke="#000" stroke-width="2.9"/>
<text x="521.2" y="1185.9" text-anchor="middle" font-size="35.7">20</text>
<line x1="698.5" y1="1135.7" x2="698.5" y2="1149.3" stroke="#000" stroke-width="2.9"/>
<text x="697.6" y="1185.9" text-anchor="middle" font-size="35.7">30</text>
<line x1="875.6" y1="1135.7" x2="875.6" y2="1149.3" stroke="#000" stroke-width="2.9"/>
<text x="874.7" y="1185.9" text-anchor="middle" font-size="35.7">40</text>
<rect x="167.4" y="163.3" width="725.1" height="972.4" fill="none" stroke="#000" stroke-width="2.9"/>
<text x="530.4" y="141.4" text-anchor="middle" font-size="43.0">Essay set 1</text>
<g clip-path="url(#c2)">
<path d="M1038.3 595.0 L1039.4 598.1 L1040.4 601.2 L1041.5 604.4 L1042.6 607.5 L1043.6 610.6 L1044.7 613.7 L1045.6 616.7 L1046.4 619.8 L1047.3 622.8 L1048.1 625.8 L1049.0 628.8 L1049.8 631.9 L1050.7 634.9 L1051.6 637.9 L1052.4 640.9 L1053.3 644.0 L1054.1 647.0 L1055.0 650.0 L1055.8 653.1 L1056.5 656.2 L1057.3 659.2 L1058.1 662.3 L1058.8 665.4 L1059.6 668.5 L1060.4 671.5 L1061.2 674.6 L1061.9 677.7 L1062.7 680.8 L1063.5 683.8 L1064.2 686.9 L1065.0 690.0 L1065.8 692.9 L1066.7 695.8 L1067.5 698.8 L1068.3 701.7 L1069.2 704.6 L1070.0 707.5 L1070.8 710.4 L1071.7 713.3 L1072.5 716.2 L1073.3 719.2 L1074.2 722.1 L1075.0 725.0 L1075.8 728.0 L1076.6 731.0 L1077.4 734.0 L1078.2 737.0 L1079.0 740.0 L1079.8 743.0 L1080.6 746.0 L1081.4 749.0 L1082.2 752.0 L1083.0 755.0 L1083.4 758.2 L1083.8 761.4 L1084.2 764.5 L1084.6 767.7 L1085.0 770.9 L1085.5 774.1 L1085.9 777.3 L1086.3 780.5 L1086.7 783.6 L1087.1 786.8 L1087.5 790.0 L1087.6 787.0 L1087.7 784.0 L1087.8 781.0 L1087.9 778.0 L1088.0 775.0 L1088.1 772.0 L1088.2 769.0 L1088.3 766.0 L1088.4 763.0 L1088.5 760.0 L1088.7 756.9 L1088.8 753.8 L1089.0 750.8 L1089.1 747.7 L1089.3 744.6 L1089.4 741.5 L1089.6 738.5 L1089.7 735.4 L1089.9 732.3 L1090.0 729.2 L1090.2 726.2 L1090.3 723.1 L1090.5 720.0 L1090.7 716.9 L1090.8 713.8 L1091.0 710.8 L1091.1 707.7 L1091.3 704.6 L1091.4 701.5 L1091.6 698.5 L1091.7 695.4 L1091.9 692.3 L1092.0 689.2 L1092.2 686.2 L1092.3 683.1 L1092.5 680.0 L1092.6 677.0 L1092.7 674.0 L1092.8 671.0 L1092.9 668.0 L1093.0 665.0 L1093.1 662.0 L1093.2 659.0 L1093.3 656.0 L1093.4 653.0 L1093.5 650.0 L1093.6 647.0 L1093.7 644.0 L1093.8 641.0 L1093.9 638.0 L1094.0 635.0 L1094.1 632.0 L1094.2 629.0 L1094.3 626.0 L1094.4 623.0 L1094.5 620.0 L1094.6 616.9 L1094.7 613.8 L1094.8 610.8 L1095.0 607.7 L1095.1 604.6 L1095.2 601.5 L1095.3 598.5 L1095.4 595.4 L1095.5 592.3 L1095.7 589.2 L1095.8 586.2 L1095.9 583.1 L1096.0 580.0 L1096.1 576.9 L1096.2 573.8 L1096.3 570.8 L1096.5 567.7 L1096.6 564.6 L1096.7 561.5 L1096.8 558.5 L1096.9 555.4 L1097.0 552.3 L1097.2 549.2 L1097.3 546.2 L1097.4 543.1 L1097.5 540.0 L1097.7 537.0 L1097.8 534.0 L1098.0 531.0 L1098.1 528.0 L1098.2 525.0 L1098.4 522.0 L1098.5 519.0 L1098.7 516.0 L1098.8 513.0 L1099.0 510.0 L1099.2 507.0 L1099.3 504.0 L1099.5 501.0 L1099.6 498.0 L1099.8 495.0 L1099.9 492.0 L1100.0 489.0 L1100.2 486.0 L1100.3 483.0 L1100.5 480.0 L1100.7 476.9 L1101.0 473.8 L1101.2 470.8 L1101.4 467.7 L1101.7 464.6 L1101.9 461.5 L1102.1 458.5 L1102.3 455.4 L1102.6 452.3 L1102.8 449.2 L1103.0 446.2 L1103.3 443.1 L1103.5 440.0 L1103.7 437.0 L1103.9 433.9 L1104.1 430.9 L1104.4 427.8 L1104.6 424.8 L1104.8 421.7 L1105.0 418.7 L1105.2 415.6 L1105.4 412.6 L1105.6 409.5 L1105.9 406.5 L1106.1 402.0 L1106.3 398.5 L1106.5 396.1 L1106.7 394.2 L1106.9 390.1 L1107.1 386.5 L1107.4 383.5 L1107.6 382.0 L1107.8 378.0 L1108.0 376.2 L1108.4 373.4 L1108.8 368.9 L1109.2 366.2 L1109.5 363.1 L1109.9 359.8 L1110.3 358.4 L1110.7 353.3 L1111.1 349.0 L1111.5 348.1 L1111.8 344.4 L1112.2 340.4 L1112.6 337.2 L1113.0 334.1 L1113.5 332.7 L1114.1 328.2 L1114.6 324.4 L1115.2 322.0 L1115.7 319.1 L1116.3 317.3 L1116.8 314.4 L1117.4 310.0 L1117.9 305.7 L1118.5 303.9 L1119.0 301.8 L1122.0 297.5 L1125.0 296.5 L1130.0 295.3 L1133.0 298.1 L1136.0 299.7 L1137.5 303.7 L1139.0 307.1 L1140.5 308.6 L1142.0 312.2 L1146.0 313.3 L1150.0 314.3 L1151.8 317.6 L1153.6 320.8 L1155.4 324.1 L1155.7 328.1 L1155.9 332.2 L1156.2 336.2 L1156.4 339.8 L1156.7 343.2 L1157.0 345.8 L1157.2 347.3 L1157.5 349.2 L1157.8 353.0 L1158.0 356.2 L1158.3 359.8 L1158.5 361.4 L1158.8 364.0 L1159.8 369.4 L1160.8 372.8 L1161.9 376.5 L1162.9 378.2 L1163.9 381.7 L1165.3 386.1 L1166.7 388.9 L1168.2 392.8 L1169.6 393.7 L1171.0 396.4 L1172.4 400.1 L1173.3 402.5 L1174.3 406.1 L1175.2 408.7 L1176.2 410.1 L1177.1 412.2 L1178.1 417.3 L1179.0 418.8 L1182.4 418.8 L1185.9 419.6 L1189.3 421.4 L1193.5 422.4 L1197.8 421.8 L1199.9 424.0 L1202.0 427.1 L1204.1 428.4 L1206.2 430.5 L1209.0 432.1 L1211.9 433.5 L1214.7 432.8 L1217.7 430.3 L1220.6 428.0 L1223.5 427.7 L1226.5 426.4 L1229.9 429.1 L1233.2 430.6 L1236.6 430.6 L1240.0 432.8 L1242.8 435.2 L1245.7 435.1 L1248.5 434.8 L1251.3 436.3 L1254.2 437.5 L1257.0 438.5 L1259.8 439.2 L1262.7 440.5 L1265.5 444.0 L1268.3 444.0 L1271.2 446.3 L1274.0 447.0 L1276.8 448.2 L1279.6 451.6 L1282.5 452.5 L1285.3 453.5 L1288.1 455.6 L1290.9 458.2 L1292.7 460.6 L1294.5 464.0 L1296.4 465.5 L1298.2 467.8 L1300.0 470.8 L1302.5 472.3 L1305.0 474.8 L1307.5 476.3 L1310.0 477.0 L1312.5 478.4 L1315.0 482.0 L1318.2 484.3 L1321.3 486.7 L1324.5 487.9 L1327.6 489.0 L1330.8 489.0 L1333.9 491.8 L1337.0 490.6 L1340.0 491.1 L1343.1 490.7 L1346.2 491.4 L1349.3 491.7 L1352.3 492.4 L1355.4 493.8 L1358.5 494.2 L1361.6 493.6 L1364.6 495.1 L1367.7 496.0 L1370.8 497.2 L1373.9 495.8 L1376.9 497.2 L1380.0 499.1 L1383.1 498.5 L1386.2 498.4 L1389.3 500.6 L1392.4 500.6 L1395.4 501.2 L1398.5 503.0 L1401.6 503.0 L1404.7 502.6 L1407.7 502.6 L1410.8 503.2 L1413.9 504.9 L1417.0 504.9 L1420.0 506.4 L1423.1 505.2 L1426.2 505.4 L1429.3 506.8 L1432.3 507.4 L1435.4 507.9 L1438.5 509.4 L1441.6 508.3 L1444.6 507.6 L1447.7 506.8 L1450.8 507.9 L1453.9 508.0 L1457.0 508.6 L1460.1 507.7 L1463.1 507.2 L1466.2 508.3 L1469.3 510.0 L1472.4 509.7 L1475.4 511.5 L1478.5 511.5 L1481.6 511.2 L1484.6 512.2 L1487.7 511.3 L1490.7 512.0 L1493.8 513.3 L1496.9 513.1 L1499.9 512.5 L1503.0 511.7 L1506.1 513.4 L1509.2 513.5 L1512.3 514.5 L1515.4 515.9 L1518.5 518.2 L1521.5 519.0 L1524.6 519.3 L1527.7 520.9 L1530.8 520.5 L1533.9 520.9 L1537.0 522.4 L1540.1 522.8 L1543.3 522.1 L1546.4 522.6 L1549.5 524.3 L1552.7 523.6 L1555.8 524.8 L1558.9 523.6 L1562.1 526.0 L1565.2 526.5 L1568.3 525.9 L1571.5 527.8 L1574.6 528.4 L1577.7 526.7 L1580.9 526.6 L1584.0 527.5 L1587.2 529.4 L1590.3 527.9 L1593.5 527.0 L1596.7 527.4 L1599.8 526.9 L1603.0 527.8 L1606.1 528.8 L1609.3 529.1 L1612.5 528.4 L1615.6 527.8 L1618.8 529.9 L1621.9 530.0 L1625.1 530.3 L1628.3 530.5 L1631.4 531.3 L1634.6 532.4 L1637.8 533.1 L1640.9 533.3 L1644.0 532.4 L1647.2 531.6 L1650.3 531.2 L1653.5 533.5 L1656.6 532.4 L1659.8 533.6 L1663.0 535.4 L1666.1 534.7 L1669.2 534.8 L1672.4 535.1 L1675.5 537.0 L1678.7 537.4 L1681.8 538.2 L1685.0 536.4 L1688.1 537.8 L1691.1 537.8 L1694.2 537.8 L1697.3 539.3 L1700.4 539.9 L1703.4 541.0 L1706.5 541.2 L1709.6 541.9 L1712.7 541.1 L1715.7 541.2 L1718.8 542.1 L1721.9 542.0 L1724.9 541.2 L1728.0 542.5 L1731.1 544.2 L1734.1 545.4 L1737.2 544.0 L1740.2 544.3 L1743.3 544.3 L1746.4 544.9 L1749.4 547.3 L1752.5 547.2 L1756.7 547.0 L1755.7 602.0 L1752.7 602.4 L1749.6 603.5 L1746.6 603.1 L1743.6 602.6 L1740.5 602.6 L1737.5 602.9 L1734.4 605.1 L1731.4 604.1 L1728.4 605.5 L1725.3 604.4 L1722.3 606.0 L1719.3 605.3 L1716.2 606.7 L1713.2 606.5 L1710.1 605.4 L1707.1 605.1 L1704.1 607.2 L1701.0 607.6 L1698.0 607.7 L1694.9 607.6 L1691.7 608.7 L1688.6 608.8 L1685.5 607.7 L1682.3 608.9 L1679.2 608.8 L1676.1 610.6 L1672.9 610.7 L1669.8 611.6 L1666.7 610.2 L1663.6 611.4 L1660.4 611.9 L1657.3 613.0 L1654.2 613.8 L1651.0 613.4 L1647.9 613.5 L1644.8 614.2 L1641.6 613.2 L1638.5 613.7 L1635.2 615.5 L1631.9 616.3 L1628.5 617.1 L1625.2 618.9 L1621.9 620.7 L1618.6 619.9 L1615.6 618.6 L1612.5 619.7 L1609.5 618.9 L1606.4 621.0 L1603.4 620.7 L1600.3 620.8 L1597.3 621.8 L1594.2 622.5 L1591.2 620.7 L1588.1 620.9 L1585.1 620.2 L1582.0 620.8 L1579.0 620.2 L1575.9 622.5 L1572.8 622.3 L1569.8 622.5 L1566.7 624.4 L1563.6 625.3 L1560.5 624.6 L1557.5 624.9 L1554.4 625.8 L1551.3 625.0 L1548.2 624.7 L1545.2 627.0 L1542.1 626.2 L1539.0 627.7 L1536.0 628.6 L1532.9 628.8 L1529.9 628.3 L1526.8 629.7 L1523.8 630.4 L1520.8 628.7 L1517.7 630.5 L1514.7 630.8 L1511.7 630.1 L1508.6 629.5 L1505.6 629.1 L1502.5 631.2 L1499.5 632.6 L1496.4 632.0 L1493.4 631.5 L1490.3 631.1 L1487.3 632.2 L1484.2 632.6 L1481.1 632.3 L1478.1 633.2 L1475.0 635.4 L1471.9 634.4 L1468.9 635.2 L1465.8 636.2 L1462.8 635.8 L1459.7 635.5 L1456.4 635.6 L1453.1 636.1 L1449.8 639.0 L1446.5 640.3 L1443.2 640.7 L1439.9 641.7 L1436.6 640.6 L1433.3 640.1 L1430.0 641.8 L1427.0 642.0 L1424.0 643.1 L1421.0 642.1 L1418.0 641.9 L1415.0 642.9 L1412.0 644.0 L1409.0 642.5 L1406.0 642.2 L1402.7 641.1 L1399.4 642.2 L1396.1 643.9 L1392.8 643.6 L1389.5 642.3 L1386.2 643.2 L1382.9 643.6 L1379.6 642.1 L1376.3 643.8 L1373.0 644.5 L1369.7 644.7 L1366.4 644.7 L1363.1 644.4 L1359.8 645.6 L1356.5 646.2 L1353.2 646.1 L1349.9 647.4 L1346.7 648.3 L1343.4 649.8 L1340.1 650.8 L1336.8 649.9 L1333.5 651.0 L1330.2 651.1 L1326.9 651.7 L1323.6 653.0 L1320.3 655.3 L1317.0 654.2 L1313.7 654.7 L1310.4 654.8 L1307.2 656.4 L1303.9 657.8 L1300.6 657.2 L1297.3 655.9 L1294.5 658.1 L1291.6 659.8 L1288.8 661.7 L1286.0 663.6 L1283.2 664.3 L1280.3 665.7 L1277.5 667.7 L1274.2 666.4 L1270.9 666.8 L1267.7 668.6 L1264.4 670.7 L1261.1 672.0 L1257.8 671.0 L1255.0 673.6 L1252.1 673.6 L1249.3 674.8 L1246.5 675.2 L1243.7 677.4 L1240.8 678.6 L1238.0 680.8 L1235.1 680.6 L1232.3 677.3 L1229.4 676.6 L1226.6 675.3 L1223.7 673.0 L1220.9 670.4 L1218.0 671.1 L1215.2 673.2 L1212.4 674.9 L1209.5 675.1 L1206.7 678.4 L1203.9 679.5 L1201.1 681.1 L1198.2 683.0 L1195.4 684.6 L1192.6 687.7 L1189.6 686.0 L1186.7 685.2 L1183.8 684.7 L1180.8 684.4 L1177.8 681.4 L1174.9 680.0 L1172.0 680.6 L1169.0 679.4 L1165.7 678.6 L1162.3 679.7 L1159.0 677.9 L1155.7 677.5 L1152.3 676.7 L1149.0 678.1 L1145.6 676.8 L1142.2 674.8 L1138.7 673.5 L1135.3 671.6 L1133.9 675.8 L1132.5 679.6 L1131.1 682.0 L1129.6 685.0 L1128.2 688.1 L1126.8 691.2 L1125.4 694.3 L1121.5 692.1 L1117.5 690.0 L1117.0 692.0 L1116.8 695.1 L1116.5 698.2 L1116.2 701.3 L1116.0 704.4 L1115.8 707.5 L1115.5 710.5 L1115.2 713.6 L1115.0 716.7 L1114.8 719.8 L1114.5 722.9 L1114.2 726.0 L1114.0 729.1 L1113.8 732.2 L1113.5 735.3 L1113.2 738.4 L1113.0 741.5 L1112.8 744.5 L1112.5 747.6 L1112.2 750.7 L1112.0 753.8 L1111.8 756.9 L1111.5 760.0 L1111.3 763.0 L1111.2 766.1 L1111.0 769.1 L1110.9 772.1 L1110.7 775.2 L1110.6 778.2 L1110.4 781.2 L1110.3 784.2 L1110.1 787.3 L1110.0 790.3 L1109.8 793.3 L1109.7 796.4 L1109.5 799.4 L1109.4 802.4 L1109.2 805.5 L1109.1 808.5 L1108.9 811.5 L1108.8 814.5 L1108.6 817.6 L1108.5 820.6 L1108.3 823.6 L1108.2 826.7 L1108.0 829.7 L1107.9 832.7 L1107.7 835.8 L1107.6 838.8 L1107.4 841.8 L1107.3 844.8 L1107.1 847.9 L1107.0 850.9 L1106.8 853.9 L1106.7 857.0 L1106.5 860.0 L1106.2 863.0 L1105.8 866.0 L1105.5 869.0 L1105.1 872.0 L1104.8 875.0 L1104.4 878.0 L1104.1 881.0 L1103.7 884.0 L1103.4 887.0 L1103.0 890.0 L1102.7 893.0 L1102.3 896.0 L1102.0 899.0 L1101.6 902.0 L1101.3 905.0 L1101.1 908.0 L1101.0 911.1 L1100.8 914.1 L1100.7 917.2 L1100.5 920.2 L1100.4 923.3 L1100.2 926.3 L1100.1 929.4 L1099.9 932.4 L1099.8 935.5 L1099.6 938.5 L1099.4 941.5 L1099.3 944.6 L1099.1 947.6 L1099.0 950.7 L1098.8 953.7 L1098.7 956.8 L1098.5 959.8 L1098.4 962.9 L1098.2 965.9 L1098.1 969.0 L1097.9 972.0 L1097.8 975.1 L1097.7 978.1 L1097.6 981.2 L1097.5 984.3 L1097.4 987.4 L1097.2 990.4 L1097.1 993.5 L1097.0 996.6 L1096.9 999.7 L1096.8 1002.7 L1096.7 1005.8 L1096.6 1008.9 L1096.5 1011.9 L1096.4 1015.0 L1096.3 1018.1 L1096.2 1021.2 L1096.0 1024.2 L1095.9 1027.3 L1095.8 1030.4 L1095.7 1033.5 L1095.6 1036.5 L1095.5 1039.6 L1095.0 1042.6 L1094.5 1045.6 L1094.0 1048.5 L1093.5 1051.5 L1093.0 1054.5 L1092.5 1057.5 L1092.0 1054.3 L1091.5 1051.1 L1091.0 1047.9 L1090.6 1044.6 L1090.1 1041.4 L1089.6 1038.2 L1089.1 1035.0 L1088.7 1032.0 L1088.3 1028.9 L1087.9 1025.9 L1087.5 1022.9 L1087.1 1019.9 L1086.7 1016.8 L1086.3 1013.8 L1085.9 1010.8 L1085.6 1007.7 L1085.2 1004.7 L1084.8 1001.7 L1084.4 998.6 L1084.0 995.6 L1083.6 992.6 L1083.2 989.6 L1082.8 986.5 L1082.4 983.5 L1081.8 980.5 L1081.2 977.6 L1080.6 974.6 L1080.0 971.6 L1079.4 968.6 L1078.8 965.7 L1078.2 962.7 L1077.6 959.7 L1077.0 956.7 L1076.5 953.8 L1075.9 950.8 L1075.3 947.8 L1074.7 944.8 L1074.1 941.9 L1073.5 938.9 L1072.9 935.9 L1072.3 932.9 L1071.7 930.0 L1071.1 927.0 L1070.6 924.0 L1070.1 920.9 L1069.6 917.9 L1069.1 914.8 L1068.6 911.8 L1068.0 908.7 L1067.5 905.7 L1067.0 902.6 L1066.5 899.6 L1066.0 896.5 L1065.5 893.5 L1065.0 890.5 L1064.5 887.4 L1064.0 884.4 L1063.5 881.3 L1063.0 878.3 L1062.4 875.2 L1061.9 872.2 L1061.4 869.1 L1060.9 866.1 L1060.4 863.0 L1059.9 860.0 L1059.6 857.0 L1059.3 853.9 L1059.1 850.9 L1058.8 847.8 L1058.5 844.8 L1058.2 841.7 L1058.0 838.7 L1057.7 835.7 L1057.4 832.6 L1057.1 829.6 L1056.8 826.5 L1056.6 823.5 L1056.3 820.4 L1056.0 817.4 L1055.7 814.3 L1055.4 811.3 L1055.2 808.3 L1054.9 805.2 L1054.6 802.2 L1054.3 799.1 L1054.1 796.1 L1053.8 793.0 L1053.5 790.0 L1053.3 787.0 L1053.0 784.0 L1052.8 781.0 L1052.6 778.0 L1052.3 775.0 L1052.1 772.0 L1051.9 769.0 L1051.6 766.0 L1051.4 763.0 L1051.2 760.0 L1050.9 757.0 L1050.7 754.0 L1050.5 751.0 L1050.2 748.0 L1050.0 745.0 L1049.8 742.0 L1049.5 739.0 L1049.3 736.0 L1049.1 733.0 L1048.8 730.0 L1048.6 727.0 L1048.4 724.0 L1048.1 721.0 L1047.9 718.0 L1047.7 715.0 L1047.4 712.0 L1047.2 709.0 L1047.0 706.0 L1046.7 703.0 L1046.5 700.0 L1046.3 697.0 L1046.0 694.0 L1045.8 691.0 L1045.5 688.0 L1045.3 685.0 L1045.0 682.0 L1044.8 679.0 L1044.5 676.0 L1044.3 673.0 L1044.0 670.0 L1043.8 667.0 L1043.5 664.0 L1043.3 661.0 L1043.0 658.0 L1042.8 655.0 L1042.5 652.0 L1042.3 649.0 L1042.0 646.0 L1041.8 643.0 L1041.5 640.0 L1041.3 637.0 L1041.0 634.0 L1040.8 631.0 L1040.5 628.0 L1040.3 625.0 L1040.0 622.0 L1039.8 619.0 L1039.5 616.0 L1039.3 613.0 L1039.0 610.0 L1038.8 607.0 L1038.5 604.0 L1038.3 601.0 L1038.0 598.0 L1037.8 595.0Z" fill="#008000" fill-opacity="0.050" stroke="#008000" stroke-opacity="0.050" stroke-width="2.6" stroke-linejoin="round"/>
<path d="M1039.3 592.0 L1040.4 595.1 L1041.4 598.2 L1042.5 601.4 L1043.6 604.5 L1044.6 607.6 L1045.7 610.7 L1046.6 613.7 L1047.4 616.8 L1048.3 619.8 L1049.1 622.8 L1050.0 625.8 L1050.8 628.9 L1051.7 631.9 L1052.6 634.9 L1053.4 637.9 L1054.3 641.0 L1055.1 644.0 L1056.0 647.0 L1056.8 650.1 L1057.5 653.2 L1058.3 656.2 L1059.1 659.3 L1059.8 662.4 L1060.6 665.5 L1061.4 668.5 L1062.2 671.6 L1062.9 674.7 L1063.7 677.8 L1064.5 680.8 L1065.2 683.9 L1066.0 687.0 L1066.8 689.9 L1067.7 692.8 L1068.5 695.8 L1069.3 698.7 L1070.2 701.6 L1071.0 704.5 L1071.8 707.4 L1072.7 710.3 L1073.5 713.2 L1074.3 716.2 L1075.2 719.1 L1076.0 722.0 L1076.8 725.0 L1077.6 728.0 L1078.4 731.0 L1079.2 734.0 L1080.0 737.0 L1080.8 740.0 L1081.6 743.0 L1082.4 746.0 L1083.2 749.0 L1084.0 752.0 L1084.4 755.2 L1084.8 758.4 L1085.2 761.5 L1085.6 764.7 L1086.0 767.9 L1086.5 771.1 L1086.9 774.3 L1087.3 777.5 L1087.7 780.6 L1088.1 783.8 L1088.5 787.0 L1088.4 784.0 L1088.4 781.0 L1088.3 778.0 L1088.3 775.0 L1088.2 772.0 L1088.2 769.0 L1088.1 766.0 L1088.1 763.0 L1088.0 760.0 L1088.2 756.9 L1088.3 753.8 L1088.5 750.8 L1088.6 747.7 L1088.8 744.6 L1088.9 741.5 L1089.1 738.5 L1089.2 735.4 L1089.4 732.3 L1089.5 729.2 L1089.7 726.2 L1089.8 723.1 L1090.0 720.0 L1090.2 716.9 L1090.3 713.8 L1090.5 710.8 L1090.6 707.7 L1090.8 704.6 L1090.9 701.5 L1091.1 698.5 L1091.2 695.4 L1091.4 692.3 L1091.5 689.2 L1091.7 686.2 L1091.8 683.1 L1092.0 680.0 L1092.1 677.0 L1092.2 674.0 L1092.3 671.0 L1092.4 668.0 L1092.5 665.0 L1092.6 662.0 L1092.7 659.0 L1092.8 656.0 L1092.9 653.0 L1093.0 650.0 L1093.1 647.0 L1093.2 644.0 L1093.3 641.0 L1093.4 638.0 L1093.5 635.0 L1093.6 632.0 L1093.7 629.0 L1093.8 626.0 L1093.9 623.0 L1094.0 620.0 L1094.1 616.9 L1094.2 613.8 L1094.3 610.8 L1094.5 607.7 L1094.6 604.6 L1094.7 601.5 L1094.8 598.5 L1094.9 595.4 L1095.0 592.3 L1095.2 589.2 L1095.3 586.2 L1095.4 583.1 L1095.5 580.0 L1095.6 576.9 L1095.7 573.8 L1095.8 570.8 L1096.0 567.7 L1096.1 564.6 L1096.2 561.5 L1096.3 558.5 L1096.4 555.4 L1096.5 552.3 L1096.7 549.2 L1096.8 546.2 L1096.9 543.1 L1097.0 540.0 L1097.2 537.0 L1097.3 534.0 L1097.5 531.0 L1097.6 528.0 L1097.8 525.0 L1097.9 522.0 L1098.0 519.0 L1098.2 516.0 L1098.3 513.0 L1098.5 510.0 L1098.7 507.0 L1098.8 504.0 L1099.0 501.0 L1099.1 498.0 L1099.2 495.0 L1099.4 492.0 L1099.5 489.0 L1099.7 486.0 L1099.8 483.0 L1100.0 480.0 L1100.2 476.9 L1100.5 473.8 L1100.7 470.8 L1100.9 467.7 L1101.2 464.6 L1101.4 461.5 L1101.6 458.5 L1101.8 455.4 L1102.1 452.3 L1102.3 449.2 L1102.5 446.2 L1102.8 443.1 L1103.0 440.0 L1103.3 437.0 L1103.5 433.9 L1103.8 430.9 L1104.1 427.9 L1104.3 424.8 L1104.6 421.8 L1104.8 418.8 L1105.1 415.7 L1105.4 412.7 L1105.6 409.7 L1105.9 406.7 L1106.2 402.4 L1106.4 399.1 L1106.7 396.2 L1106.9 395.1 L1107.2 391.7 L1107.5 389.3 L1107.7 384.6 L1108.0 382.0 L1108.5 380.2 L1108.9 376.7 L1109.4 374.7 L1109.8 372.0 L1110.3 367.6 L1110.7 362.7 L1111.2 361.0 L1111.6 356.7 L1112.1 352.7 L1112.5 351.3 L1113.0 349.4 L1113.9 346.9 L1114.7 344.4 L1115.6 339.4 L1116.5 335.0 L1117.3 331.4 L1118.2 330.6 L1119.0 332.5 L1119.9 335.2 L1120.8 337.9 L1121.6 341.0 L1124.4 338.0 L1127.2 336.1 L1130.0 333.1 L1132.1 330.5 L1134.2 329.5 L1136.4 325.3 L1138.5 323.6 L1139.5 327.1 L1140.5 329.8 L1141.6 332.8 L1142.6 336.3 L1143.6 339.1 L1144.7 340.7 L1145.9 343.3 L1147.0 345.7 L1151.2 346.8 L1155.4 349.5 L1158.8 352.3 L1160.9 354.2 L1162.9 358.0 L1165.0 362.6 L1166.8 365.1 L1168.7 368.7 L1170.6 370.1 L1172.4 372.2 L1174.3 376.6 L1176.2 378.4 L1178.1 381.6 L1180.0 385.0 L1181.9 387.2 L1183.7 389.2 L1185.6 391.4 L1187.4 396.7 L1189.3 399.9 L1191.4 403.5 L1193.5 405.2 L1195.7 408.7 L1197.8 411.5 L1199.8 413.7 L1201.9 416.0 L1204.0 418.5 L1206.0 420.4 L1208.2 423.3 L1210.3 427.3 L1212.5 429.2 L1214.7 433.7 L1217.2 435.3 L1219.8 437.3 L1222.3 439.9 L1224.8 441.6 L1227.3 441.9 L1229.9 443.4 L1232.4 444.3 L1234.9 445.8 L1237.5 450.2 L1240.0 452.3 L1242.8 455.6 L1245.7 457.6 L1248.5 458.2 L1251.3 461.5 L1254.2 464.0 L1257.0 464.8 L1259.8 464.8 L1262.7 466.3 L1265.5 467.5 L1268.3 469.5 L1271.2 470.5 L1274.0 473.7 L1276.8 477.0 L1279.6 477.2 L1282.5 479.8 L1285.3 481.4 L1288.1 482.8 L1290.9 485.6 L1293.9 485.1 L1297.0 486.5 L1300.0 485.1 L1303.1 488.0 L1306.2 487.6 L1309.2 487.4 L1312.3 490.5 L1315.4 492.1 L1318.5 493.3 L1321.6 494.7 L1324.7 494.7 L1327.7 494.5 L1330.8 495.6 L1333.9 498.5 L1337.0 500.6 L1340.0 500.0 L1343.1 500.8 L1346.2 501.8 L1349.3 504.2 L1352.3 503.3 L1355.4 505.8 L1358.5 505.9 L1361.6 507.3 L1364.6 507.4 L1367.7 507.8 L1370.8 509.8 L1373.9 509.7 L1376.9 511.1 L1380.0 511.4 L1383.1 511.3 L1386.2 509.2 L1389.3 509.6 L1392.4 511.1 L1395.4 510.4 L1398.5 508.7 L1401.6 508.2 L1404.7 511.4 L1407.7 513.6 L1410.8 513.0 L1413.9 513.4 L1417.0 515.4 L1420.0 516.3 L1423.1 516.3 L1426.2 519.2 L1429.3 520.1 L1432.3 520.4 L1435.4 520.0 L1438.5 520.8 L1441.6 522.0 L1444.6 520.9 L1447.7 520.1 L1450.8 521.7 L1453.9 523.1 L1457.0 522.2 L1460.1 522.1 L1463.1 522.6 L1466.2 522.5 L1469.3 521.3 L1472.4 521.3 L1475.4 521.1 L1478.5 521.1 L1481.6 520.9 L1484.6 521.7 L1487.7 521.7 L1490.7 523.7 L1493.8 523.1 L1496.9 524.9 L1499.9 525.4 L1503.0 524.1 L1506.1 523.7 L1509.2 525.1 L1512.3 525.9 L1515.4 526.8 L1518.5 526.3 L1521.5 527.7 L1524.6 529.4 L1527.7 529.6 L1530.8 529.5 L1533.9 531.8 L1537.0 531.5 L1540.1 533.6 L1543.3 534.1 L1546.4 532.6 L1549.6 533.5 L1552.7 533.4 L1555.9 535.6 L1559.0 535.9 L1562.1 534.8 L1565.2 536.9 L1568.3 537.5 L1571.4 537.3 L1574.5 537.1 L1577.6 535.6 L1580.7 537.6 L1583.8 536.6 L1586.9 536.8 L1589.9 536.9 L1593.0 536.9 L1596.1 535.6 L1599.2 537.6 L1602.3 537.4 L1605.4 537.1 L1608.5 538.4 L1611.6 539.1 L1614.7 539.1 L1617.8 539.6 L1620.9 538.6 L1624.1 537.6 L1627.2 538.1 L1630.3 539.2 L1633.5 540.6 L1636.6 541.3 L1639.8 541.6 L1642.9 541.9 L1646.0 542.4 L1649.2 542.6 L1652.3 541.3 L1655.5 542.4 L1658.6 542.3 L1661.7 541.9 L1664.9 543.5 L1668.0 545.3 L1671.2 544.4 L1674.3 545.3 L1677.5 545.7 L1680.7 546.2 L1683.9 547.1 L1687.0 547.1 L1690.2 545.4 L1693.4 546.2 L1696.6 545.9 L1699.8 546.1 L1702.9 547.1 L1706.1 546.1 L1709.3 547.1 L1712.5 548.7 L1715.6 547.0 L1718.8 548.5 L1721.9 549.1 L1724.9 548.6 L1728.0 549.6 L1731.1 548.2 L1734.1 547.9 L1737.2 550.4 L1740.2 550.7 L1743.3 549.7 L1746.4 549.2 L1749.4 550.0 L1752.5 550.9 L1756.7 552.8 L1755.7 602.1 L1752.6 603.2 L1749.4 603.4 L1746.3 604.0 L1743.1 605.5 L1740.0 604.0 L1736.8 605.5 L1733.7 606.1 L1730.6 605.2 L1727.4 604.4 L1724.3 606.0 L1721.1 607.3 L1718.0 606.6 L1714.7 605.8 L1711.3 606.7 L1708.0 607.7 L1704.7 607.4 L1701.3 607.6 L1698.0 606.9 L1695.0 606.8 L1691.9 607.2 L1688.9 609.1 L1685.8 608.4 L1682.8 608.4 L1679.7 609.3 L1676.7 609.2 L1673.6 609.4 L1670.6 611.1 L1667.5 610.6 L1664.5 611.5 L1661.4 610.7 L1658.4 611.7 L1655.1 612.7 L1651.8 612.5 L1648.5 611.6 L1645.1 610.7 L1641.8 611.1 L1638.5 611.6 L1635.2 611.8 L1631.9 613.3 L1628.5 614.8 L1625.2 614.6 L1621.9 616.7 L1618.6 619.1 L1615.3 618.4 L1612.0 617.0 L1608.7 617.2 L1605.4 617.3 L1602.1 617.0 L1598.8 616.6 L1595.5 616.7 L1592.2 617.5 L1588.9 617.6 L1585.6 616.7 L1582.3 615.9 L1579.0 616.8 L1575.9 618.2 L1572.8 617.8 L1569.8 618.2 L1566.7 617.9 L1563.6 617.8 L1560.5 618.7 L1557.5 621.2 L1554.4 620.4 L1551.3 620.5 L1548.2 621.6 L1545.2 624.1 L1542.1 623.4 L1539.0 622.8 L1536.0 622.4 L1532.9 623.2 L1529.9 622.7 L1526.8 624.5 L1523.8 623.7 L1520.8 623.8 L1517.7 623.6 L1514.7 624.2 L1511.7 624.0 L1508.6 624.2 L1505.6 624.5 L1502.5 624.9 L1499.5 626.4 L1496.2 626.9 L1492.9 627.0 L1489.5 626.8 L1486.2 629.6 L1482.9 631.3 L1479.6 632.7 L1476.3 632.2 L1473.0 630.9 L1469.7 629.9 L1466.3 628.9 L1463.0 629.0 L1459.7 628.8 L1456.7 630.9 L1453.8 630.0 L1450.8 631.3 L1447.8 632.2 L1444.8 632.7 L1441.9 633.1 L1438.9 631.8 L1435.9 631.7 L1433.0 633.0 L1430.0 634.2 L1427.0 635.6 L1424.0 635.9 L1421.0 634.3 L1418.0 633.3 L1415.0 634.7 L1412.0 633.1 L1409.0 635.1 L1406.0 633.6 L1402.7 634.9 L1399.3 636.6 L1396.0 635.4 L1392.7 635.1 L1389.3 636.9 L1386.0 638.3 L1382.8 636.8 L1379.5 637.6 L1376.3 639.1 L1373.0 639.8 L1369.7 639.2 L1366.4 637.8 L1363.1 639.0 L1359.8 639.5 L1356.5 639.4 L1353.2 640.2 L1349.9 640.7 L1346.7 640.8 L1343.4 641.2 L1340.1 641.6 L1336.8 642.6 L1332.8 644.0 L1330.2 643.3 L1327.5 646.0 L1324.9 646.5 L1322.3 647.9 L1319.6 648.8 L1317.0 650.2 L1314.0 650.7 L1311.0 651.2 L1307.6 649.7 L1304.2 649.3 L1300.7 649.2 L1297.3 648.7 L1294.0 651.3 L1290.7 652.2 L1287.4 655.3 L1284.1 657.3 L1280.8 658.1 L1277.5 658.3 L1274.2 660.5 L1270.9 661.3 L1267.6 661.9 L1264.3 662.6 L1261.1 661.8 L1257.8 661.4 L1254.5 664.0 L1251.3 665.1 L1248.0 665.3 L1245.5 667.4 L1243.0 671.2 L1240.5 674.2 L1238.0 677.6 L1234.0 673.8 L1230.8 671.1 L1227.6 670.3 L1224.4 669.8 L1221.2 668.9 L1218.0 667.8 L1214.9 667.0 L1211.8 667.5 L1208.7 668.2 L1205.6 671.1 L1202.5 672.8 L1199.2 674.4 L1195.9 675.1 L1192.6 676.9 L1188.6 674.6 L1185.4 673.1 L1182.3 675.0 L1179.1 675.4 L1176.0 676.2 L1172.8 676.7 L1169.0 671.7 L1165.7 670.0 L1162.3 669.0 L1159.0 668.5 L1155.7 666.8 L1152.3 663.9 L1149.0 661.5 L1147.0 664.2 L1144.1 666.3 L1141.2 665.8 L1138.2 668.8 L1135.3 670.2 L1133.7 672.4 L1132.0 675.0 L1130.3 677.2 L1128.7 679.8 L1127.1 682.4 L1125.4 685.0 L1123.5 683.7 L1120.5 684.6 L1117.5 685.5 L1116.5 688.8 L1115.5 692.0 L1115.2 695.1 L1115.0 698.2 L1114.8 701.3 L1114.5 704.4 L1114.2 707.5 L1114.0 710.5 L1113.8 713.6 L1113.5 716.7 L1113.2 719.8 L1113.0 722.9 L1112.8 726.0 L1112.5 729.1 L1112.2 732.2 L1112.0 735.3 L1111.8 738.4 L1111.5 741.5 L1111.2 744.5 L1111.0 747.6 L1110.8 750.7 L1110.5 753.8 L1110.2 756.9 L1110.0 760.0 L1109.8 763.0 L1109.7 766.1 L1109.5 769.1 L1109.4 772.1 L1109.2 775.2 L1109.1 778.2 L1108.9 781.2 L1108.8 784.2 L1108.6 787.3 L1108.5 790.3 L1108.3 793.3 L1108.2 796.4 L1108.0 799.4 L1107.9 802.4 L1107.7 805.5 L1107.6 808.5 L1107.4 811.5 L1107.3 814.5 L1107.1 817.6 L1107.0 820.6 L1106.8 823.6 L1106.7 826.7 L1106.5 829.7 L1106.4 832.7 L1106.2 835.8 L1106.1 838.8 L1105.9 841.8 L1105.8 844.8 L1105.6 847.9 L1105.5 850.9 L1105.3 853.9 L1105.2 857.0 L1105.0 860.0 L1104.7 863.0 L1104.3 866.0 L1104.0 869.0 L1103.6 872.0 L1103.3 875.0 L1102.9 878.0 L1102.6 881.0 L1102.2 884.0 L1101.9 887.0 L1101.5 890.0 L1101.2 893.0 L1100.8 896.0 L1100.5 899.0 L1100.1 902.0 L1099.8 905.0 L1099.6 908.0 L1099.5 911.1 L1099.3 914.1 L1099.2 917.2 L1099.0 920.2 L1098.9 923.3 L1098.7 926.3 L1098.6 929.4 L1098.4 932.4 L1098.3 935.5 L1098.1 938.5 L1097.9 941.5 L1097.8 944.6 L1097.6 947.6 L1097.5 950.7 L1097.3 953.7 L1097.2 956.8 L1097.0 959.8 L1096.9 962.9 L1096.7 965.9 L1096.6 969.0 L1096.4 972.0 L1096.3 975.1 L1096.2 978.1 L1096.1 981.2 L1096.0 984.3 L1095.9 987.4 L1095.7 990.4 L1095.6 993.5 L1095.5 996.6 L1095.4 999.7 L1095.3 1002.7 L1095.2 1005.8 L1095.1 1008.9 L1095.0 1011.9 L1094.9 1015.0 L1094.8 1018.1 L1094.7 1021.2 L1094.5 1024.2 L1094.4 1027.3 L1094.3 1030.4 L1094.2 1033.5 L1094.1 1036.5 L1094.0 1039.6 L1094.0 1043.2 L1094.0 1046.8 L1094.0 1050.3 L1094.0 1053.9 L1094.0 1057.5 L1093.5 1054.3 L1093.0 1051.1 L1092.5 1047.9 L1092.1 1044.6 L1091.6 1041.4 L1091.1 1038.2 L1090.6 1035.0 L1090.2 1032.0 L1089.8 1028.9 L1089.4 1025.9 L1089.0 1022.9 L1088.6 1019.9 L1088.2 1016.8 L1087.8 1013.8 L1087.4 1010.8 L1087.1 1007.7 L1086.7 1004.7 L1086.3 1001.7 L1085.9 998.6 L1085.5 995.6 L1085.1 992.6 L1084.7 989.6 L1084.3 986.5 L1083.9 983.5 L1083.3 980.5 L1082.7 977.6 L1082.1 974.6 L1081.5 971.6 L1080.9 968.6 L1080.3 965.7 L1079.7 962.7 L1079.1 959.7 L1078.5 956.7 L1078.0 953.8 L1077.4 950.8 L1076.8 947.8 L1076.2 944.8 L1075.6 941.9 L1075.0 938.9 L1074.4 935.9 L1073.8 932.9 L1073.2 930.0 L1072.6 927.0 L1072.1 924.0 L1071.6 920.9 L1071.1 917.9 L1070.6 914.8 L1070.1 911.8 L1069.5 908.7 L1069.0 905.7 L1068.5 902.6 L1068.0 899.6 L1067.5 896.5 L1067.0 893.5 L1066.5 890.5 L1066.0 887.4 L1065.5 884.4 L1065.0 881.3 L1064.5 878.3 L1063.9 875.2 L1063.4 872.2 L1062.9 869.1 L1062.4 866.1 L1061.9 863.0 L1061.4 860.0 L1061.1 857.0 L1060.8 853.9 L1060.6 850.9 L1060.3 847.8 L1060.0 844.8 L1059.7 841.7 L1059.5 838.7 L1059.2 835.7 L1058.9 832.6 L1058.6 829.6 L1058.3 826.5 L1058.1 823.5 L1057.8 820.4 L1057.5 817.4 L1057.2 814.3 L1056.9 811.3 L1056.7 808.3 L1056.4 805.2 L1056.1 802.2 L1055.8 799.1 L1055.6 796.1 L1055.3 793.0 L1055.0 790.0 L1054.8 787.0 L1054.5 784.0 L1054.3 781.0 L1054.1 778.0 L1053.8 775.0 L1053.6 772.0 L1053.4 769.0 L1053.1 766.0 L1052.9 763.0 L1052.7 760.0 L1052.4 757.0 L1052.2 754.0 L1052.0 751.0 L1051.7 748.0 L1051.5 745.0 L1051.3 742.0 L1051.0 739.0 L1050.8 736.0 L1050.6 733.0 L1050.3 730.0 L1050.1 727.0 L1049.9 724.0 L1049.6 721.0 L1049.4 718.0 L1049.2 715.0 L1048.9 712.0 L1048.7 709.0 L1048.5 706.0 L1048.2 703.0 L1048.0 700.0 L1047.8 697.0 L1047.5 694.0 L1047.3 691.0 L1047.0 688.0 L1046.8 685.0 L1046.5 682.0 L1046.3 679.0 L1046.0 676.0 L1045.8 673.0 L1045.5 670.0 L1045.3 667.0 L1045.0 664.0 L1044.8 661.0 L1044.5 658.0 L1044.3 655.0 L1044.0 652.0 L1043.8 649.0 L1043.5 646.0 L1043.3 643.0 L1043.0 640.0 L1042.8 637.0 L1042.5 634.0 L1042.3 631.0 L1042.0 628.0 L1041.8 625.0 L1041.5 622.0 L1041.3 619.0 L1041.0 616.0 L1040.8 613.0 L1040.5 610.0 L1040.3 607.0 L1040.0 604.0 L1039.8 601.0 L1039.5 598.0 L1039.3 595.0Z" fill="#0000ff" fill-opacity="0.050" stroke="#0000ff" stroke-opacity="0.050" stroke-width="2.6" stroke-linejoin="round"/>
<path d="M1040.3 589.0 L1041.4 592.1 L1042.4 595.2 L1043.5 598.4 L1044.6 601.5 L1045.6 604.6 L1046.7 607.7 L1047.6 610.7 L1048.4 613.8 L1049.3 616.8 L1050.1 619.8 L1051.0 622.8 L1051.8 625.9 L1052.7 628.9 L1053.6 631.9 L1054.4 634.9 L1055.3 638.0 L1056.1 641.0 L1057.0 644.0 L1057.8 647.1 L1058.5 650.2 L1059.3 653.2 L1060.1 656.3 L1060.8 659.4 L1061.6 662.5 L1062.4 665.5 L1063.2 668.6 L1063.9 671.7 L1064.7 674.8 L1065.5 677.8 L1066.2 680.9 L1067.0 684.0 L1067.8 686.9 L1068.7 689.8 L1069.5 692.8 L1070.3 695.7 L1071.2 698.6 L1072.0 701.5 L1072.8 704.4 L1073.7 707.3 L1074.5 710.2 L1075.3 713.2 L1076.2 716.1 L1077.0 719.0 L1077.8 722.0 L1078.6 725.0 L1079.4 728.0 L1080.2 731.0 L1081.0 734.0 L1081.8 737.0 L1082.6 740.0 L1083.4 743.0 L1084.2 746.0 L1085.0 749.0 L1085.4 752.2 L1085.8 755.4 L1086.2 758.5 L1086.6 761.7 L1087.0 764.9 L1087.5 768.1 L1087.9 771.3 L1088.3 774.5 L1088.7 777.6 L1089.1 780.8 L1089.5 784.0 L1089.4 781.0 L1089.4 778.0 L1089.3 775.0 L1089.2 772.0 L1089.2 769.0 L1089.1 766.0 L1089.1 763.0 L1089.0 760.0 L1089.2 756.9 L1089.4 753.8 L1089.6 750.8 L1089.8 747.7 L1090.0 744.6 L1090.2 741.5 L1090.3 738.5 L1090.5 735.4 L1090.7 732.3 L1090.9 729.2 L1091.1 726.2 L1091.3 723.1 L1091.5 720.0 L1091.7 716.9 L1091.8 713.8 L1092.0 710.8 L1092.1 707.7 L1092.3 704.6 L1092.4 701.5 L1092.6 698.5 L1092.7 695.4 L1092.9 692.3 L1093.0 689.2 L1093.2 686.2 L1093.3 683.1 L1093.5 680.0 L1093.7 676.9 L1093.8 673.8 L1094.0 670.8 L1094.1 667.7 L1094.3 664.6 L1094.4 661.5 L1094.6 658.5 L1094.7 655.4 L1094.9 652.3 L1095.0 649.2 L1095.2 646.2 L1095.3 643.1 L1095.5 640.0 L1095.6 636.9 L1095.7 633.8 L1095.8 630.8 L1096.0 627.7 L1096.1 624.6 L1096.2 621.5 L1096.3 618.5 L1096.4 615.4 L1096.5 612.3 L1096.7 609.2 L1096.8 606.2 L1096.9 603.1 L1097.0 600.0 L1097.1 596.9 L1097.2 593.8 L1097.3 590.8 L1097.5 587.7 L1097.6 584.6 L1097.7 581.5 L1097.8 578.5 L1097.9 575.4 L1098.0 572.3 L1098.2 569.2 L1098.3 566.2 L1098.4 563.1 L1098.5 560.0 L1098.6 556.9 L1098.7 553.8 L1098.8 550.8 L1099.0 547.7 L1099.1 544.6 L1099.2 541.5 L1099.3 538.5 L1099.4 535.4 L1099.5 532.3 L1099.7 529.2 L1099.8 526.2 L1099.9 523.1 L1100.0 520.0 L1100.1 516.9 L1100.2 513.8 L1100.3 510.8 L1100.5 507.7 L1100.6 504.6 L1100.7 501.5 L1100.8 498.5 L1100.9 495.4 L1101.0 492.3 L1101.2 489.2 L1101.3 486.2 L1101.4 483.1 L1101.5 480.0 L1101.7 476.9 L1101.8 473.8 L1102.0 470.6 L1102.1 467.5 L1102.3 464.4 L1102.4 461.2 L1102.6 458.1 L1102.8 455.0 L1102.9 451.9 L1103.1 448.8 L1103.2 445.6 L1103.4 442.5 L1103.5 439.4 L1103.7 436.2 L1103.8 433.1 L1104.0 430.0 L1104.2 426.9 L1104.4 423.9 L1104.6 420.8 L1104.8 417.8 L1105.1 414.7 L1105.3 411.7 L1105.5 408.6 L1105.7 405.6 L1105.9 402.5 L1106.1 399.7 L1106.3 396.9 L1106.5 394.6 L1106.7 390.2 L1106.9 387.7 L1107.2 385.6 L1107.4 383.1 L1107.6 378.1 L1107.8 375.5 L1108.0 372.6 L1108.3 369.2 L1108.6 367.4 L1108.9 363.7 L1109.2 360.0 L1109.5 358.2 L1109.8 354.8 L1110.1 350.6 L1110.4 346.9 L1110.6 344.2 L1110.9 339.9 L1111.2 337.9 L1111.5 335.8 L1111.8 332.3 L1112.1 330.2 L1112.4 327.9 L1112.7 324.1 L1113.0 321.1 L1113.5 316.2 L1114.1 312.1 L1114.6 311.2 L1115.1 307.0 L1115.7 303.2 L1116.2 301.8 L1116.7 299.0 L1117.2 294.2 L1117.8 290.8 L1118.3 287.3 L1118.8 284.0 L1119.4 280.0 L1119.9 278.0 L1122.8 274.6 L1125.8 271.4 L1126.8 274.3 L1127.9 277.2 L1129.0 280.2 L1130.0 285.9 L1132.0 284.3 L1134.0 281.8 L1136.0 278.1 L1137.0 280.6 L1138.0 283.4 L1139.0 286.9 L1139.9 289.4 L1140.9 292.9 L1141.9 296.0 L1144.7 297.6 L1147.6 300.7 L1150.4 302.5 L1151.4 299.5 L1152.4 296.2 L1153.4 293.5 L1154.4 291.4 L1155.4 287.4 L1156.7 289.6 L1158.0 293.6 L1159.2 296.9 L1160.5 301.5 L1160.8 303.2 L1161.1 307.8 L1161.4 309.1 L1161.7 312.9 L1162.0 316.1 L1162.4 318.8 L1162.7 323.4 L1163.0 326.7 L1163.3 328.3 L1163.6 331.6 L1163.9 335.2 L1165.3 336.5 L1166.7 338.7 L1168.2 342.8 L1169.6 346.6 L1171.0 349.2 L1172.4 351.7 L1173.3 354.8 L1174.3 357.2 L1175.2 361.7 L1176.1 365.7 L1177.1 367.8 L1178.0 368.9 L1178.9 372.2 L1179.9 376.5 L1180.8 378.7 L1183.8 379.8 L1186.8 381.6 L1189.7 385.1 L1192.7 387.7 L1193.2 390.0 L1193.8 393.7 L1194.3 397.5 L1194.9 401.6 L1195.5 404.8 L1196.0 406.8 L1198.5 409.4 L1201.1 412.2 L1203.7 414.4 L1206.2 416.3 L1209.0 417.9 L1211.9 419.6 L1214.7 422.7 L1217.7 420.2 L1220.6 418.2 L1223.5 414.7 L1226.5 411.5 L1229.9 412.7 L1233.2 414.9 L1236.6 416.6 L1240.0 417.0 L1244.2 415.7 L1248.5 416.9 L1250.6 418.2 L1252.8 422.9 L1254.9 426.3 L1257.0 428.8 L1260.0 429.1 L1263.0 427.8 L1265.9 424.8 L1268.9 425.6 L1270.9 427.3 L1272.9 430.8 L1275.0 433.4 L1277.0 433.9 L1279.0 435.0 L1281.4 436.4 L1283.8 440.4 L1286.1 443.5 L1288.5 444.5 L1290.9 445.6 L1292.4 448.7 L1293.9 453.0 L1295.5 456.4 L1297.0 459.9 L1298.5 463.3 L1300.0 465.9 L1302.0 468.6 L1304.0 468.9 L1306.0 470.3 L1308.0 474.9 L1310.0 477.9 L1313.0 478.4 L1316.0 478.7 L1319.0 480.1 L1322.0 481.5 L1324.9 483.2 L1327.9 484.6 L1330.9 485.2 L1333.9 485.8 L1337.2 485.6 L1340.4 485.2 L1343.7 484.8 L1347.0 485.4 L1350.2 484.8 L1353.5 486.4 L1356.7 486.3 L1360.0 485.9 L1363.1 486.8 L1366.2 486.2 L1369.2 485.5 L1372.3 485.5 L1375.4 486.5 L1378.4 487.3 L1381.5 487.5 L1384.6 488.1 L1387.4 491.4 L1390.3 491.4 L1393.1 493.6 L1395.9 495.3 L1398.8 496.7 L1401.6 499.6 L1404.7 498.8 L1407.7 497.9 L1410.8 497.9 L1413.9 500.5 L1417.0 499.9 L1420.0 499.0 L1423.1 501.2 L1426.2 501.4 L1429.3 502.5 L1432.3 501.2 L1435.4 502.1 L1438.5 500.3 L1441.6 500.1 L1444.6 501.8 L1447.7 501.8 L1450.8 502.8 L1453.9 502.1 L1457.0 503.3 L1460.1 501.6 L1463.1 502.5 L1466.2 501.7 L1469.3 501.4 L1472.4 503.6 L1475.4 503.4 L1478.5 504.6 L1481.6 503.8 L1484.7 504.9 L1487.7 506.1 L1490.8 506.0 L1493.9 504.9 L1496.9 505.8 L1500.0 507.2 L1503.4 508.4 L1506.7 508.4 L1510.1 508.8 L1513.4 508.6 L1516.8 511.0 L1519.6 511.3 L1522.4 512.3 L1525.2 512.9 L1528.1 514.4 L1530.9 516.4 L1533.7 518.4 L1536.8 518.2 L1540.0 518.9 L1543.1 520.5 L1546.3 519.4 L1549.4 519.2 L1552.6 520.4 L1555.7 522.3 L1558.8 523.4 L1562.0 523.1 L1565.1 521.7 L1568.3 523.5 L1571.4 524.9 L1574.6 525.5 L1577.7 524.8 L1580.9 524.2 L1584.0 524.7 L1587.2 525.5 L1590.3 526.6 L1593.5 525.8 L1596.7 525.4 L1599.8 524.8 L1603.0 525.2 L1606.1 525.5 L1609.3 525.0 L1612.5 525.3 L1615.6 526.9 L1618.8 525.7 L1621.9 525.3 L1625.1 525.3 L1628.3 527.1 L1631.4 526.3 L1634.6 527.6 L1637.8 528.9 L1640.9 529.5 L1644.0 529.8 L1647.2 528.3 L1650.3 528.5 L1653.5 529.9 L1656.6 529.1 L1659.8 529.9 L1663.0 531.3 L1666.1 532.4 L1669.2 531.4 L1672.4 530.3 L1675.5 529.7 L1678.7 530.5 L1681.8 531.7 L1685.0 531.7 L1688.1 533.6 L1691.1 534.3 L1694.2 534.8 L1697.3 535.9 L1700.4 535.1 L1703.4 536.0 L1706.5 535.7 L1709.6 535.6 L1712.7 535.3 L1715.7 537.4 L1718.8 539.0 L1721.9 537.5 L1724.9 539.2 L1728.0 538.4 L1731.1 539.3 L1734.1 539.8 L1737.2 542.1 L1740.2 542.2 L1743.3 542.8 L1746.4 542.9 L1749.4 543.0 L1752.5 543.3 L1756.7 543.1 L1756.7 539.6 L1756.7 537.9 L1756.7 536.2 L1756.7 533.6 L1756.7 529.6 L1755.7 603.2 L1752.6 601.3 L1749.4 601.6 L1746.3 601.5 L1743.1 601.0 L1740.0 603.3 L1736.8 603.7 L1733.7 602.3 L1730.6 601.8 L1727.4 603.5 L1724.3 603.1 L1721.1 602.8 L1718.0 602.7 L1714.9 602.9 L1711.7 603.8 L1708.6 603.5 L1705.5 604.3 L1702.3 603.1 L1699.2 604.1 L1696.0 604.8 L1692.9 604.4 L1689.8 605.9 L1686.6 607.0 L1683.5 606.8 L1680.4 606.0 L1677.2 604.9 L1674.1 605.9 L1670.9 605.4 L1667.8 604.9 L1664.7 605.8 L1661.5 605.4 L1658.4 606.5 L1655.3 607.4 L1652.1 605.6 L1649.0 606.5 L1645.9 605.7 L1642.7 605.7 L1639.6 606.9 L1636.4 608.2 L1633.3 606.9 L1630.2 607.6 L1627.0 606.7 L1623.9 608.0 L1620.8 606.4 L1617.6 607.0 L1614.5 605.6 L1611.3 606.3 L1608.2 607.2 L1605.1 608.2 L1601.9 608.3 L1598.8 607.6 L1595.7 607.0 L1592.5 607.5 L1589.4 607.9 L1586.2 608.0 L1583.1 608.5 L1579.9 608.9 L1576.8 609.7 L1573.6 609.3 L1570.5 609.9 L1567.3 609.9 L1564.2 608.9 L1561.0 609.7 L1557.9 608.9 L1554.7 610.0 L1551.6 610.7 L1548.4 611.3 L1545.3 611.6 L1542.1 611.2 L1539.0 610.5 L1535.9 609.8 L1532.7 610.6 L1529.6 612.0 L1526.5 611.2 L1523.4 610.5 L1520.2 612.0 L1517.1 613.3 L1514.0 612.0 L1510.9 611.3 L1507.7 611.1 L1504.6 612.4 L1501.5 614.1 L1498.4 613.3 L1495.2 614.7 L1492.1 613.3 L1489.0 613.3 L1485.9 614.4 L1482.7 615.8 L1479.6 615.8 L1476.5 616.5 L1473.4 615.9 L1470.3 615.8 L1467.2 616.3 L1464.1 615.1 L1461.0 615.2 L1457.9 615.8 L1454.8 617.1 L1451.7 616.5 L1448.6 616.5 L1445.5 618.8 L1442.4 619.0 L1439.3 618.5 L1436.2 619.5 L1433.1 619.9 L1430.0 620.5 L1427.0 619.9 L1424.0 619.8 L1421.0 618.2 L1418.0 618.4 L1415.0 618.4 L1412.0 618.0 L1409.0 618.1 L1406.0 619.7 L1402.7 619.5 L1399.3 619.6 L1396.0 620.8 L1392.7 621.4 L1389.3 621.8 L1386.0 625.1 L1383.0 625.8 L1380.1 624.9 L1377.2 626.2 L1374.2 626.1 L1371.2 627.3 L1368.3 629.6 L1365.3 631.1 L1362.4 630.5 L1359.5 631.6 L1356.5 631.6 L1353.1 629.7 L1349.7 629.6 L1346.3 630.7 L1343.0 631.0 L1339.6 630.8 L1336.2 631.4 L1332.8 629.7 L1329.7 631.4 L1326.6 633.3 L1323.5 635.3 L1320.3 636.8 L1317.2 638.3 L1314.1 638.2 L1311.0 638.9 L1307.6 639.0 L1304.3 637.5 L1300.9 637.1 L1297.5 636.9 L1294.1 636.2 L1290.8 635.7 L1287.4 636.7 L1284.6 637.7 L1281.7 638.2 L1278.9 641.3 L1276.1 644.1 L1273.3 644.0 L1270.4 646.1 L1267.6 646.0 L1264.3 646.6 L1261.1 647.3 L1257.8 649.5 L1254.5 650.8 L1251.3 652.8 L1248.0 653.8 L1245.2 656.0 L1242.4 658.5 L1239.6 659.9 L1236.8 660.5 L1234.0 661.6 L1230.8 662.4 L1227.6 662.4 L1224.4 661.4 L1221.2 661.5 L1218.0 660.7 L1215.4 657.1 L1212.8 653.6 L1210.2 651.4 L1207.7 650.6 L1205.1 649.0 L1202.5 644.3 L1199.7 644.8 L1196.9 647.1 L1194.2 650.4 L1191.4 652.7 L1188.6 654.6 L1185.4 652.8 L1182.3 652.5 L1179.1 654.3 L1176.0 654.4 L1172.8 654.2 L1170.5 653.9 L1168.2 650.0 L1165.9 648.4 L1163.6 647.8 L1161.3 646.0 L1159.0 644.7 L1157.0 640.5 L1155.0 637.9 L1153.0 636.6 L1151.0 632.0 L1149.0 629.3 L1147.0 628.3 L1145.9 629.5 L1144.9 633.4 L1143.8 636.7 L1142.7 638.4 L1141.7 642.8 L1140.6 645.9 L1139.6 646.9 L1138.5 651.4 L1137.4 654.8 L1136.4 656.7 L1135.3 657.8 L1132.3 658.2 L1129.4 656.8 L1126.5 655.8 L1123.5 654.8 L1122.8 657.8 L1122.0 660.7 L1121.2 663.7 L1120.5 666.6 L1119.8 669.6 L1119.0 672.6 L1118.2 675.5 L1117.5 678.5 L1117.1 681.9 L1116.8 685.2 L1116.4 688.6 L1116.0 692.0 L1115.8 695.1 L1115.5 698.2 L1115.2 701.3 L1115.0 704.4 L1114.8 707.5 L1114.5 710.5 L1114.2 713.6 L1114.0 716.7 L1113.8 719.8 L1113.5 722.9 L1113.2 726.0 L1113.0 729.1 L1112.8 732.2 L1112.5 735.3 L1112.2 738.4 L1112.0 741.5 L1111.8 744.5 L1111.5 747.6 L1111.2 750.7 L1111.0 753.8 L1110.8 756.9 L1110.5 760.0 L1110.3 763.0 L1110.2 766.1 L1110.0 769.1 L1109.9 772.1 L1109.7 775.2 L1109.6 778.2 L1109.4 781.2 L1109.3 784.2 L1109.1 787.3 L1109.0 790.3 L1108.8 793.3 L1108.7 796.4 L1108.5 799.4 L1108.4 802.4 L1108.2 805.5 L1108.1 808.5 L1107.9 811.5 L1107.8 814.5 L1107.6 817.6 L1107.5 820.6 L1107.3 823.6 L1107.2 826.7 L1107.0 829.7 L1106.9 832.7 L1106.7 835.8 L1106.6 838.8 L1106.4 841.8 L1106.3 844.8 L1106.1 847.9 L1106.0 850.9 L1105.8 853.9 L1105.7 857.0 L1105.5 860.0 L1105.2 863.0 L1104.8 866.0 L1104.5 869.0 L1104.1 872.0 L1103.8 875.0 L1103.4 878.0 L1103.1 881.0 L1102.7 884.0 L1102.4 887.0 L1102.0 890.0 L1101.7 893.0 L1101.3 896.0 L1101.0 899.0 L1100.6 902.0 L1100.3 905.0 L1100.1 908.0 L1100.0 911.1 L1099.8 914.1 L1099.7 917.2 L1099.5 920.2 L1099.4 923.3 L1099.2 926.3 L1099.1 929.4 L1098.9 932.4 L1098.8 935.5 L1098.6 938.5 L1098.4 941.5 L1098.3 944.6 L1098.1 947.6 L1098.0 950.7 L1097.8 953.7 L1097.7 956.8 L1097.5 959.8 L1097.4 962.9 L1097.2 965.9 L1097.1 969.0 L1096.9 972.0 L1096.8 975.1 L1096.7 978.1 L1096.6 981.2 L1096.5 984.3 L1096.4 987.4 L1096.2 990.4 L1096.1 993.5 L1096.0 996.6 L1095.9 999.7 L1095.8 1002.7 L1095.7 1005.8 L1095.6 1008.9 L1095.5 1011.9 L1095.4 1015.0 L1095.3 1018.1 L1095.2 1021.2 L1095.0 1024.2 L1094.9 1027.3 L1094.8 1030.4 L1094.7 1033.5 L1094.6 1036.5 L1094.5 1039.6 L1094.3 1043.2 L1094.1 1046.8 L1093.9 1050.3 L1093.7 1053.9 L1093.5 1057.5 L1093.0 1054.3 L1092.5 1051.1 L1092.0 1047.9 L1091.6 1044.6 L1091.1 1041.4 L1090.6 1038.2 L1090.1 1035.0 L1089.7 1032.0 L1089.3 1028.9 L1088.9 1025.9 L1088.5 1022.9 L1088.1 1019.9 L1087.7 1016.8 L1087.3 1013.8 L1086.9 1010.8 L1086.6 1007.7 L1086.2 1004.7 L1085.8 1001.7 L1085.4 998.6 L1085.0 995.6 L1084.6 992.6 L1084.2 989.6 L1083.8 986.5 L1083.4 983.5 L1082.8 980.5 L1082.2 977.6 L1081.6 974.6 L1081.0 971.6 L1080.4 968.6 L1079.8 965.7 L1079.2 962.7 L1078.6 959.7 L1078.0 956.7 L1077.5 953.8 L1076.9 950.8 L1076.3 947.8 L1075.7 944.8 L1075.1 941.9 L1074.5 938.9 L1073.9 935.9 L1073.3 932.9 L1072.7 930.0 L1072.1 927.0 L1071.6 924.0 L1071.1 920.9 L1070.6 917.9 L1070.1 914.8 L1069.6 911.8 L1069.0 908.7 L1068.5 905.7 L1068.0 902.6 L1067.5 899.6 L1067.0 896.5 L1066.5 893.5 L1066.0 890.5 L1065.5 887.4 L1065.0 884.4 L1064.5 881.3 L1064.0 878.3 L1063.4 875.2 L1062.9 872.2 L1062.4 869.1 L1061.9 866.1 L1061.4 863.0 L1060.9 860.0 L1060.6 857.0 L1060.3 853.9 L1060.1 850.9 L1059.8 847.8 L1059.5 844.8 L1059.2 841.7 L1059.0 838.7 L1058.7 835.7 L1058.4 832.6 L1058.1 829.6 L1057.8 826.5 L1057.6 823.5 L1057.3 820.4 L1057.0 817.4 L1056.7 814.3 L1056.4 811.3 L1056.2 808.3 L1055.9 805.2 L1055.6 802.2 L1055.3 799.1 L1055.1 796.1 L1054.8 793.0 L1054.5 790.0 L1054.3 787.0 L1054.0 784.0 L1053.8 781.0 L1053.6 778.0 L1053.3 775.0 L1053.1 772.0 L1052.9 769.0 L1052.6 766.0 L1052.4 763.0 L1052.2 760.0 L1051.9 757.0 L1051.7 754.0 L1051.5 751.0 L1051.2 748.0 L1051.0 745.0 L1050.8 742.0 L1050.5 739.0 L1050.3 736.0 L1050.1 733.0 L1049.8 730.0 L1049.6 727.0 L1049.4 724.0 L1049.1 721.0 L1048.9 718.0 L1048.7 715.0 L1048.4 712.0 L1048.2 709.0 L1048.0 706.0 L1047.7 703.0 L1047.5 700.0 L1047.3 697.0 L1047.0 694.0 L1046.8 691.0 L1046.5 688.0 L1046.3 685.0 L1046.0 682.0 L1045.8 679.0 L1045.5 676.0 L1045.3 673.0 L1045.0 670.0 L1044.8 667.0 L1044.5 664.0 L1044.3 661.0 L1044.0 658.0 L1043.8 655.0 L1043.5 652.0 L1043.3 649.0 L1043.0 646.0 L1042.8 643.0 L1042.5 640.0 L1042.3 637.0 L1042.0 634.0 L1041.8 631.0 L1041.5 628.0 L1041.3 625.0 L1041.0 622.0 L1040.8 619.0 L1040.5 616.0 L1040.3 613.0 L1040.0 610.0 L1039.8 607.0 L1039.5 604.0 L1039.3 601.0 L1039.0 598.0 L1038.8 595.0Z" fill="#bfbf00" fill-opacity="0.050" stroke="#bfbf00" stroke-opacity="0.050" stroke-width="2.6" stroke-linejoin="round"/>
<path d="M1037.3 598.0 L1038.4 601.1 L1039.4 604.2 L1040.5 607.4 L1041.6 610.5 L1042.6 613.6 L1043.7 616.7 L1044.6 619.7 L1045.4 622.8 L1046.3 625.8 L1047.1 628.8 L1048.0 631.8 L1048.8 634.9 L1049.7 637.9 L1050.6 640.9 L1051.4 643.9 L1052.3 647.0 L1053.1 650.0 L1054.0 653.0 L1054.8 656.1 L1055.5 659.2 L1056.3 662.2 L1057.1 665.3 L1057.8 668.4 L1058.6 671.5 L1059.4 674.5 L1060.2 677.6 L1060.9 680.7 L1061.7 683.8 L1062.5 686.8 L1063.2 689.9 L1064.0 693.0 L1064.8 695.9 L1065.7 698.8 L1066.5 701.8 L1067.3 704.7 L1068.2 707.6 L1069.0 710.5 L1069.8 713.4 L1070.7 716.3 L1071.5 719.2 L1072.3 722.2 L1073.2 725.1 L1074.0 728.0 L1074.8 731.0 L1075.6 734.0 L1076.4 737.0 L1077.2 740.0 L1078.0 743.0 L1078.8 746.0 L1079.6 749.0 L1080.4 752.0 L1081.2 755.0 L1082.0 758.0 L1082.4 761.2 L1082.8 764.4 L1083.2 767.5 L1083.6 770.7 L1084.0 773.9 L1084.5 777.1 L1084.9 780.3 L1085.3 783.5 L1085.7 786.6 L1086.1 789.8 L1086.5 793.0 L1086.7 790.0 L1087.0 787.0 L1087.2 784.0 L1087.4 781.0 L1087.6 778.0 L1087.9 775.0 L1088.1 772.0 L1088.3 769.0 L1088.5 766.0 L1088.8 763.0 L1089.0 760.0 L1089.2 756.9 L1089.3 753.8 L1089.5 750.8 L1089.6 747.7 L1089.8 744.6 L1089.9 741.5 L1090.1 738.5 L1090.2 735.4 L1090.4 732.3 L1090.5 729.2 L1090.7 726.2 L1090.8 723.1 L1091.0 720.0 L1091.2 716.9 L1091.3 713.8 L1091.5 710.8 L1091.6 707.7 L1091.8 704.6 L1091.9 701.5 L1092.1 698.5 L1092.2 695.4 L1092.4 692.3 L1092.5 689.2 L1092.7 686.2 L1092.8 683.1 L1093.0 680.0 L1093.1 677.0 L1093.2 674.0 L1093.3 671.0 L1093.4 668.0 L1093.5 665.0 L1093.6 662.0 L1093.7 659.0 L1093.8 656.0 L1093.9 653.0 L1094.0 650.0 L1094.1 647.0 L1094.2 644.0 L1094.3 641.0 L1094.4 638.0 L1094.5 635.0 L1094.6 632.0 L1094.7 629.0 L1094.8 626.0 L1094.9 623.0 L1095.0 620.0 L1095.1 616.9 L1095.2 613.8 L1095.3 610.8 L1095.5 607.7 L1095.6 604.6 L1095.7 601.5 L1095.8 598.5 L1095.9 595.4 L1096.0 592.3 L1096.2 589.2 L1096.3 586.2 L1096.4 583.1 L1096.5 580.0 L1096.6 576.9 L1096.7 573.8 L1096.8 570.8 L1097.0 567.7 L1097.1 564.6 L1097.2 561.5 L1097.3 558.5 L1097.4 555.4 L1097.5 552.3 L1097.7 549.2 L1097.8 546.2 L1097.9 543.1 L1098.0 540.0 L1098.2 537.0 L1098.3 534.0 L1098.5 531.0 L1098.6 528.0 L1098.8 525.0 L1098.9 522.0 L1099.0 519.0 L1099.2 516.0 L1099.3 513.0 L1099.5 510.0 L1099.7 507.0 L1099.8 504.0 L1100.0 501.0 L1100.1 498.0 L1100.2 495.0 L1100.4 492.0 L1100.5 489.0 L1100.7 486.0 L1100.8 483.0 L1101.0 480.0 L1101.2 476.9 L1101.5 473.8 L1101.7 470.8 L1101.9 467.7 L1102.2 464.6 L1102.4 461.5 L1102.6 458.5 L1102.8 455.4 L1103.1 452.3 L1103.3 449.2 L1103.5 446.2 L1103.8 443.1 L1104.0 440.0 L1104.2 437.0 L1104.4 434.0 L1104.6 431.0 L1104.8 428.0 L1105.0 425.0 L1105.2 422.0 L1105.4 419.0 L1105.6 416.0 L1105.8 413.0 L1106.0 410.0 L1106.2 407.1 L1106.4 404.3 L1106.6 402.2 L1106.8 399.8 L1107.0 397.0 L1107.2 392.6 L1107.4 390.7 L1107.6 386.6 L1107.8 382.7 L1108.0 378.6 L1108.5 376.2 L1108.9 372.3 L1109.4 369.1 L1109.8 366.9 L1110.3 364.7 L1110.7 362.0 L1111.2 357.0 L1111.6 352.9 L1112.1 349.8 L1112.5 347.6 L1113.0 345.7 L1113.8 343.0 L1114.6 340.4 L1115.4 336.4 L1116.1 332.9 L1116.9 328.5 L1117.7 324.7 L1118.5 320.8 L1120.1 318.4 L1121.8 315.8 L1123.4 312.9 L1125.0 309.3 L1128.0 310.9 L1131.0 312.1 L1134.8 315.1 L1138.5 316.8 L1141.9 316.2 L1145.3 315.5 L1148.7 313.1 L1149.8 315.0 L1150.9 318.0 L1152.1 322.9 L1153.2 326.6 L1154.3 328.8 L1155.4 332.6 L1156.3 335.2 L1157.2 339.9 L1158.1 341.7 L1159.0 346.4 L1160.5 350.4 L1162.0 352.1 L1163.5 354.4 L1165.0 356.0 L1166.8 358.8 L1168.7 361.6 L1170.6 364.7 L1172.4 367.1 L1174.3 370.4 L1176.2 373.0 L1178.1 377.1 L1180.0 380.3 L1181.9 382.4 L1183.7 386.9 L1185.6 388.6 L1187.4 391.4 L1189.3 395.2 L1191.4 398.1 L1193.5 401.6 L1195.7 403.6 L1197.8 406.8 L1199.9 407.6 L1202.0 411.5 L1204.1 413.8 L1206.2 416.3 L1208.3 420.2 L1210.5 423.5 L1212.6 425.3 L1214.7 427.6 L1217.2 428.8 L1219.8 432.3 L1222.3 433.9 L1224.8 434.5 L1227.3 436.4 L1229.9 436.8 L1232.4 438.5 L1234.9 440.9 L1237.5 444.4 L1240.0 446.6 L1242.8 447.8 L1245.7 449.9 L1248.5 450.4 L1251.3 452.9 L1254.2 455.9 L1257.0 455.8 L1259.8 459.2 L1262.7 462.1 L1265.5 462.6 L1268.3 465.3 L1271.2 468.1 L1274.0 468.0 L1276.8 469.6 L1279.6 471.6 L1282.5 474.0 L1285.3 474.5 L1288.1 477.0 L1290.9 478.9 L1293.9 480.5 L1297.0 481.5 L1300.0 482.8 L1302.8 483.3 L1305.7 483.9 L1308.5 484.5 L1311.3 485.2 L1314.1 486.2 L1317.0 487.4 L1319.8 488.2 L1322.6 488.4 L1325.4 489.8 L1328.2 492.7 L1331.1 492.8 L1333.9 495.4 L1337.0 496.7 L1340.0 496.7 L1343.1 496.5 L1346.2 498.9 L1349.3 500.8 L1352.3 500.3 L1355.4 501.7 L1358.5 503.1 L1361.6 503.9 L1364.6 503.3 L1367.7 503.9 L1370.8 505.3 L1373.9 505.8 L1376.9 506.3 L1380.0 505.4 L1383.1 506.9 L1386.2 507.4 L1389.3 506.9 L1392.4 507.8 L1395.4 506.7 L1398.5 507.0 L1401.6 507.1 L1404.7 509.4 L1407.7 510.9 L1410.8 510.3 L1413.9 511.8 L1417.0 511.5 L1420.0 513.6 L1423.1 515.1 L1426.2 515.7 L1429.3 514.5 L1432.3 515.2 L1435.4 515.5 L1438.5 516.5 L1441.6 515.6 L1444.6 515.4 L1447.7 515.4 L1450.8 517.9 L1453.9 518.4 L1457.0 519.5 L1460.1 520.4 L1463.1 519.8 L1466.2 520.4 L1469.3 519.6 L1472.4 519.8 L1475.4 518.7 L1478.5 519.0 L1481.6 518.3 L1484.6 519.1 L1487.7 521.1 L1490.7 522.2 L1493.8 522.2 L1496.9 520.1 L1499.9 522.0 L1503.0 521.7 L1506.1 522.5 L1509.2 522.4 L1512.3 523.8 L1515.4 523.4 L1518.5 523.0 L1521.5 524.1 L1524.6 524.1 L1527.7 524.6 L1530.8 525.1 L1533.9 527.1 L1537.0 528.4 L1540.1 527.6 L1543.3 528.7 L1546.4 527.3 L1549.5 529.5 L1552.7 528.5 L1555.8 529.0 L1558.9 528.9 L1562.1 530.4 L1565.2 530.0 L1568.3 529.1 L1571.5 530.8 L1574.6 531.0 L1577.7 530.2 L1580.9 531.2 L1584.0 532.4 L1587.2 532.6 L1590.3 532.8 L1593.5 531.7 L1596.7 530.9 L1599.8 530.0 L1603.0 532.1 L1606.1 531.3 L1609.3 531.3 L1612.5 532.7 L1615.6 531.4 L1618.8 533.2 L1621.9 533.1 L1625.1 531.9 L1628.3 533.3 L1631.4 533.7 L1634.6 532.1 L1637.8 532.8 L1640.9 534.0 L1644.0 533.4 L1647.2 533.5 L1650.3 535.3 L1653.5 534.1 L1656.6 534.1 L1659.8 533.8 L1663.0 534.9 L1666.1 535.5 L1669.2 535.5 L1672.4 535.0 L1675.5 535.1 L1678.7 537.2 L1681.8 537.8 L1685.0 539.0 L1688.1 537.8 L1691.1 539.9 L1694.2 540.4 L1697.3 540.6 L1700.4 541.6 L1703.4 540.1 L1706.5 541.2 L1709.6 541.1 L1712.7 540.4 L1715.7 542.5 L1718.8 541.5 L1721.9 543.4 L1724.9 543.2 L1728.0 545.1 L1731.1 543.8 L1734.1 544.7 L1737.2 546.9 L1740.2 546.9 L1743.3 547.3 L1746.4 547.5 L1749.4 548.0 L1752.5 547.9 L1756.7 547.8 L1755.7 603.0 L1752.6 604.6 L1749.4 603.9 L1746.3 604.8 L1743.1 606.1 L1740.0 606.8 L1736.8 607.1 L1733.7 607.4 L1730.6 607.0 L1727.4 606.6 L1724.3 605.1 L1721.1 604.5 L1718.0 604.9 L1714.7 605.5 L1711.3 605.8 L1708.0 604.5 L1704.7 605.5 L1701.3 605.3 L1698.0 605.3 L1695.0 604.5 L1691.9 606.3 L1688.9 607.3 L1685.8 607.7 L1682.8 606.1 L1679.7 605.1 L1676.7 607.4 L1673.6 607.7 L1670.6 608.8 L1667.5 607.9 L1664.5 608.6 L1661.4 607.0 L1658.4 606.2 L1655.1 607.4 L1651.8 608.0 L1648.5 607.3 L1645.1 607.4 L1641.8 607.8 L1638.5 606.7 L1635.2 606.5 L1631.9 608.3 L1628.5 609.1 L1625.2 612.1 L1621.9 611.8 L1618.6 613.1 L1615.3 612.3 L1612.0 612.5 L1608.7 611.8 L1605.4 611.5 L1602.1 612.9 L1598.8 613.5 L1595.5 614.1 L1592.2 615.5 L1588.9 616.4 L1585.6 615.7 L1582.3 616.6 L1579.0 616.7 L1575.9 616.9 L1572.8 615.5 L1569.8 617.0 L1566.7 617.0 L1563.6 615.4 L1560.5 614.3 L1557.5 615.0 L1554.4 616.2 L1551.3 615.9 L1548.2 616.0 L1545.2 617.2 L1542.1 616.4 L1539.0 615.4 L1536.0 616.5 L1532.9 617.0 L1529.9 618.4 L1526.8 617.7 L1523.8 619.8 L1520.8 621.5 L1517.7 621.9 L1514.7 621.6 L1511.7 620.7 L1508.6 620.1 L1505.6 621.8 L1502.5 623.8 L1499.5 623.0 L1496.2 624.0 L1492.9 624.9 L1489.5 624.9 L1486.2 624.0 L1482.9 624.1 L1479.6 623.0 L1476.3 623.8 L1473.0 623.7 L1469.7 625.8 L1466.3 625.6 L1463.0 627.7 L1459.7 628.8 L1456.4 627.7 L1453.1 626.9 L1449.8 628.3 L1446.5 628.2 L1443.2 629.1 L1439.9 630.4 L1436.6 629.5 L1433.3 628.7 L1430.0 629.7 L1427.0 630.4 L1424.0 630.3 L1421.0 628.6 L1418.0 629.0 L1415.0 629.6 L1412.0 630.8 L1409.0 629.4 L1406.0 628.9 L1402.7 629.4 L1399.3 631.0 L1396.0 630.9 L1392.7 632.6 L1389.3 633.1 L1386.0 633.9 L1382.8 633.0 L1379.5 635.2 L1376.3 635.3 L1373.0 635.3 L1369.7 635.3 L1366.4 637.0 L1363.1 638.0 L1359.8 638.1 L1356.5 638.9 L1353.2 637.7 L1349.9 639.0 L1346.7 639.2 L1343.4 639.5 L1340.1 640.1 L1336.8 638.4 L1332.8 638.6 L1329.6 638.9 L1326.5 641.8 L1323.3 642.3 L1320.2 641.4 L1317.0 643.2 L1314.0 646.5 L1311.0 647.5 L1307.6 647.5 L1304.2 646.7 L1300.7 647.1 L1297.3 646.5 L1294.0 647.2 L1290.7 648.9 L1287.4 650.5 L1284.1 652.5 L1280.8 651.7 L1277.5 653.8 L1274.2 653.4 L1270.9 653.9 L1267.6 654.5 L1264.3 656.0 L1261.1 658.4 L1257.8 661.5 L1254.5 663.6 L1251.3 665.5 L1248.0 665.3 L1244.7 665.8 L1241.3 666.4 L1238.0 668.6 L1234.0 667.2 L1230.8 665.2 L1227.6 664.3 L1224.4 664.9 L1221.2 664.3 L1218.0 663.3 L1214.9 662.2 L1211.8 663.1 L1208.7 662.3 L1205.6 661.4 L1202.5 660.6 L1199.2 662.1 L1195.9 663.6 L1192.6 664.8 L1188.6 669.0 L1185.4 668.5 L1182.3 667.7 L1179.1 666.5 L1176.0 665.8 L1172.8 665.6 L1169.0 663.2 L1165.7 660.4 L1162.3 661.5 L1159.0 660.2 L1156.5 656.3 L1154.0 654.5 L1151.5 652.1 L1149.0 648.9 L1147.0 651.9 L1145.0 655.0 L1143.1 658.7 L1141.2 659.9 L1139.2 663.6 L1137.2 666.6 L1135.3 668.4 L1132.0 669.9 L1128.7 671.0 L1125.4 673.0 L1123.5 672.8 L1122.0 675.8 L1120.5 678.7 L1119.0 681.7 L1117.5 684.7 L1117.0 688.3 L1116.5 692.0 L1116.2 695.1 L1116.0 698.2 L1115.8 701.3 L1115.5 704.4 L1115.2 707.5 L1115.0 710.5 L1114.8 713.6 L1114.5 716.7 L1114.2 719.8 L1114.0 722.9 L1113.8 726.0 L1113.5 729.1 L1113.2 732.2 L1113.0 735.3 L1112.8 738.4 L1112.5 741.5 L1112.2 744.5 L1112.0 747.6 L1111.8 750.7 L1111.5 753.8 L1111.2 756.9 L1111.0 760.0 L1110.8 763.0 L1110.7 766.1 L1110.5 769.1 L1110.4 772.1 L1110.2 775.2 L1110.1 778.2 L1109.9 781.2 L1109.8 784.2 L1109.6 787.3 L1109.5 790.3 L1109.3 793.3 L1109.2 796.4 L1109.0 799.4 L1108.9 802.4 L1108.7 805.5 L1108.6 808.5 L1108.4 811.5 L1108.3 814.5 L1108.1 817.6 L1108.0 820.6 L1107.8 823.6 L1107.7 826.7 L1107.5 829.7 L1107.4 832.7 L1107.2 835.8 L1107.1 838.8 L1106.9 841.8 L1106.8 844.8 L1106.6 847.9 L1106.5 850.9 L1106.3 853.9 L1106.2 857.0 L1106.0 860.0 L1105.7 863.0 L1105.3 866.0 L1105.0 869.0 L1104.6 872.0 L1104.3 875.0 L1103.9 878.0 L1103.6 881.0 L1103.2 884.0 L1102.9 887.0 L1102.5 890.0 L1102.2 893.0 L1101.8 896.0 L1101.5 899.0 L1101.1 902.0 L1100.8 905.0 L1100.6 908.0 L1100.5 911.1 L1100.3 914.1 L1100.2 917.2 L1100.0 920.2 L1099.9 923.3 L1099.7 926.3 L1099.6 929.4 L1099.4 932.4 L1099.3 935.5 L1099.1 938.5 L1098.9 941.5 L1098.8 944.6 L1098.6 947.6 L1098.5 950.7 L1098.3 953.7 L1098.2 956.8 L1098.0 959.8 L1097.9 962.9 L1097.7 965.9 L1097.6 969.0 L1097.4 972.0 L1097.3 975.1 L1097.2 978.1 L1097.1 981.2 L1097.0 984.3 L1096.9 987.4 L1096.7 990.4 L1096.6 993.5 L1096.5 996.6 L1096.4 999.7 L1096.3 1002.7 L1096.2 1005.8 L1096.1 1008.9 L1096.0 1011.9 L1095.9 1015.0 L1095.8 1018.1 L1095.7 1021.2 L1095.5 1024.2 L1095.4 1027.3 L1095.3 1030.4 L1095.2 1033.5 L1095.1 1036.5 L1095.0 1039.6 L1094.7 1042.6 L1094.3 1045.6 L1094.0 1048.5 L1093.7 1051.5 L1093.3 1054.5 L1093.0 1057.5 L1092.5 1054.3 L1092.0 1051.1 L1091.5 1047.9 L1091.1 1044.6 L1090.6 1041.4 L1090.1 1038.2 L1089.6 1035.0 L1089.2 1032.0 L1088.8 1028.9 L1088.4 1025.9 L1088.0 1022.9 L1087.6 1019.9 L1087.2 1016.8 L1086.8 1013.8 L1086.4 1010.8 L1086.1 1007.7 L1085.7 1004.7 L1085.3 1001.7 L1084.9 998.6 L1084.5 995.6 L1084.1 992.6 L1083.7 989.6 L1083.3 986.5 L1082.9 983.5 L1082.3 980.5 L1081.7 977.6 L1081.1 974.6 L1080.5 971.6 L1079.9 968.6 L1079.3 965.7 L1078.7 962.7 L1078.1 959.7 L1077.5 956.7 L1077.0 953.8 L1076.4 950.8 L1075.8 947.8 L1075.2 944.8 L1074.6 941.9 L1074.0 938.9 L1073.4 935.9 L1072.8 932.9 L1072.2 930.0 L1071.6 927.0 L1071.1 924.0 L1070.6 920.9 L1070.1 917.9 L1069.6 914.8 L1069.1 911.8 L1068.5 908.7 L1068.0 905.7 L1067.5 902.6 L1067.0 899.6 L1066.5 896.5 L1066.0 893.5 L1065.5 890.5 L1065.0 887.4 L1064.5 884.4 L1064.0 881.3 L1063.5 878.3 L1062.9 875.2 L1062.4 872.2 L1061.9 869.1 L1061.4 866.1 L1060.9 863.0 L1060.4 860.0 L1060.1 857.0 L1059.8 853.9 L1059.6 850.9 L1059.3 847.8 L1059.0 844.8 L1058.7 841.7 L1058.5 838.7 L1058.2 835.7 L1057.9 832.6 L1057.6 829.6 L1057.3 826.5 L1057.1 823.5 L1056.8 820.4 L1056.5 817.4 L1056.2 814.3 L1055.9 811.3 L1055.7 808.3 L1055.4 805.2 L1055.1 802.2 L1054.8 799.1 L1054.6 796.1 L1054.3 793.0 L1054.0 790.0 L1053.8 787.0 L1053.5 784.0 L1053.3 781.0 L1053.1 778.0 L1052.8 775.0 L1052.6 772.0 L1052.4 769.0 L1052.1 766.0 L1051.9 763.0 L1051.7 760.0 L1051.4 757.0 L1051.2 754.0 L1051.0 751.0 L1050.7 748.0 L1050.5 745.0 L1050.3 742.0 L1050.0 739.0 L1049.8 736.0 L1049.6 733.0 L1049.3 730.0 L1049.1 727.0 L1048.9 724.0 L1048.6 721.0 L1048.4 718.0 L1048.2 715.0 L1047.9 712.0 L1047.7 709.0 L1047.5 706.0 L1047.2 703.0 L1047.0 700.0 L1046.8 697.0 L1046.5 694.0 L1046.3 691.0 L1046.0 688.0 L1045.8 685.0 L1045.5 682.0 L1045.3 679.0 L1045.0 676.0 L1044.8 673.0 L1044.5 670.0 L1044.3 667.0 L1044.0 664.0 L1043.8 661.0 L1043.5 658.0 L1043.3 655.0 L1043.0 652.0 L1042.8 649.0 L1042.5 646.0 L1042.3 643.0 L1042.0 640.0 L1041.8 637.0 L1041.5 634.0 L1041.3 631.0 L1041.0 628.0 L1040.8 625.0 L1040.5 622.0 L1040.3 619.0 L1040.0 616.0 L1039.8 613.0 L1039.5 610.0 L1039.3 607.0 L1039.0 604.0 L1038.8 601.0 L1038.5 598.0 L1038.3 595.0Z" fill="#bd1a1a" fill-opacity="0.060" stroke="#bd1a1a" stroke-opacity="0.060" stroke-width="2.6" stroke-linejoin="round"/>
<g fill="none" stroke-width="5.20" stroke-linejoin="round" stroke-linecap="butt">
<path transform="scale(1,1.100)" d="M1038.3 541.1 L1038.6 542.9 L1038.9 544.8 L1039.2 546.6 L1039.5 548.5 L1039.8 550.3 L1040.1 552.2 L1040.3 554.0 L1040.6 555.8 L1040.9 557.7 L1041.2 559.5 L1041.5 561.4 L1041.8 563.2 L1042.1 565.1 L1042.4 566.9 L1042.7 568.8 L1043.0 570.6 L1043.3 572.4 L1043.6 574.3 L1043.9 576.1 L1044.2 578.0 L1044.5 579.8 L1044.7 581.7 L1045.0 583.5 L1045.3 585.4 L1045.6 587.2 L1045.9 589.0 L1046.2 590.9 L1046.5 592.7 L1046.8 594.5 L1047.0 596.4 L1047.2 598.2 L1047.5 600.0 L1047.8 601.8 L1048.0 603.6 L1048.2 605.5 L1048.5 607.3 L1048.8 609.1 L1049.0 610.9 L1049.2 612.7 L1049.5 614.5 L1049.8 616.4 L1050.0 618.2 L1050.2 620.0 L1050.5 621.8 L1050.8 623.6 L1051.0 625.5 L1051.2 627.3 L1051.5 629.1 L1051.8 630.9 L1052.0 632.7 L1052.2 634.5 L1052.5 636.4 L1052.8 638.2 L1053.0 640.0 L1053.2 641.8 L1053.5 643.6 L1053.8 645.5 L1054.0 647.3 L1054.2 649.1 L1054.5 650.9 L1054.7 652.7 L1055.0 654.5 L1055.2 656.4 L1055.5 658.2 L1055.7 660.0 L1055.9 661.8 L1056.2 663.6 L1056.4 665.5 L1056.7 667.3 L1056.9 669.1 L1057.1 670.9 L1057.4 672.7 L1057.6 674.5 L1057.8 676.4 L1058.1 678.2 L1058.3 680.0 L1058.6 681.8 L1058.8 683.6 L1059.0 685.5 L1059.3 687.3 L1059.5 689.1 L1059.8 690.9 L1060.0 692.7 L1060.3 694.6 L1060.6 696.5 L1061.0 698.3 L1061.3 700.2 L1061.6 702.1 L1061.9 704.0 L1062.3 705.8 L1062.6 707.7 L1062.9 709.6 L1063.2 711.4 L1063.6 713.3 L1063.9 715.2 L1064.2 717.1 L1064.5 718.9 L1064.9 720.8 L1065.2 722.7 L1065.5 724.5 L1065.9 726.4 L1066.3 728.3 L1066.7 730.1 L1067.0 732.0 L1067.4 733.8 L1067.8 735.7 L1068.2 737.6 L1068.6 739.4 L1069.0 741.3 L1069.4 743.1 L1069.8 745.0 L1070.1 746.9 L1070.5 748.7 L1070.9 750.6 L1071.3 752.4 L1071.7 754.3 L1072.1 756.2 L1072.5 758.0 L1072.8 759.9 L1073.2 761.7 L1073.6 763.6 L1074.0 765.5 L1074.4 767.3 L1074.8 769.1 L1075.2 770.9 L1075.7 772.7 L1076.1 774.5 L1076.5 776.4 L1076.9 778.2 L1077.3 780.0 L1077.8 781.8 L1078.2 783.6 L1078.6 785.5 L1079.0 787.3 L1079.3 789.1 L1079.6 790.9 L1079.9 792.7 L1080.2 794.5 L1080.5 796.4 L1080.8 798.2 L1081.1 800.0 L1081.4 801.8 L1081.7 803.6 L1082.0 805.5 L1082.3 807.3 L1082.6 809.1 L1082.9 810.9 L1083.2 812.7 L1083.5 814.5 L1084.0 816.4 L1084.6 818.3 L1085.1 820.2 L1085.7 822.1 L1086.2 824.0 L1086.8 825.8 L1087.3 827.7 L1087.8 825.8 L1088.4 824.0 L1088.9 822.1 L1089.4 820.2 L1089.9 818.3 L1090.5 816.4 L1091.0 814.5 L1091.2 812.6 L1091.4 810.7 L1091.7 808.8 L1091.9 806.9 L1092.1 805.0 L1092.3 803.1 L1092.5 801.2 L1092.8 799.3 L1093.0 797.4 L1093.2 795.5 L1093.4 793.5 L1093.6 791.6 L1093.8 789.6 L1093.9 787.7 L1094.1 785.7 L1094.3 783.8 L1094.5 781.8 L1094.5 780.0 L1094.6 778.2 L1094.6 776.4 L1094.7 774.5 L1094.7 772.7 L1094.8 770.9 L1094.8 769.1 L1094.9 767.3 L1094.9 765.5 L1095.0 763.6 L1095.0 761.8 L1095.1 760.0 L1095.1 758.2 L1095.2 756.4 L1095.2 754.5 L1095.3 752.7 L1095.3 750.9 L1095.3 749.1 L1095.4 747.3 L1095.4 745.5 L1095.5 743.6 L1095.5 741.8 L1095.6 740.0 L1095.6 738.2 L1095.7 736.4 L1095.7 734.5 L1095.8 732.7 L1095.8 730.9 L1095.9 729.1 L1095.9 727.3 L1096.0 725.5 L1096.0 723.6 L1096.0 721.8 L1096.1 720.0 L1096.1 718.2 L1096.2 716.4 L1096.2 714.5 L1096.3 712.7 L1096.3 710.9 L1096.4 709.1 L1096.4 707.3 L1096.5 705.5 L1096.5 703.6 L1096.6 701.8 L1096.6 700.0 L1096.7 698.2 L1096.7 696.4 L1096.8 694.5 L1096.8 692.7 L1096.9 690.9 L1097.0 689.1 L1097.1 687.3 L1097.2 685.5 L1097.3 683.6 L1097.4 681.8 L1097.5 680.0 L1097.6 678.2 L1097.6 676.4 L1097.7 674.5 L1097.8 672.7 L1097.9 670.9 L1098.0 669.1 L1098.1 667.3 L1098.2 665.5 L1098.3 663.6 L1098.4 661.8 L1098.5 660.0 L1098.6 658.2 L1098.7 656.4 L1098.8 654.5 L1098.9 652.7 L1099.0 650.9 L1099.1 649.1 L1099.2 647.3 L1099.2 645.5 L1099.3 643.6 L1099.4 641.8 L1099.5 640.0 L1099.6 638.2 L1099.7 636.4 L1099.8 634.5 L1099.9 632.7 L1100.0 630.9 L1100.1 629.1 L1100.3 627.3 L1100.4 625.5 L1100.5 623.6 L1100.7 621.8 L1100.8 620.0 L1100.9 618.2 L1101.1 616.4 L1101.2 614.5 L1101.3 612.7 L1101.5 610.9 L1101.6 609.1 L1101.7 607.3 L1101.9 605.5 L1102.0 603.6 L1102.1 601.8 L1102.3 600.0 L1102.4 598.2 L1102.5 596.4 L1102.7 594.5 L1102.8 592.7 L1102.9 590.9 L1103.1 589.1 L1103.2 587.3 L1103.3 585.5 L1103.5 583.6 L1103.6 581.8 L1103.8 580.0 L1104.0 578.2 L1104.2 576.4 L1104.3 574.5 L1104.5 572.7 L1104.7 570.9 L1104.9 569.1 L1105.1 567.3 L1105.3 565.5 L1105.5 563.6 L1105.6 561.8 L1105.8 560.0 L1106.0 558.2 L1106.2 556.4 L1106.4 554.5 L1106.6 552.7 L1106.8 550.9 L1106.9 549.1 L1107.1 547.3 L1107.3 545.5 L1107.5 543.6 L1107.7 541.8 L1107.9 540.0 L1108.1 538.2 L1108.3 536.4 L1108.5 534.5 L1108.7 532.7 L1108.9 530.9 L1109.1 529.1 L1109.2 527.3 L1109.4 525.5 L1109.6 523.6 L1109.8 521.8 L1110.0 520.0 L1110.2 518.2 L1110.4 516.4 L1110.6 514.5 L1110.8 512.7 L1111.0 510.9 L1111.3 509.1 L1111.5 507.3 L1111.7 505.5 L1111.9 503.6 L1112.2 501.8 L1112.4 500.0 L1112.6 498.2 L1112.8 496.4 L1113.1 494.5 L1113.3 492.7 L1113.5 490.9 L1113.7 489.1 L1114.0 487.3 L1114.2 485.5 L1114.5 483.6 L1114.8 481.8 L1115.1 480.0 L1115.4 478.2 L1115.8 476.4 L1116.1 473.9 L1116.4 472.7 L1116.7 471.2 L1117.0 469.2 L1117.6 466.8 L1118.2 465.7 L1118.7 464.3 L1119.3 462.2 L1119.9 460.2 L1120.4 457.8 L1121.0 455.3 L1121.6 453.7 L1122.9 452.8 L1124.2 450.7 L1125.4 450.2 L1126.7 448.2 L1128.0 446.5 L1130.0 446.3 L1132.0 448.1 L1134.0 448.7 L1136.0 448.6 L1138.0 447.7 L1140.0 445.9 L1142.0 445.5 L1144.0 445.5 L1146.0 444.6 L1148.2 445.6 L1150.5 445.0 L1151.9 446.3 L1153.2 449.2 L1154.6 450.3 L1155.4 453.3 L1156.2 454.9 L1157.0 456.9 L1157.8 458.5 L1158.6 460.2 L1159.5 461.5 L1160.3 462.6 L1161.2 465.6 L1162.0 466.8 L1163.3 469.3 L1164.7 470.5 L1166.0 473.4 L1167.3 475.6 L1168.5 477.1 L1169.7 478.5 L1170.9 479.7 L1172.1 481.2 L1173.3 481.6 L1174.5 483.2 L1175.7 485.3 L1177.4 486.1 L1179.1 488.5 L1180.8 490.4 L1182.8 490.6 L1184.7 491.0 L1186.7 491.7 L1189.0 492.0 L1191.3 493.5 L1193.7 493.4 L1196.0 492.9 L1198.0 492.9 L1200.0 494.1 L1202.0 495.5 L1204.0 495.5 L1206.0 495.7 L1208.0 495.8 L1210.0 496.4 L1212.0 495.8 L1214.0 496.3 L1216.0 496.5 L1218.0 497.4 L1220.0 497.4 L1222.0 497.7 L1224.0 498.5 L1226.0 500.4 L1228.0 500.7 L1230.0 501.7 L1232.0 502.0 L1234.0 502.2 L1236.0 502.5 L1238.0 504.4 L1240.0 505.3 L1242.0 505.2 L1244.0 505.8 L1246.0 506.3 L1248.0 507.1 L1250.0 507.7 L1252.2 507.2 L1254.4 508.0 L1256.6 508.5 L1258.9 508.2 L1261.1 508.7 L1263.3 508.4 L1265.5 508.0 L1267.6 508.0 L1269.6 509.2 L1271.7 508.8 L1273.8 508.6 L1275.9 510.1 L1277.9 511.0 L1280.0 511.2 L1282.2 512.0 L1284.4 511.3 L1286.6 511.4 L1288.8 511.8 L1291.0 512.3 L1293.2 512.4 L1295.4 512.5 L1297.6 513.1 L1299.6 514.7 L1301.7 516.0 L1303.7 516.6 L1305.8 516.9 L1307.8 517.0 L1310.1 518.0 L1312.4 518.2 L1314.7 518.7 L1317.0 518.3 L1319.0 518.2 L1321.0 519.0 L1323.0 519.4 L1325.0 519.7 L1327.0 519.6 L1329.0 519.5 L1331.0 519.6 L1333.0 520.0 L1335.2 519.7 L1337.5 519.8 L1339.7 519.6 L1341.9 520.0 L1344.1 519.6 L1346.3 520.0 L1348.6 520.5 L1350.8 520.0 L1352.8 521.0 L1354.7 522.0 L1356.7 523.2 L1358.7 524.0 L1360.6 524.5 L1362.6 525.3 L1364.6 526.0 L1366.7 526.3 L1368.7 526.0 L1370.8 525.8 L1372.8 525.8 L1374.8 525.2 L1376.7 524.9 L1378.7 524.3 L1380.7 524.3 L1382.6 523.9 L1384.6 523.0 L1386.7 523.0 L1388.8 522.7 L1391.0 522.6 L1393.1 522.3 L1395.2 521.9 L1397.3 521.7 L1399.5 521.6 L1401.6 521.8 L1403.7 521.9 L1405.8 521.5 L1407.9 521.9 L1410.0 522.3 L1412.2 522.4 L1414.3 522.5 L1416.4 521.9 L1418.5 522.0 L1420.6 521.8 L1422.7 522.2 L1424.8 522.0 L1427.0 522.3 L1429.1 522.1 L1431.2 522.4 L1433.3 522.3 L1435.4 522.0 L1437.4 522.2 L1439.4 522.3 L1441.4 522.8 L1443.4 522.7 L1445.4 522.8 L1447.4 522.9 L1449.4 523.3 L1451.4 522.9 L1453.4 523.1 L1455.4 523.2 L1457.4 523.5 L1459.4 523.7 L1461.5 523.3 L1463.5 523.3 L1465.6 523.2 L1467.6 523.1 L1469.6 522.7 L1471.7 523.0 L1473.7 523.3 L1475.7 522.9 L1477.8 522.7 L1479.8 523.1 L1481.8 522.5 L1483.9 522.2 L1485.9 522.0 L1488.0 522.4 L1490.0 522.6 L1492.0 522.5 L1494.0 522.6 L1496.0 522.1 L1498.0 522.4 L1500.0 522.4 L1502.0 522.4 L1504.0 522.3 L1506.0 522.3 L1508.0 522.2 L1510.0 521.9 L1512.0 522.1 L1514.0 522.1 L1516.0 522.4 L1518.0 522.7 L1520.0 522.8 L1522.0 522.6 L1524.0 522.3 L1526.0 522.3 L1528.0 522.4 L1530.0 522.6 L1532.0 522.9 L1534.0 522.4 L1536.0 522.5 L1538.0 522.5 L1540.0 522.7 L1542.0 523.0 L1544.0 523.1 L1546.0 523.0 L1548.0 523.1 L1550.0 523.0 L1552.0 523.2 L1554.0 523.1 L1556.0 523.1 L1558.0 522.7 L1560.0 523.1 L1562.1 522.9 L1564.1 523.0 L1566.2 523.3 L1568.3 523.6 L1570.3 523.8 L1572.4 523.2 L1574.5 523.1 L1576.5 523.1 L1578.6 523.2 L1580.6 523.1 L1582.7 523.4 L1584.8 523.2 L1586.8 523.3 L1588.9 523.9 L1591.0 524.1 L1593.0 524.0 L1595.1 523.7 L1597.2 524.3 L1599.2 524.4 L1601.3 524.1 L1603.3 524.1 L1605.4 524.4 L1607.5 524.6 L1609.5 524.4 L1611.6 524.9 L1613.7 524.7 L1615.7 524.6 L1617.8 525.0 L1619.8 524.7 L1621.8 524.9 L1623.8 524.7 L1625.8 524.9 L1627.8 524.7 L1629.8 524.7 L1631.8 525.2 L1633.9 525.1 L1635.9 525.0 L1637.9 525.1 L1639.9 524.9 L1641.9 524.7 L1643.9 524.8 L1645.9 524.8 L1647.9 524.7 L1649.9 525.3 L1651.9 524.9 L1653.9 525.3 L1655.9 525.6 L1657.9 525.6 L1659.9 525.1 L1661.9 525.2 L1663.9 524.9 L1666.0 525.2 L1668.0 525.4 L1670.0 525.2 L1672.0 524.9 L1674.0 525.2 L1676.0 525.0 L1678.0 525.0 L1680.0 525.2 L1682.0 525.6 L1684.0 525.5 L1686.0 525.2 L1688.1 525.6 L1690.1 525.8 L1692.1 525.7 L1694.1 525.3 L1696.1 525.2 L1698.1 525.3 L1700.1 525.5 L1702.2 525.3 L1704.2 525.7 L1706.2 525.9 L1708.2 526.2 L1710.2 526.2 L1712.2 525.6 L1714.2 525.7 L1716.2 525.4 L1718.3 525.8 L1720.3 526.0 L1722.3 526.1 L1724.3 525.7 L1726.3 525.4 L1728.3 525.8 L1730.3 525.9 L1732.4 525.9 L1734.4 525.9 L1736.4 526.1 L1738.4 525.8 L1740.4 525.7 L1742.4 525.6 L1744.4 525.6 L1746.5 525.8 L1748.5 526.2 L1750.5 525.7 L1752.5 525.5 L1756.7 525.9 L1756.7 521.8 L1756.7 529.1" stroke="#008000"/>
<path transform="scale(1,1.420)" d="M1118.2 360.8 L1118.7 359.7 L1119.3 358.1 L1119.9 356.5 L1120.4 354.7 L1121.0 352.7 L1121.6 351.5 L1122.9 350.7 L1124.2 349.1 L1125.4 348.7 L1126.7 347.2 L1128.0 345.9 L1130.0 345.7 L1132.0 347.1 L1134.0 347.6 L1136.0 347.5 L1138.0 346.8 L1140.0 345.4 L1142.0 345.1 L1144.0 345.1 L1146.0 344.4 L1148.2 345.2 L1150.5 344.7 L1151.9 345.7 L1153.2 347.9 L1154.6 348.9 L1155.4 351.2 L1156.2 352.4 L1157.0 353.9 L1157.8 355.1 L1158.6 356.5 L1159.5 357.5 L1160.3 358.4 L1161.2 360.6 L1162.0 361.6 L1163.3 363.6 L1164.7 364.5 L1166.0 366.7 L1167.3 368.4 L1168.5 369.6 L1169.7 370.7 L1170.9 371.6 L1172.1 372.8 L1173.3 373.1 L1174.5 374.3 L1175.7 376.0 L1177.4 376.5 L1179.1 378.4 L1180.8 379.9 L1182.8 380.0 L1184.7 380.3 L1186.7 380.9 L1189.0 381.1 L1191.3 382.3 L1193.7 382.2 L1196.0 381.8 L1198.0 381.8 L1200.0 382.8 L1202.0 383.8 L1204.0 383.8 L1206.0 384.0 L1208.0 384.1 L1210.0 384.5 L1212.0 384.1 L1214.0 384.4 L1216.0 384.6 L1218.0 385.3 L1220.0 385.3 L1222.0 385.6 L1224.0 386.2 L1226.0 387.6 L1228.0 387.9 L1230.0 388.6 L1232.0 388.9 L1234.0 389.0 L1236.0 389.3 L1238.0 390.7 L1240.0 391.4 L1242.0 391.3 L1244.0 391.8 L1246.0 392.2 L1248.0 392.8 L1250.0 393.3 L1252.2 392.9 L1254.4 393.5 L1256.6 393.9 L1258.9 393.7 L1261.1 394.1 L1263.3 393.8 L1265.5 393.6 L1267.6 393.5 L1269.6 394.5 L1271.7 394.2 L1273.8 394.0 L1275.9 395.1 L1277.9 395.8 L1280.0 396.0 L1282.2 396.6 L1284.4 396.1 L1286.6 396.2 L1288.8 396.4 L1291.0 396.9 L1293.2 396.9 L1295.4 397.0 L1297.6 397.5 L1299.6 398.7 L1301.7 399.7 L1303.7 400.2 L1305.8 400.4 L1307.8 400.5" stroke="#008000"/>
<path transform="scale(1,1.100)" d="M1038.3 541.1 L1038.6 542.9 L1038.9 544.8 L1039.3 546.6 L1039.6 548.5 L1039.9 550.3 L1040.2 552.2 L1040.6 554.0 L1040.9 555.9 L1041.2 557.7 L1041.5 559.5 L1041.8 561.4 L1042.2 563.2 L1042.5 565.1 L1042.8 566.9 L1043.1 568.8 L1043.5 570.6 L1043.8 572.5 L1044.1 574.3 L1044.4 576.1 L1044.7 578.0 L1045.1 579.8 L1045.4 581.7 L1045.7 583.5 L1046.0 585.4 L1046.4 587.2 L1046.7 589.1 L1047.0 590.9 L1047.3 592.7 L1047.5 594.6 L1047.8 596.4 L1048.1 598.3 L1048.3 600.1 L1048.6 601.9 L1048.9 603.8 L1049.1 605.6 L1049.4 607.5 L1049.7 609.3 L1049.9 611.1 L1050.2 613.0 L1050.5 614.8 L1050.7 616.6 L1051.0 618.5 L1051.2 620.3 L1051.5 622.2 L1051.8 624.0 L1052.0 625.8 L1052.3 627.7 L1052.6 629.5 L1052.8 631.3 L1053.1 633.2 L1053.4 635.0 L1053.6 636.9 L1053.9 638.7 L1054.2 640.5 L1054.4 642.4 L1054.7 644.2 L1055.0 646.1 L1055.2 647.9 L1055.5 649.7 L1055.8 651.6 L1056.0 653.4 L1056.3 655.2 L1056.6 657.1 L1056.9 658.9 L1057.2 660.7 L1057.4 662.5 L1057.7 664.4 L1058.0 666.2 L1058.2 668.0 L1058.5 669.9 L1058.8 671.7 L1059.1 673.5 L1059.3 675.4 L1059.6 677.2 L1059.9 679.0 L1060.2 680.9 L1060.5 682.7 L1060.7 684.5 L1061.0 686.4 L1061.3 688.2 L1061.6 690.0 L1061.9 691.8 L1062.2 693.7 L1062.4 695.5 L1062.7 697.3 L1063.0 699.2 L1063.3 701.0 L1063.6 702.8 L1063.9 704.6 L1064.2 706.5 L1064.5 708.3 L1064.8 710.1 L1065.1 712.0 L1065.3 713.8 L1065.6 715.6 L1065.9 717.4 L1066.2 719.3 L1066.5 721.1 L1066.9 722.9 L1067.3 724.8 L1067.7 726.6 L1068.1 728.5 L1068.5 730.3 L1069.0 732.2 L1069.4 734.0 L1069.8 735.9 L1070.2 737.8 L1070.6 739.6 L1071.0 741.5 L1071.4 743.3 L1071.8 745.2 L1072.2 747.0 L1072.6 748.9 L1073.0 750.7 L1073.5 752.6 L1073.9 754.4 L1074.3 756.3 L1074.7 758.1 L1075.1 760.0 L1075.5 761.8 L1076.0 763.6 L1076.4 765.5 L1076.9 767.3 L1077.3 769.1 L1077.8 770.9 L1078.2 772.7 L1078.7 774.5 L1079.2 776.4 L1079.6 778.2 L1080.1 780.0 L1080.5 781.8 L1081.0 783.6 L1081.6 785.5 L1082.1 787.3 L1082.7 789.1 L1083.3 790.9 L1083.9 792.7 L1084.4 794.5 L1085.0 796.4 L1085.8 798.3 L1086.7 800.3 L1087.5 802.3 L1088.3 804.3 L1088.8 802.3 L1089.2 800.4 L1089.7 798.5 L1090.1 796.6 L1090.5 794.7 L1091.0 792.7 L1091.3 790.9 L1091.7 789.1 L1092.0 787.3 L1092.3 785.5 L1092.7 783.6 L1093.0 781.8 L1093.1 780.0 L1093.1 778.2 L1093.2 776.4 L1093.3 774.5 L1093.3 772.7 L1093.4 770.9 L1093.5 769.1 L1093.5 767.3 L1093.6 765.5 L1093.7 763.6 L1093.8 761.8 L1093.8 760.0 L1093.9 758.2 L1094.0 756.4 L1094.0 754.5 L1094.1 752.7 L1094.2 750.9 L1094.2 749.1 L1094.3 747.3 L1094.4 745.5 L1094.4 743.6 L1094.5 741.8 L1094.6 740.0 L1094.6 738.2 L1094.7 736.4 L1094.8 734.5 L1094.9 732.7 L1094.9 730.9 L1095.0 729.1 L1095.1 727.3 L1095.1 725.5 L1095.2 723.6 L1095.3 721.8 L1095.3 720.0 L1095.4 718.2 L1095.5 716.3 L1095.6 714.5 L1095.7 712.7 L1095.7 710.8 L1095.8 709.0 L1095.9 707.1 L1096.0 705.3 L1096.1 703.4 L1096.2 701.6 L1096.2 699.8 L1096.3 697.9 L1096.4 696.1 L1096.5 694.2 L1096.6 692.4 L1096.7 690.5 L1096.7 688.7 L1096.8 686.9 L1096.9 685.0 L1097.0 683.2 L1097.1 681.3 L1097.2 679.5 L1097.2 677.6 L1097.3 675.8 L1097.4 674.0 L1097.5 672.1 L1097.6 670.3 L1097.7 668.4 L1097.7 666.6 L1097.8 664.7 L1097.9 662.9 L1098.0 661.1 L1098.1 659.2 L1098.2 657.4 L1098.2 655.5 L1098.3 653.7 L1098.4 651.8 L1098.5 650.0 L1098.6 648.1 L1098.7 646.3 L1098.8 644.4 L1098.9 642.6 L1099.1 640.7 L1099.2 638.9 L1099.3 637.0 L1099.4 635.2 L1099.5 633.3 L1099.6 631.5 L1099.7 629.6 L1099.8 627.8 L1099.9 625.9 L1100.1 624.1 L1100.2 622.2 L1100.3 620.4 L1100.4 618.5 L1100.5 616.7 L1100.6 614.8 L1100.7 613.0 L1100.8 611.1 L1100.9 609.3 L1101.1 607.4 L1101.2 605.6 L1101.3 603.7 L1101.4 601.9 L1101.5 600.0 L1101.6 598.2 L1101.8 596.4 L1101.9 594.5 L1102.1 592.7 L1102.2 590.9 L1102.4 589.1 L1102.5 587.3 L1102.7 585.5 L1102.8 583.6 L1103.0 581.8 L1103.1 580.0 L1103.2 578.2 L1103.4 576.4 L1103.5 574.5 L1103.7 572.7 L1103.8 570.9 L1104.0 569.1 L1104.1 567.3 L1104.3 565.5 L1104.4 563.6 L1104.6 561.8 L1104.7 560.0 L1104.9 558.2 L1105.0 556.4 L1105.2 554.5 L1105.3 552.7 L1105.5 550.9 L1105.6 549.1 L1105.8 547.3 L1106.0 545.5 L1106.1 543.6 L1106.3 541.8 L1106.4 540.0 L1106.6 538.2 L1106.8 536.4 L1106.9 534.5 L1107.1 532.7 L1107.2 530.9 L1107.4 529.1 L1107.5 527.3 L1107.7 525.5 L1107.9 523.6 L1108.0 521.8 L1108.2 520.0 L1108.3 518.2 L1108.5 516.4 L1108.7 514.5 L1108.9 512.6 L1109.2 510.7 L1109.4 508.9 L1109.6 507.0 L1109.8 505.1 L1110.0 503.2 L1110.2 501.4 L1110.5 499.5 L1110.7 497.6 L1110.9 495.7 L1111.1 493.9 L1111.3 492.0 L1111.6 490.1 L1111.8 488.2 L1112.0 486.4 L1112.3 484.5 L1112.5 482.6 L1112.8 480.7 L1113.1 478.8 L1113.4 476.9 L1113.6 475.0 L1113.9 473.1 L1114.2 471.2 L1114.5 469.3 L1114.7 467.4 L1115.0 465.5 L1115.6 463.4 L1116.2 462.1 L1116.7 459.0 L1117.3 456.1 L1119.1 456.6 L1121.0 454.9 L1122.8 453.5 L1124.6 453.3 L1126.5 452.2 L1128.3 452.2 L1130.3 451.3 L1132.4 452.1 L1134.4 451.3 L1136.5 451.3 L1138.5 451.8 L1139.3 453.7 L1140.2 456.0 L1141.1 457.8 L1141.9 458.4 L1143.0 460.7 L1144.2 462.2 L1145.3 463.2 L1147.5 462.4 L1149.8 463.0 L1152.0 462.8 L1153.7 464.8 L1155.4 466.2 L1157.1 467.9 L1158.8 468.7 L1160.5 470.2 L1162.2 471.6 L1163.9 472.4 L1165.6 474.8 L1167.3 475.6 L1169.0 477.7 L1170.7 479.8 L1172.4 481.1 L1173.9 481.3 L1175.4 483.2 L1177.0 484.5 L1178.5 484.9 L1180.0 485.4 L1181.8 487.0 L1183.5 487.5 L1185.2 489.9 L1187.0 491.0 L1189.2 491.8 L1191.3 492.3 L1193.5 493.4 L1195.7 494.8 L1197.8 494.8 L1200.0 495.3 L1202.2 496.2 L1204.3 496.4 L1206.5 497.4 L1208.7 498.1 L1210.8 498.6 L1213.0 499.6 L1215.3 500.1 L1217.5 499.8 L1219.8 501.5 L1221.8 502.0 L1223.9 503.0 L1225.9 503.9 L1228.0 505.9 L1230.0 507.5 L1232.1 507.6 L1234.2 507.7 L1236.3 507.4 L1238.4 509.0 L1240.5 508.2 L1242.6 508.5 L1244.7 508.3 L1246.8 508.1 L1248.9 508.7 L1251.0 508.9 L1253.2 509.0 L1255.3 510.3 L1257.4 511.1 L1259.5 511.3 L1261.7 510.6 L1263.8 511.1 L1265.8 510.2 L1267.8 510.3 L1269.9 511.2 L1271.9 511.8 L1273.9 511.3 L1276.0 511.8 L1278.0 511.4 L1280.0 511.2 L1282.1 511.0 L1284.3 511.4 L1286.4 511.1 L1288.6 510.4 L1290.7 510.3 L1292.9 509.9 L1295.0 509.2 L1297.0 508.9 L1299.0 508.4 L1301.0 507.5 L1303.0 507.1 L1305.0 505.3 L1307.0 505.4 L1309.0 505.6 L1311.0 505.3 L1313.0 505.0 L1315.0 505.4 L1317.0 505.4 L1319.1 505.4 L1321.2 505.4 L1323.3 506.5 L1325.5 506.6 L1327.6 506.5 L1329.7 506.8 L1331.8 507.1 L1333.9 508.0 L1335.9 508.1 L1337.9 508.5 L1339.9 508.7 L1341.9 509.4 L1343.9 509.7 L1345.9 510.2 L1348.0 511.0 L1350.0 511.8 L1352.0 512.3 L1354.0 512.2 L1356.0 512.6 L1358.0 513.4 L1360.0 513.4 L1362.0 513.6 L1364.1 514.1 L1366.2 514.5 L1368.2 515.1 L1370.2 515.6 L1372.3 515.9 L1374.3 516.0 L1376.4 516.2 L1378.4 516.5 L1380.5 516.6 L1382.5 517.4 L1384.6 517.5 L1386.7 518.1 L1388.8 518.2 L1391.0 517.8 L1393.1 517.9 L1395.2 518.1 L1397.3 517.8 L1399.4 518.0 L1401.5 517.8 L1403.7 518.3 L1405.8 517.9 L1407.9 518.3 L1410.0 518.8 L1412.1 519.0 L1414.3 518.6 L1416.4 518.6 L1418.5 518.4 L1420.6 518.4 L1422.7 518.9 L1424.9 519.1 L1427.0 518.6 L1429.1 518.7 L1431.2 518.9 L1433.3 518.7 L1435.5 519.1 L1437.6 519.5 L1439.7 519.4 L1441.8 519.2 L1443.9 519.5 L1446.0 519.5 L1448.2 519.2 L1450.3 519.1 L1452.4 519.0 L1454.5 519.4 L1456.6 519.4 L1458.7 519.5 L1460.9 519.6 L1463.0 519.8 L1465.1 519.2 L1467.2 519.1 L1469.3 519.3 L1471.4 519.4 L1473.5 519.1 L1475.6 519.1 L1477.8 518.7 L1479.9 518.4 L1482.0 518.2 L1484.1 518.3 L1486.2 518.2 L1488.3 518.4 L1490.4 518.9 L1492.5 518.5 L1494.7 518.6 L1496.8 518.9 L1498.9 518.9 L1501.0 518.8 L1503.1 518.9 L1505.2 518.4 L1507.3 518.9 L1509.4 518.9 L1511.5 519.0 L1513.7 519.1 L1515.8 518.6 L1517.9 518.2 L1520.0 518.2 L1522.0 518.4 L1524.1 519.0 L1526.1 519.3 L1528.1 519.0 L1530.2 519.1 L1532.2 519.3 L1534.2 519.0 L1536.3 519.5 L1538.3 519.7 L1540.3 519.7 L1542.4 519.8 L1544.4 519.9 L1546.4 519.8 L1548.5 519.5 L1550.5 519.3 L1552.6 519.3 L1554.7 519.2 L1556.8 520.0 L1558.9 519.9 L1561.0 519.7 L1563.1 519.9 L1565.2 519.9 L1567.2 520.3 L1569.3 520.5 L1571.4 520.5 L1573.5 520.8 L1575.6 521.0 L1577.7 521.1 L1579.8 521.6 L1581.9 521.6 L1584.0 521.8 L1586.0 522.1 L1588.0 522.4 L1590.1 522.1 L1592.1 521.7 L1594.1 522.2 L1596.1 522.1 L1598.2 521.9 L1600.2 521.7 L1602.2 521.7 L1604.2 521.7 L1606.3 521.6 L1608.3 521.5 L1610.3 522.2 L1612.3 522.5 L1614.4 522.1 L1616.4 522.2 L1618.4 522.5 L1620.4 522.5 L1622.5 522.1 L1624.5 522.1 L1626.5 522.2 L1628.5 522.7 L1630.6 522.7 L1632.6 522.6 L1634.6 522.7 L1636.6 522.3 L1638.6 522.6 L1640.6 522.9 L1642.7 522.9 L1644.7 522.7 L1646.7 522.6 L1648.7 522.3 L1650.7 522.2 L1652.7 522.2 L1654.8 522.5 L1656.8 522.9 L1658.8 522.7 L1660.8 522.8 L1662.8 523.0 L1664.8 523.1 L1666.9 522.7 L1668.9 523.2 L1670.9 523.2 L1672.9 523.0 L1674.9 522.9 L1676.9 523.2 L1679.0 523.5 L1681.0 523.3 L1683.0 523.2 L1685.0 523.3 L1687.0 523.1 L1689.1 523.1 L1691.1 523.6 L1693.2 523.6 L1695.2 523.9 L1697.3 523.6 L1699.3 523.9 L1701.4 524.0 L1703.4 523.7 L1705.5 523.8 L1707.5 523.9 L1709.5 524.0 L1711.6 524.0 L1713.6 523.8 L1715.7 524.0 L1717.7 523.9 L1719.8 524.2 L1721.8 524.1 L1723.9 524.5 L1725.9 524.5 L1728.0 524.2 L1730.0 524.2 L1732.0 524.0 L1734.1 524.4 L1736.1 524.1 L1738.2 524.4 L1740.2 524.3 L1742.3 524.7 L1744.3 524.4 L1746.4 524.7 L1748.4 524.9 L1750.5 524.7 L1752.5 524.5 L1756.7 524.8 L1756.7 520.0 L1756.7 530.9" stroke="#0000ff"/>
<path transform="scale(1,1.420)" d="M1119.1 353.7 L1121.0 352.4 L1122.8 351.3 L1124.6 351.1 L1126.5 350.3 L1128.3 350.3 L1130.3 349.6 L1132.4 350.2 L1134.4 349.6 L1136.5 349.6 L1138.5 350.0 L1139.3 351.4 L1140.2 353.2 L1141.1 354.6 L1141.9 355.1 L1143.0 356.9 L1144.2 358.0 L1145.3 358.8 L1147.5 358.2 L1149.8 358.7 L1152.0 358.5 L1153.7 360.0 L1155.4 361.1 L1157.1 362.4 L1158.8 363.1 L1160.5 364.3 L1162.2 365.3 L1163.9 365.9 L1165.6 367.8 L1167.3 368.5 L1169.0 370.0 L1170.7 371.7 L1172.4 372.7 L1173.9 372.8 L1175.4 374.3 L1177.0 375.3 L1178.5 375.6 L1180.0 376.0 L1181.8 377.3 L1183.5 377.7 L1185.2 379.5 L1187.0 380.4 L1189.2 380.9 L1191.3 381.4 L1193.5 382.2 L1195.7 383.3 L1197.8 383.3 L1200.0 383.7 L1202.2 384.4 L1204.3 384.6 L1206.5 385.3 L1208.7 385.9 L1210.8 386.3 L1213.0 387.0 L1215.3 387.4 L1217.5 387.1 L1219.8 388.5 L1221.8 388.9 L1223.9 389.6 L1225.9 390.4 L1228.0 391.9 L1230.0 393.2 L1232.1 393.2 L1234.2 393.3 L1236.3 393.1 L1238.4 394.3 L1240.5 393.7 L1242.6 393.9 L1244.7 393.7 L1246.8 393.6 L1248.9 394.0 L1251.0 394.2 L1253.2 394.3 L1255.3 395.3 L1257.4 395.9 L1259.5 396.1 L1261.7 395.5 L1263.8 395.9 L1265.8 395.2 L1267.8 395.3 L1269.9 396.0 L1271.9 396.5 L1273.9 396.1 L1276.0 396.4 L1278.0 396.1 L1280.0 396.0 L1282.1 395.8 L1284.3 396.2 L1286.4 395.9 L1288.6 395.4 L1290.7 395.3 L1292.9 395.0 L1295.0 394.4 L1297.0 394.2 L1299.0 393.8 L1301.0 393.1 L1303.0 392.8 L1305.0 391.4 L1307.0 391.5 L1309.0 391.7" stroke="#0000ff"/>
<path transform="scale(1,1.100)" d="M1038.3 541.1 L1038.6 542.9 L1039.0 544.8 L1039.3 546.6 L1039.6 548.5 L1039.9 550.3 L1040.3 552.2 L1040.6 554.0 L1040.9 555.9 L1041.3 557.7 L1041.6 559.5 L1041.9 561.4 L1042.3 563.2 L1042.6 565.1 L1042.9 566.9 L1043.2 568.8 L1043.6 570.6 L1043.9 572.5 L1044.2 574.3 L1044.6 576.1 L1044.9 578.0 L1045.2 579.8 L1045.6 581.7 L1045.9 583.5 L1046.2 585.4 L1046.5 587.2 L1046.9 589.1 L1047.2 590.9 L1047.5 592.7 L1047.8 594.6 L1048.1 596.4 L1048.5 598.3 L1048.8 600.1 L1049.1 601.9 L1049.4 603.8 L1049.7 605.6 L1050.0 607.5 L1050.3 609.3 L1050.6 611.1 L1051.0 613.0 L1051.3 614.8 L1051.6 616.6 L1051.9 618.5 L1052.2 620.3 L1052.5 622.2 L1052.8 624.0 L1053.1 625.8 L1053.5 627.7 L1053.8 629.5 L1054.1 631.3 L1054.4 633.2 L1054.7 635.0 L1055.0 636.9 L1055.3 638.7 L1055.6 640.5 L1056.0 642.4 L1056.3 644.2 L1056.6 646.1 L1056.9 647.9 L1057.2 649.7 L1057.5 651.6 L1057.8 653.5 L1058.1 655.4 L1058.4 657.3 L1058.8 659.2 L1059.1 661.1 L1059.4 662.9 L1059.7 664.8 L1060.0 666.7 L1060.3 668.6 L1060.6 670.5 L1060.9 672.4 L1061.3 674.3 L1061.6 676.2 L1061.9 678.0 L1062.2 679.9 L1062.5 681.8 L1062.9 683.7 L1063.3 685.6 L1063.8 687.5 L1064.2 689.4 L1064.6 691.3 L1065.0 693.2 L1065.4 695.1 L1065.8 697.0 L1066.2 698.9 L1066.7 700.8 L1067.1 702.7 L1067.5 704.5 L1067.9 706.4 L1068.2 708.3 L1068.6 710.2 L1068.9 712.0 L1069.3 713.9 L1069.6 715.8 L1070.0 717.7 L1070.3 719.5 L1070.7 721.4 L1071.1 723.3 L1071.4 725.2 L1071.8 727.0 L1072.1 728.9 L1072.5 730.8 L1072.8 732.7 L1073.2 734.5 L1073.6 736.4 L1073.9 738.2 L1074.3 740.0 L1074.7 741.8 L1075.1 743.6 L1075.4 745.5 L1075.8 747.3 L1076.2 749.1 L1076.6 750.9 L1076.9 752.7 L1077.3 754.5 L1077.7 756.4 L1078.1 758.2 L1078.4 760.0 L1078.8 761.8 L1079.3 763.6 L1079.8 765.5 L1080.4 767.3 L1080.9 769.1 L1081.4 770.9 L1081.9 772.7 L1082.5 774.5 L1083.0 776.4 L1083.5 778.2 L1084.1 780.0 L1084.8 781.8 L1085.4 783.6 L1086.0 785.5 L1086.7 787.3 L1087.3 789.1 L1087.4 787.2 L1087.6 785.3 L1087.7 783.3 L1087.8 781.4 L1088.0 779.5 L1088.1 777.6 L1088.2 775.7 L1088.4 773.7 L1088.5 771.8 L1088.6 770.0 L1088.7 768.1 L1088.8 766.3 L1088.9 764.4 L1089.0 762.6 L1089.1 760.7 L1089.2 758.9 L1089.3 757.1 L1089.4 755.2 L1089.5 753.4 L1089.6 751.5 L1089.7 749.7 L1089.8 747.8 L1089.9 746.0 L1090.0 744.1 L1090.1 742.3 L1090.2 740.4 L1090.3 738.6 L1090.4 736.7 L1090.5 734.9 L1090.6 733.1 L1090.7 731.2 L1090.8 729.4 L1090.9 727.5 L1091.0 725.7 L1091.1 723.8 L1091.2 722.0 L1091.3 720.1 L1091.4 718.3 L1091.5 716.4 L1091.6 714.6 L1091.7 712.8 L1091.8 710.9 L1091.9 709.1 L1092.0 707.3 L1092.1 705.5 L1092.2 703.6 L1092.3 701.8 L1092.4 700.0 L1092.5 698.2 L1092.6 696.4 L1092.7 694.5 L1092.8 692.7 L1092.9 690.9 L1093.0 689.1 L1093.1 687.3 L1093.2 685.5 L1093.3 683.6 L1093.4 681.8 L1093.5 680.0 L1093.6 678.2 L1093.7 676.4 L1093.8 674.5 L1093.9 672.7 L1094.0 670.9 L1094.1 669.1 L1094.2 667.3 L1094.3 665.5 L1094.4 663.6 L1094.5 661.8 L1094.6 660.0 L1094.7 658.2 L1094.8 656.4 L1094.9 654.5 L1095.0 652.7 L1095.1 650.9 L1095.2 649.1 L1095.3 647.3 L1095.4 645.5 L1095.5 643.6 L1095.6 641.8 L1095.7 640.0 L1095.8 638.2 L1095.9 636.4 L1096.0 634.5 L1096.1 632.7 L1096.2 630.9 L1096.3 629.1 L1096.4 627.3 L1096.5 625.5 L1096.7 623.6 L1096.8 621.8 L1096.9 620.0 L1097.0 618.2 L1097.2 616.4 L1097.3 614.5 L1097.4 612.7 L1097.5 610.9 L1097.6 609.1 L1097.8 607.3 L1097.9 605.5 L1098.0 603.6 L1098.1 601.8 L1098.2 600.0 L1098.4 598.2 L1098.5 596.4 L1098.6 594.5 L1098.7 592.7 L1098.8 590.9 L1099.0 589.1 L1099.1 587.3 L1099.2 585.5 L1099.3 583.6 L1099.5 581.8 L1099.6 580.0 L1099.7 578.2 L1099.9 576.3 L1100.0 574.5 L1100.2 572.7 L1100.3 570.8 L1100.5 569.0 L1100.6 567.1 L1100.8 565.3 L1101.0 563.5 L1101.1 561.6 L1101.3 559.8 L1101.4 557.9 L1101.6 556.1 L1101.7 554.3 L1101.9 552.4 L1102.1 550.6 L1102.2 548.7 L1102.4 546.9 L1102.5 545.1 L1102.7 543.2 L1102.8 541.4 L1103.0 539.5 L1103.3 537.5 L1103.6 535.5 L1104.0 533.5 L1104.3 531.5 L1104.6 529.5 L1104.7 527.6 L1104.9 525.8 L1105.0 523.9 L1105.1 522.1 L1105.3 520.2 L1105.4 518.4 L1105.6 516.5 L1105.7 514.7 L1105.8 512.8 L1106.0 511.0 L1106.1 509.1 L1106.2 507.3 L1106.4 505.4 L1106.5 503.6 L1106.6 501.7 L1106.8 499.9 L1106.9 498.1 L1107.0 496.2 L1107.2 494.4 L1107.3 492.5 L1107.5 490.7 L1107.6 488.8 L1107.7 487.0 L1107.9 485.1 L1108.0 483.3 L1108.2 481.4 L1108.5 479.5 L1108.7 477.6 L1109.0 475.7 L1109.2 473.9 L1109.4 472.0 L1109.7 470.1 L1109.9 468.2 L1110.2 466.3 L1110.4 464.4 L1110.6 462.6 L1110.9 460.7 L1111.1 458.8 L1111.3 456.9 L1111.6 455.0 L1111.8 453.1 L1112.1 451.2 L1112.3 449.4 L1112.8 447.5 L1113.2 445.7 L1113.7 443.9 L1114.1 442.1 L1114.6 440.3 L1115.0 438.5 L1115.5 436.6 L1115.9 434.8 L1116.4 433.8 L1116.8 432.4 L1117.3 430.8 L1119.9 428.9 L1122.4 428.5 L1125.0 427.8 L1127.2 427.4 L1129.5 426.2 L1131.7 425.4 L1134.0 424.7 L1136.2 423.4 L1138.5 422.6 L1140.8 422.8 L1143.0 423.3 L1145.3 425.1 L1147.5 424.1 L1149.8 423.3 L1152.0 422.8 L1153.7 424.3 L1155.4 425.5 L1156.1 428.2 L1156.8 430.2 L1157.4 432.2 L1158.1 434.1 L1158.8 436.5 L1159.4 437.5 L1160.1 439.6 L1160.7 440.8 L1161.3 442.6 L1162.0 444.6 L1162.6 445.8 L1163.3 446.8 L1163.9 448.9 L1165.2 451.0 L1166.5 452.6 L1167.7 454.0 L1169.0 455.7 L1170.0 456.9 L1171.0 458.4 L1172.0 460.3 L1173.0 463.1 L1174.0 464.3 L1175.0 465.7 L1176.0 467.2 L1177.0 468.8 L1178.0 470.9 L1179.0 473.4 L1180.4 475.8 L1181.8 477.0 L1183.2 478.4 L1184.6 479.7 L1186.0 481.2 L1187.3 483.5 L1188.7 485.0 L1190.0 486.0 L1191.4 486.9 L1192.7 489.4 L1194.4 491.3 L1196.1 493.2 L1197.8 493.9 L1199.5 495.5 L1201.7 496.6 L1204.0 496.7 L1206.2 497.5 L1208.3 495.8 L1210.5 496.1 L1212.6 494.3 L1214.7 493.7 L1216.8 492.8 L1218.8 493.6 L1220.9 493.8 L1223.0 494.3 L1225.2 495.2 L1227.3 496.3 L1229.4 496.5 L1231.6 497.7 L1233.7 497.7 L1235.8 497.1 L1237.9 498.0 L1240.0 497.5 L1242.1 496.0 L1244.2 494.6 L1246.4 494.2 L1248.5 493.1 L1250.6 495.1 L1252.8 496.5 L1254.9 496.3 L1257.0 496.4 L1259.1 497.1 L1261.2 497.1 L1263.4 497.9 L1265.5 499.0 L1267.5 498.8 L1269.4 499.1 L1271.4 500.3 L1273.4 500.4 L1275.3 500.4 L1277.3 501.5 L1279.3 502.0 L1281.4 502.4 L1283.4 502.4 L1285.5 502.0 L1287.5 502.3 L1289.5 503.3 L1291.4 504.0 L1293.4 504.0 L1295.4 504.5 L1297.3 505.3 L1299.3 506.6 L1301.4 507.3 L1303.5 508.1 L1305.7 509.2 L1307.8 509.2 L1310.0 509.5 L1312.1 509.2 L1314.2 509.3 L1316.4 509.7 L1318.5 509.1 L1320.7 509.7 L1322.8 508.9 L1325.0 509.0 L1327.2 509.2 L1329.3 508.9 L1331.5 509.1 L1333.7 509.2 L1335.8 509.2 L1338.0 509.5 L1340.1 509.1 L1342.3 509.2 L1344.6 509.6 L1346.9 509.4 L1349.2 509.9 L1351.4 509.7 L1353.7 510.0 L1356.0 509.8 L1358.1 510.5 L1360.3 511.2 L1362.4 511.6 L1364.6 512.7 L1366.7 513.4 L1368.9 514.3 L1371.0 514.9 L1373.0 515.0 L1375.1 515.0 L1377.1 514.8 L1379.2 515.2 L1381.2 514.8 L1383.2 515.3 L1385.3 515.5 L1387.3 515.4 L1389.4 515.5 L1391.4 515.6 L1393.4 515.6 L1395.5 515.3 L1397.5 515.2 L1399.6 515.2 L1401.6 515.2 L1403.7 515.6 L1405.8 515.3 L1407.9 515.1 L1409.9 515.0 L1412.0 515.2 L1414.1 515.0 L1416.2 514.9 L1418.3 514.6 L1420.4 514.4 L1422.5 514.1 L1424.6 514.0 L1426.7 513.9 L1428.7 514.3 L1430.8 514.2 L1432.9 513.8 L1435.0 513.8 L1437.0 513.5 L1439.0 513.6 L1441.1 513.6 L1443.1 513.8 L1445.1 513.5 L1447.1 513.7 L1449.1 513.3 L1451.1 513.6 L1453.2 513.5 L1455.2 512.9 L1457.2 513.1 L1459.2 512.8 L1461.2 512.6 L1463.2 512.3 L1465.3 512.7 L1467.3 512.2 L1469.3 512.5 L1471.4 512.0 L1473.5 511.8 L1475.6 511.2 L1477.8 510.5 L1479.9 510.7 L1482.0 510.4 L1484.1 509.7 L1486.2 509.8 L1488.2 509.8 L1490.2 509.2 L1492.2 508.6 L1494.2 508.8 L1496.2 508.4 L1498.2 508.6 L1500.2 508.4 L1502.2 508.5 L1504.2 508.3 L1506.2 508.3 L1508.2 508.3 L1510.2 508.6 L1512.1 508.9 L1514.1 509.0 L1516.1 509.1 L1518.0 509.3 L1520.0 510.2 L1522.0 510.0 L1524.0 510.1 L1526.0 510.1 L1528.0 510.3 L1530.0 510.4 L1532.0 510.8 L1534.0 510.6 L1536.0 510.5 L1538.0 510.7 L1540.0 510.9 L1542.0 511.2 L1544.0 510.9 L1546.0 511.2 L1548.0 511.5 L1550.0 511.6 L1552.0 511.1 L1554.1 511.0 L1556.1 511.4 L1558.1 511.6 L1560.2 511.2 L1562.2 511.2 L1564.3 511.6 L1566.3 511.8 L1568.3 511.8 L1570.4 511.6 L1572.4 511.7 L1574.4 511.7 L1576.5 512.1 L1578.5 512.5 L1580.6 513.2 L1582.6 513.6 L1584.7 513.8 L1586.7 513.9 L1588.7 514.2 L1590.8 514.7 L1592.8 515.0 L1594.9 515.1 L1596.9 515.8 L1599.0 516.2 L1601.0 516.8 L1603.0 516.7 L1605.1 516.7 L1607.1 516.5 L1609.1 516.6 L1611.2 516.9 L1613.2 517.1 L1615.2 517.0 L1617.2 516.8 L1619.3 516.3 L1621.3 516.8 L1623.3 516.6 L1625.4 516.6 L1627.4 516.3 L1629.4 516.1 L1631.5 516.3 L1633.5 516.9 L1635.5 517.1 L1637.5 517.1 L1639.6 517.2 L1641.6 516.8 L1643.6 516.6 L1645.7 516.8 L1647.7 516.5 L1649.7 516.8 L1651.8 516.9 L1653.8 517.0 L1655.8 516.7 L1657.8 516.5 L1659.9 516.8 L1661.9 516.6 L1663.9 517.0 L1666.0 516.9 L1668.0 517.2 L1670.0 517.4 L1672.0 517.4 L1674.0 517.4 L1676.0 517.1 L1678.1 517.0 L1680.1 517.6 L1682.1 517.3 L1684.1 517.1 L1686.1 517.2 L1688.1 517.3 L1690.1 517.6 L1692.1 517.3 L1694.2 517.8 L1696.2 517.2 L1698.2 517.6 L1700.2 517.6 L1702.2 517.9 L1704.2 517.4 L1706.2 517.6 L1708.2 518.0 L1710.2 517.9 L1712.3 517.5 L1714.3 517.9 L1716.3 518.1 L1718.3 517.6 L1720.3 517.9 L1722.3 517.4 L1724.3 517.2 L1726.3 517.7 L1728.4 517.9 L1730.4 518.2 L1732.4 518.1 L1734.4 518.0 L1736.4 517.7 L1738.4 517.8 L1740.4 518.2 L1742.4 518.2 L1744.5 518.3 L1746.5 517.9 L1748.5 518.1 L1750.5 518.2 L1752.5 517.7 L1756.7 517.9 L1756.7 498.0 L1756.7 530.0" stroke="#bfbf00"/>
<path transform="scale(1,1.420)" d="M1119.9 332.2 L1122.4 331.9 L1125.0 331.4 L1127.2 331.1 L1129.5 330.1 L1131.7 329.6 L1134.0 329.0 L1136.2 328.0 L1138.5 327.4 L1140.8 327.5 L1143.0 327.9 L1145.3 329.3 L1147.5 328.5 L1149.8 327.9 L1152.0 327.5 L1153.7 328.7 L1155.4 329.6 L1156.1 331.7 L1156.8 333.2 L1157.4 334.8 L1158.1 336.3 L1158.8 338.2 L1159.4 338.9 L1160.1 340.5 L1160.7 341.5 L1161.3 342.9 L1162.0 344.4 L1162.6 345.3 L1163.3 346.1 L1163.9 347.7 L1165.2 349.4 L1166.5 350.6 L1167.7 351.7 L1169.0 353.0 L1170.0 353.9 L1171.0 355.1 L1172.0 356.6 L1173.0 358.7 L1174.0 359.7 L1175.0 360.7 L1176.0 361.9 L1177.0 363.2 L1178.0 364.8 L1179.0 366.8 L1180.4 368.6 L1181.8 369.5 L1183.2 370.6 L1184.6 371.6 L1186.0 372.7 L1187.3 374.5 L1188.7 375.7 L1190.0 376.5 L1191.4 377.2 L1192.7 379.1 L1194.4 380.6 L1196.1 382.1 L1197.8 382.6 L1199.5 383.9 L1201.7 384.7 L1204.0 384.7 L1206.2 385.4 L1208.3 384.1 L1210.5 384.3 L1212.6 382.9 L1214.7 382.4 L1216.8 381.7 L1218.8 382.4 L1220.9 382.5 L1223.0 382.9 L1225.2 383.6 L1227.3 384.4 L1229.4 384.6 L1231.6 385.6 L1233.7 385.6 L1235.8 385.1 L1237.9 385.8 L1240.0 385.4 L1242.1 384.2 L1244.2 383.1 L1246.4 382.8 L1248.5 382.0 L1250.6 383.5 L1252.8 384.6 L1254.9 384.5 L1257.0 384.5 L1259.1 385.1 L1261.2 385.1 L1263.4 385.7 L1265.5 386.6 L1267.5 386.4 L1269.4 386.6 L1271.4 387.6 L1273.4 387.6 L1275.3 387.6 L1277.3 388.5 L1279.3 388.9 L1281.4 389.2 L1283.4 389.2 L1285.5 388.8 L1287.5 389.1 L1289.5 389.9 L1291.4 390.4 L1293.4 390.4 L1295.4 390.8 L1297.3 391.4 L1299.3 392.4 L1301.4 393.0 L1303.5 393.6 L1305.7 394.5 L1307.8 394.5 L1310.0 394.7" stroke="#bfbf00"/>
<path transform="scale(1,1.100)" d="M1038.3 541.1 L1038.6 542.9 L1038.9 544.8 L1039.2 546.6 L1039.4 548.5 L1039.7 550.3 L1040.0 552.2 L1040.3 554.0 L1040.6 555.9 L1040.9 557.7 L1041.2 559.5 L1041.4 561.4 L1041.7 563.2 L1042.0 565.1 L1042.3 566.9 L1042.6 568.8 L1042.9 570.6 L1043.1 572.5 L1043.4 574.3 L1043.7 576.1 L1044.0 578.0 L1044.3 579.8 L1044.6 581.7 L1044.9 583.5 L1045.1 585.4 L1045.4 587.2 L1045.7 589.1 L1046.0 590.9 L1046.2 592.7 L1046.5 594.6 L1046.7 596.4 L1047.0 598.3 L1047.2 600.1 L1047.4 601.9 L1047.7 603.8 L1047.9 605.6 L1048.2 607.5 L1048.4 609.3 L1048.6 611.1 L1048.9 613.0 L1049.1 614.8 L1049.4 616.6 L1049.6 618.5 L1049.8 620.3 L1050.1 622.2 L1050.3 624.0 L1050.6 625.8 L1050.8 627.7 L1051.1 629.5 L1051.3 631.3 L1051.5 633.2 L1051.8 635.0 L1052.0 636.9 L1052.3 638.7 L1052.5 640.5 L1052.7 642.4 L1053.0 644.2 L1053.2 646.1 L1053.5 647.9 L1053.7 649.7 L1054.0 651.6 L1054.2 653.5 L1054.5 655.3 L1054.8 657.2 L1055.0 659.1 L1055.3 661.0 L1055.5 662.8 L1055.8 664.7 L1056.1 666.6 L1056.3 668.4 L1056.6 670.3 L1056.9 672.2 L1057.1 674.1 L1057.4 675.9 L1057.7 677.8 L1057.9 679.7 L1058.2 681.5 L1058.4 683.4 L1058.7 685.3 L1059.0 687.2 L1059.2 689.0 L1059.5 690.9 L1059.8 692.8 L1060.2 694.7 L1060.5 696.6 L1060.8 698.5 L1061.2 700.3 L1061.5 702.2 L1061.9 704.1 L1062.2 706.0 L1062.5 707.9 L1062.9 709.8 L1063.2 711.7 L1063.6 713.5 L1063.9 715.4 L1064.2 717.3 L1064.6 719.2 L1064.9 721.1 L1065.3 722.9 L1065.7 724.8 L1066.1 726.6 L1066.5 728.5 L1066.9 730.3 L1067.4 732.2 L1067.8 734.0 L1068.2 735.9 L1068.6 737.8 L1069.0 739.6 L1069.4 741.5 L1069.8 743.3 L1070.2 745.2 L1070.6 747.0 L1071.0 748.9 L1071.4 750.7 L1071.9 752.6 L1072.3 754.4 L1072.7 756.3 L1073.1 758.1 L1073.5 760.0 L1073.9 761.8 L1074.4 763.6 L1074.8 765.5 L1075.3 767.3 L1075.8 769.1 L1076.2 770.9 L1076.7 772.7 L1077.2 774.5 L1077.6 776.4 L1078.1 778.2 L1078.6 780.0 L1079.0 781.8 L1079.5 783.6 L1079.8 785.4 L1080.1 787.2 L1080.3 789.0 L1080.6 790.8 L1080.9 792.6 L1081.2 794.4 L1081.5 796.2 L1081.8 798.0 L1082.0 799.8 L1082.3 801.6 L1082.6 803.4 L1082.9 805.2 L1083.2 807.1 L1083.4 808.9 L1083.7 810.7 L1084.0 812.5 L1084.6 814.4 L1085.2 816.2 L1085.8 818.1 L1086.5 820.0 L1087.1 821.9 L1087.7 823.8 L1088.3 825.7 L1088.9 823.7 L1089.5 821.7 L1090.2 819.7 L1090.8 817.7 L1091.4 815.7 L1092.0 813.6 L1092.2 811.8 L1092.4 810.0 L1092.6 808.2 L1092.8 806.4 L1093.0 804.5 L1093.2 802.7 L1093.4 800.9 L1093.6 799.1 L1093.8 797.3 L1094.0 795.5 L1094.2 793.5 L1094.3 791.6 L1094.5 789.6 L1094.7 787.7 L1094.9 785.7 L1095.0 783.8 L1095.2 781.8 L1095.2 780.0 L1095.3 778.2 L1095.3 776.3 L1095.4 774.5 L1095.4 772.7 L1095.5 770.9 L1095.5 769.0 L1095.6 767.2 L1095.6 765.4 L1095.6 763.6 L1095.7 761.7 L1095.7 759.9 L1095.8 758.1 L1095.8 756.3 L1095.9 754.4 L1095.9 752.6 L1095.9 750.8 L1096.0 749.0 L1096.0 747.1 L1096.1 745.3 L1096.1 743.5 L1096.2 741.7 L1096.2 739.8 L1096.3 738.0 L1096.3 736.2 L1096.3 734.4 L1096.4 732.5 L1096.4 730.7 L1096.5 728.9 L1096.5 727.1 L1096.6 725.2 L1096.6 723.4 L1096.7 721.6 L1096.7 719.8 L1096.7 717.9 L1096.8 716.1 L1096.8 714.3 L1096.9 712.5 L1096.9 710.6 L1097.0 708.8 L1097.0 707.0 L1097.0 705.1 L1097.1 703.3 L1097.1 701.5 L1097.2 699.7 L1097.2 697.8 L1097.3 696.0 L1097.3 694.2 L1097.4 692.4 L1097.4 690.5 L1097.5 688.7 L1097.6 686.8 L1097.7 685.0 L1097.8 683.1 L1097.9 681.3 L1098.0 679.4 L1098.1 677.5 L1098.2 675.7 L1098.3 673.8 L1098.4 672.0 L1098.5 670.1 L1098.6 668.3 L1098.7 666.4 L1098.8 664.6 L1098.9 662.7 L1099.0 660.8 L1099.2 659.0 L1099.3 657.1 L1099.4 655.3 L1099.5 653.4 L1099.6 651.6 L1099.7 649.7 L1099.8 647.8 L1099.9 646.0 L1100.0 644.1 L1100.1 642.3 L1100.2 640.4 L1100.3 638.6 L1100.4 636.7 L1100.5 634.8 L1100.6 633.0 L1100.7 631.1 L1100.8 629.3 L1100.9 627.4 L1101.1 625.6 L1101.2 623.8 L1101.3 622.0 L1101.5 620.1 L1101.6 618.3 L1101.7 616.5 L1101.9 614.7 L1102.0 612.8 L1102.1 611.0 L1102.3 609.2 L1102.4 607.4 L1102.5 605.5 L1102.7 603.7 L1102.8 601.9 L1102.9 600.1 L1103.1 598.2 L1103.2 596.4 L1103.3 594.6 L1103.5 592.8 L1103.6 590.9 L1103.7 589.1 L1103.9 587.3 L1104.0 585.5 L1104.1 583.6 L1104.3 581.8 L1104.4 580.0 L1104.6 578.2 L1104.8 576.4 L1105.0 574.5 L1105.1 572.7 L1105.3 570.9 L1105.5 569.1 L1105.7 567.3 L1105.9 565.5 L1106.1 563.6 L1106.3 561.8 L1106.4 560.0 L1106.6 558.2 L1106.8 556.4 L1107.0 554.5 L1107.2 552.7 L1107.4 550.9 L1107.6 549.1 L1107.7 547.3 L1107.9 545.5 L1108.1 543.6 L1108.3 541.8 L1108.5 540.0 L1108.7 538.2 L1108.8 536.4 L1109.0 534.5 L1109.2 532.7 L1109.4 530.9 L1109.6 529.1 L1109.8 527.3 L1109.9 525.5 L1110.1 523.6 L1110.3 521.8 L1110.5 520.0 L1110.7 518.2 L1110.9 516.4 L1111.0 514.5 L1111.2 512.7 L1111.4 510.9 L1111.6 509.1 L1111.9 507.2 L1112.1 505.4 L1112.3 503.5 L1112.5 501.7 L1112.8 499.9 L1113.0 498.0 L1113.2 496.2 L1113.4 494.3 L1113.7 492.5 L1113.9 490.6 L1114.1 488.8 L1114.3 487.0 L1114.6 485.1 L1114.8 483.3 L1115.1 481.3 L1115.4 479.4 L1115.7 477.5 L1116.0 475.9 L1116.4 474.4 L1116.7 471.6 L1117.0 470.6 L1117.3 467.7 L1118.0 466.3 L1118.7 463.6 L1119.4 462.6 L1120.2 460.1 L1120.9 458.9 L1121.6 457.5 L1122.9 455.9 L1124.2 453.5 L1125.4 452.1 L1126.7 450.7 L1129.2 449.4 L1131.7 449.4 L1133.4 449.2 L1135.1 448.3 L1136.8 446.8 L1139.1 445.7 L1141.3 446.1 L1143.6 444.5 L1145.3 446.6 L1147.0 448.6 L1148.2 449.5 L1149.5 451.2 L1150.8 453.0 L1152.0 455.2 L1153.2 457.0 L1154.5 459.9 L1155.8 462.4 L1157.0 463.5 L1158.7 465.6 L1160.5 466.0 L1162.2 466.9 L1163.9 468.7 L1165.6 470.3 L1167.3 471.7 L1168.6 473.8 L1169.8 475.4 L1171.1 475.9 L1172.4 477.7 L1174.1 479.8 L1175.7 480.1 L1177.3 481.6 L1179.0 482.6 L1181.2 483.0 L1183.3 484.2 L1185.4 485.6 L1187.6 487.2 L1189.7 486.9 L1191.8 487.8 L1193.9 489.5 L1196.0 490.3 L1198.3 490.5 L1200.5 490.2 L1202.8 491.1 L1205.1 490.0 L1207.3 489.9 L1209.6 489.7 L1211.3 490.3 L1213.0 491.8 L1214.7 492.4 L1216.4 493.3 L1218.4 495.0 L1220.4 495.3 L1222.5 495.9 L1224.5 497.3 L1226.5 498.4 L1228.5 499.8 L1230.6 499.7 L1232.6 500.2 L1234.7 500.1 L1236.7 501.1 L1238.7 501.6 L1240.6 502.3 L1242.6 503.5 L1244.6 503.1 L1246.5 504.8 L1248.5 505.5 L1250.6 506.5 L1252.8 506.9 L1254.9 507.6 L1257.0 508.0 L1259.1 508.3 L1261.2 508.5 L1263.4 508.9 L1265.5 509.4 L1267.9 509.6 L1270.2 510.8 L1272.6 511.4 L1274.9 511.4 L1277.3 510.4 L1279.6 510.1 L1281.8 510.4 L1284.1 510.7 L1286.4 510.4 L1288.6 510.5 L1290.9 511.0 L1293.0 510.3 L1295.1 510.2 L1297.2 510.8 L1299.3 510.4 L1301.5 510.9 L1303.6 510.7 L1305.7 510.2 L1307.8 510.5 L1309.8 510.2 L1311.8 511.0 L1313.8 511.5 L1315.8 511.4 L1317.8 511.8 L1319.8 511.3 L1321.9 511.3 L1323.9 511.0 L1325.9 510.8 L1327.9 511.5 L1329.9 511.1 L1331.9 511.8 L1333.9 511.9 L1336.0 511.9 L1338.1 511.4 L1340.2 511.8 L1342.4 511.9 L1344.5 511.3 L1346.6 511.1 L1348.7 510.9 L1350.8 511.1 L1352.9 510.8 L1355.0 511.2 L1357.1 511.1 L1359.2 511.3 L1361.4 510.9 L1363.5 511.1 L1365.6 511.0 L1367.7 511.0 L1369.8 511.0 L1371.9 511.6 L1374.1 511.9 L1376.2 512.0 L1378.3 511.8 L1380.4 511.6 L1382.5 511.6 L1384.7 511.6 L1386.8 512.3 L1388.9 512.3 L1391.0 512.8 L1393.1 512.6 L1395.2 512.9 L1397.4 512.8 L1399.5 512.9 L1401.6 513.3 L1403.7 513.3 L1405.8 513.6 L1407.9 513.1 L1410.0 512.9 L1412.2 512.6 L1414.3 512.5 L1416.4 513.0 L1418.5 513.0 L1420.6 512.9 L1422.7 512.7 L1424.8 512.9 L1427.0 512.9 L1429.1 512.5 L1431.2 512.1 L1433.3 512.0 L1435.4 512.4 L1437.5 512.7 L1439.6 512.4 L1441.8 512.3 L1443.9 512.3 L1446.0 512.7 L1448.1 512.9 L1450.2 512.7 L1452.3 512.7 L1454.5 512.6 L1456.6 513.2 L1458.7 513.2 L1460.8 513.5 L1462.9 513.1 L1465.1 513.3 L1467.2 513.3 L1469.3 513.7 L1471.4 513.4 L1473.5 513.2 L1475.6 513.6 L1477.7 513.9 L1479.8 513.8 L1481.9 513.6 L1484.0 513.3 L1486.2 513.4 L1488.3 513.9 L1490.4 513.7 L1492.5 513.7 L1494.6 513.8 L1496.7 513.7 L1498.8 513.5 L1500.9 513.7 L1503.0 514.3 L1505.1 514.4 L1507.1 514.0 L1509.2 514.2 L1511.3 514.3 L1513.3 514.2 L1515.4 513.9 L1517.5 513.6 L1519.5 513.8 L1521.6 513.9 L1523.7 513.6 L1525.7 513.3 L1527.8 513.1 L1529.8 513.6 L1531.9 513.9 L1534.0 513.8 L1536.0 513.7 L1538.1 513.8 L1540.2 513.4 L1542.2 513.4 L1544.3 513.4 L1546.4 513.7 L1548.4 513.3 L1550.5 513.6 L1552.6 513.1 L1554.7 513.3 L1556.8 513.5 L1558.9 513.0 L1561.0 513.0 L1563.1 512.6 L1565.2 512.8 L1567.2 512.8 L1569.3 513.2 L1571.4 513.0 L1573.5 513.2 L1575.6 513.2 L1577.7 513.2 L1579.8 512.8 L1581.9 512.4 L1584.0 512.5 L1586.1 512.3 L1588.2 512.6 L1590.3 512.4 L1592.5 512.7 L1594.6 513.0 L1596.7 513.3 L1598.8 512.9 L1600.9 512.7 L1603.0 512.8 L1605.1 513.3 L1607.2 513.1 L1609.3 513.1 L1611.5 513.1 L1613.6 512.8 L1615.7 513.1 L1617.8 513.1 L1619.9 513.2 L1622.0 513.6 L1624.1 513.7 L1626.2 513.4 L1628.3 513.7 L1630.4 513.7 L1632.5 513.9 L1634.7 513.5 L1636.8 513.4 L1638.9 513.8 L1641.0 513.9 L1643.1 513.9 L1645.2 514.0 L1647.3 514.1 L1649.4 514.3 L1651.5 514.5 L1653.6 514.6 L1655.7 514.9 L1657.8 514.8 L1659.9 514.4 L1662.0 514.4 L1664.1 514.9 L1666.2 515.1 L1668.2 515.2 L1670.3 514.8 L1672.4 514.7 L1674.5 515.1 L1676.6 515.1 L1678.7 515.0 L1680.8 515.7 L1682.9 515.4 L1685.0 515.9 L1687.1 516.0 L1689.2 516.3 L1691.3 516.4 L1693.5 516.1 L1695.6 515.9 L1697.7 516.4 L1699.8 516.4 L1701.9 516.4 L1704.0 516.7 L1706.1 516.8 L1708.2 517.0 L1710.3 517.0 L1712.5 516.8 L1714.6 517.1 L1716.7 516.9 L1718.8 517.2 L1720.9 517.6 L1723.0 517.2 L1725.1 517.0 L1727.2 517.6 L1729.3 517.4 L1731.4 517.7 L1733.5 517.6 L1735.7 517.5 L1737.8 517.6 L1739.9 517.6 L1742.0 518.2 L1744.1 518.5 L1746.2 518.8 L1748.3 518.4 L1750.4 518.4 L1752.5 518.3 L1756.7 518.7 L1756.7 514.5 L1756.7 522.7" stroke="#bd1a1a"/>
<path transform="scale(1,1.420)" d="M1118.0 361.2 L1118.7 359.2 L1119.4 358.3 L1120.2 356.4 L1120.9 355.5 L1121.6 354.4 L1122.9 353.2 L1124.2 351.3 L1125.4 350.2 L1126.7 349.1 L1129.2 348.1 L1131.7 348.1 L1133.4 348.0 L1135.1 347.3 L1136.8 346.1 L1139.1 345.3 L1141.3 345.6 L1143.6 344.3 L1145.3 346.0 L1147.0 347.5 L1148.2 348.2 L1149.5 349.5 L1150.8 350.9 L1152.0 352.6 L1153.2 354.0 L1154.5 356.2 L1155.8 358.2 L1157.0 359.1 L1158.7 360.7 L1160.5 361.0 L1162.2 361.7 L1163.9 363.0 L1165.6 364.3 L1167.3 365.4 L1168.6 367.0 L1169.8 368.3 L1171.1 368.6 L1172.4 370.1 L1174.1 371.6 L1175.7 371.9 L1177.3 373.1 L1179.0 373.8 L1181.2 374.2 L1183.3 375.1 L1185.4 376.1 L1187.6 377.4 L1189.7 377.2 L1191.8 377.8 L1193.9 379.2 L1196.0 379.8 L1198.3 379.9 L1200.5 379.8 L1202.8 380.4 L1205.1 379.6 L1207.3 379.5 L1209.6 379.3 L1211.3 379.8 L1213.0 381.0 L1214.7 381.4 L1216.4 382.1 L1218.4 383.4 L1220.4 383.7 L1222.5 384.1 L1224.5 385.3 L1226.5 386.1 L1228.5 387.2 L1230.6 387.1 L1232.6 387.5 L1234.7 387.4 L1236.7 388.2 L1238.7 388.5 L1240.6 389.1 L1242.6 390.0 L1244.6 389.7 L1246.5 391.0 L1248.5 391.6 L1250.6 392.4 L1252.8 392.7 L1254.9 393.2 L1257.0 393.5 L1259.1 393.8 L1261.2 393.9 L1263.4 394.2 L1265.5 394.6 L1267.9 394.8 L1270.2 395.7 L1272.6 396.1 L1274.9 396.2 L1277.3 395.4 L1279.6 395.1 L1281.8 395.3 L1284.1 395.6 L1286.4 395.4 L1288.6 395.5 L1290.9 395.8 L1293.0 395.3 L1295.1 395.2 L1297.2 395.7 L1299.3 395.4 L1301.5 395.8 L1303.6 395.6 L1305.7 395.2 L1307.8 395.5 L1309.8 395.2" stroke="#bd1a1a"/>
</g>
<line x1="1037.9" y1="595.2" x2="1763.4" y2="595.2" stroke="#000" stroke-width="5.36" stroke-dasharray="5.26 8.95"/>
<line x1="1086.9" y1="1135.2" x2="1086.9" y2="163.3" stroke="#000" stroke-width="5.36" stroke-dasharray="5.26 8.95"/>
</g>
<line x1="1025.7" y1="163.3" x2="1038.3" y2="163.3" stroke="#000" stroke-width="2.9"/>
<text x="1013.0" y="175.5" text-anchor="end" font-size="35.7">0.4</text>
<line x1="1025.7" y1="271.3" x2="1038.3" y2="271.3" stroke="#000" stroke-width="2.9"/>
<text x="1013.0" y="283.4" text-anchor="end" font-size="35.7">0.3</text>
<line x1="1025.7" y1="379.4" x2="1038.3" y2="379.4" stroke="#000" stroke-width="2.9"/>
<text x="1013.0" y="391.3" text-anchor="end" font-size="35.7">0.2</text>
<line x1="1025.7" y1="487.4" x2="1038.3" y2="487.4" stroke="#000" stroke-width="2.9"/>
<text x="1013.0" y="499.2" text-anchor="end" font-size="35.7">0.1</text>
<line x1="1025.7" y1="595.5" x2="1038.3" y2="595.5" stroke="#000" stroke-width="2.9"/>
<text x="1013.0" y="607.1" text-anchor="end" font-size="35.7">0.0</text>
<line x1="1025.7" y1="703.5" x2="1038.3" y2="703.5" stroke="#000" stroke-width="2.9"/>
<text x="1013.0" y="715.1" text-anchor="end" font-size="35.7">−0.1</text>
<line x1="1025.7" y1="811.6" x2="1038.3" y2="811.6" stroke="#000" stroke-width="2.9"/>
<text x="1013.0" y="823.0" text-anchor="end" font-size="35.7">−0.2</text>
<line x1="1025.7" y1="919.6" x2="1038.3" y2="919.6" stroke="#000" stroke-width="2.9"/>
<text x="1013.0" y="930.9" text-anchor="end" font-size="35.7">−0.3</text>
<line x1="1025.7" y1="1027.7" x2="1038.3" y2="1027.7" stroke="#000" stroke-width="2.9"/>
<text x="1013.0" y="1038.8" text-anchor="end" font-size="35.7">−0.4</text>
<line x1="1025.7" y1="1135.7" x2="1038.3" y2="1135.7" stroke="#000" stroke-width="2.9"/>
<text x="1013.0" y="1146.7" text-anchor="end" font-size="35.7">−0.5</text>
<line x1="1038.3" y1="1135.7" x2="1038.3" y2="1149.3" stroke="#000" stroke-width="2.9"/>
<text x="1038.4" y="1185.9" text-anchor="middle" font-size="35.7">0</text>
<line x1="1215.1" y1="1135.7" x2="1215.1" y2="1149.3" stroke="#000" stroke-width="2.9"/>
<text x="1214.8" y="1185.9" text-anchor="middle" font-size="35.7">10</text>
<line x1="1392.0" y1="1135.7" x2="1392.0" y2="1149.3" stroke="#000" stroke-width="2.9"/>
<text x="1391.4" y="1185.9" text-anchor="middle" font-size="35.7">20</text>
<line x1="1568.8" y1="1135.7" x2="1568.8" y2="1149.3" stroke="#000" stroke-width="2.9"/>
<text x="1568.4" y="1185.9" text-anchor="middle" font-size="35.7">30</text>
<line x1="1745.7" y1="1135.7" x2="1745.7" y2="1149.3" stroke="#000" stroke-width="2.9"/>
<text x="1745.2" y="1185.9" text-anchor="middle" font-size="35.7">40</text>
<rect x="1038.3" y="163.3" width="725.1" height="972.4" fill="none" stroke="#000" stroke-width="2.9"/>
<text x="1400.5" y="141.4" text-anchor="middle" font-size="43.0">Essay set 2</text>
<text x="905" y="1235.0" text-anchor="middle" font-size="35.7">Average number of comparisons per object</text>
<text transform="translate(33.8 649) rotate(-90)" text-anchor="middle" font-size="35.7">SSR bias</text>
<rect x="295.8" y="181.7" width="580.0" height="218.0" rx="5.5" ry="5.5" fill="#fff" fill-opacity="0.8" stroke="#cccccc" stroke-opacity="0.8" stroke-width="2.7"/>
<line x1="307.3" y1="209.5" x2="384.4" y2="209.5" stroke="#008000" stroke-width="5.6"/>
<text x="411" y="221.9" font-size="35.7">progressive + random</text>
<line x1="307.3" y1="261.6" x2="384.4" y2="261.6" stroke="#0000ff" stroke-width="5.6"/>
<text x="411" y="274.1" font-size="35.7">progressive + tf-idf</text>
<line x1="307.3" y1="313.6" x2="384.4" y2="313.6" stroke="#bfbf00" stroke-width="5.6"/>
<text x="411" y="326.2" font-size="35.7">progressive + word emb.</text>
<line x1="307.3" y1="365.6" x2="384.4" y2="365.6" stroke="#bd1a1a" stroke-width="5.6"/>
<text x="411" y="378.6" font-size="35.7">progressive + doc,emb.</text>
</g>
<g font-family="'Liberation Sans', Arial, sans-serif" font-weight="bold" font-size="32.6" fill="#111">
<text x="24.6" y="46.2">A</text>
<text x="918.6" y="46.2">B</text>
</g>
</svg>
</body>
</html>
